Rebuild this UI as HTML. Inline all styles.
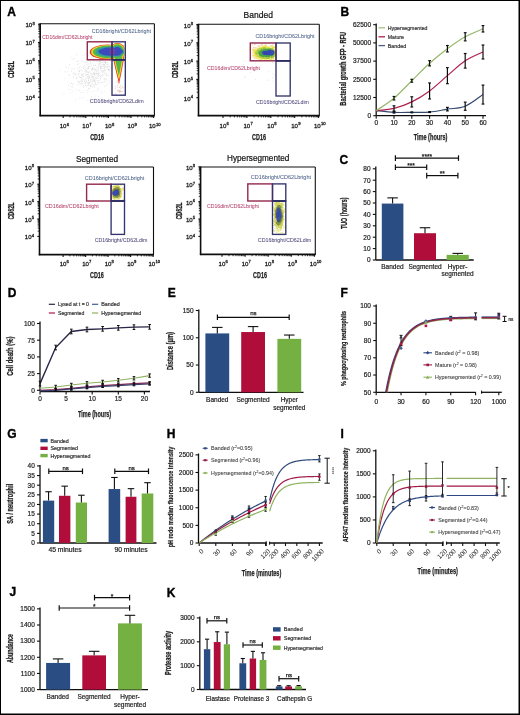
<!DOCTYPE html><html><head><meta charset="utf-8"><style>html,body{margin:0;padding:0;background:#fff;}svg{display:block;will-change:transform;}</style></head><body><svg width="520" height="715" viewBox="0 0 520 715" font-family='"Liberation Sans", sans-serif'>
<rect x="0" y="0" width="520" height="715" fill="#fff"/>
<defs><filter id="gblur" x="0" y="0" width="520" height="715" filterUnits="userSpaceOnUse"><feGaussianBlur stdDeviation="0.45"/></filter></defs>
<g filter="url(#gblur)"><rect x="0" y="0" width="520" height="715" fill="#fff"/>
<text x="7.3" y="15.8" font-size="12" font-weight="bold" fill="#000" stroke="#000" stroke-width="0.35">A</text>
<text x="340.6" y="15.8" font-size="12" font-weight="bold" fill="#000" stroke="#000" stroke-width="0.35">B</text>
<text x="339.6" y="164.4" font-size="12" font-weight="bold" fill="#000" stroke="#000" stroke-width="0.35">C</text>
<text x="7.7" y="297" font-size="12" font-weight="bold" fill="#000" stroke="#000" stroke-width="0.35">D</text>
<text x="167.7" y="297.3" font-size="12" font-weight="bold" fill="#000" stroke="#000" stroke-width="0.35">E</text>
<text x="340.6" y="297" font-size="12" font-weight="bold" fill="#000" stroke="#000" stroke-width="0.35">F</text>
<text x="7.3" y="438.3" font-size="12" font-weight="bold" fill="#000" stroke="#000" stroke-width="0.35">G</text>
<text x="166.7" y="438.3" font-size="12" font-weight="bold" fill="#000" stroke="#000" stroke-width="0.35">H</text>
<text x="340.6" y="438.3" font-size="12" font-weight="bold" fill="#000" stroke="#000" stroke-width="0.35">I</text>
<text x="9.6" y="595.6" font-size="12" font-weight="bold" fill="#000" stroke="#000" stroke-width="0.35">J</text>
<text x="166.7" y="596.5" font-size="12" font-weight="bold" fill="#000" stroke="#000" stroke-width="0.35">K</text>
<line x1="376.20" y1="23.50" x2="376.20" y2="115.70" stroke="#111" stroke-width="1.3" />
<line x1="373.20" y1="115.70" x2="376.20" y2="115.70" stroke="#111" stroke-width="1.1" />
<text x="371.00" y="118.04" font-size="6.5" text-anchor="end" fill="#222" stroke="#222" stroke-width="0.2" >0</text>
<line x1="373.20" y1="97.50" x2="376.20" y2="97.50" stroke="#111" stroke-width="1.1" />
<text x="371.00" y="99.84" font-size="6.5" text-anchor="end" fill="#222" stroke="#222" stroke-width="0.2" >12500</text>
<line x1="373.20" y1="79.30" x2="376.20" y2="79.30" stroke="#111" stroke-width="1.1" />
<text x="371.00" y="81.64" font-size="6.5" text-anchor="end" fill="#222" stroke="#222" stroke-width="0.2" >25000</text>
<line x1="373.20" y1="61.10" x2="376.20" y2="61.10" stroke="#111" stroke-width="1.1" />
<text x="371.00" y="63.44" font-size="6.5" text-anchor="end" fill="#222" stroke="#222" stroke-width="0.2" >37500</text>
<line x1="373.20" y1="42.90" x2="376.20" y2="42.90" stroke="#111" stroke-width="1.1" />
<text x="371.00" y="45.24" font-size="6.5" text-anchor="end" fill="#222" stroke="#222" stroke-width="0.2" >50000</text>
<line x1="373.20" y1="24.70" x2="376.20" y2="24.70" stroke="#111" stroke-width="1.1" />
<text x="371.00" y="27.04" font-size="6.5" text-anchor="end" fill="#222" stroke="#222" stroke-width="0.2" >62500</text>
<line x1="376.20" y1="115.70" x2="486.00" y2="115.70" stroke="#111" stroke-width="1.3" />
<line x1="376.20" y1="115.70" x2="376.20" y2="118.70" stroke="#111" stroke-width="1.1" />
<text x="376.20" y="124.74" font-size="6.5" text-anchor="middle" fill="#222" stroke="#222" stroke-width="0.2" >0</text>
<line x1="394.00" y1="115.70" x2="394.00" y2="118.70" stroke="#111" stroke-width="1.1" />
<text x="394.00" y="124.74" font-size="6.5" text-anchor="middle" fill="#222" stroke="#222" stroke-width="0.2" >10</text>
<line x1="411.80" y1="115.70" x2="411.80" y2="118.70" stroke="#111" stroke-width="1.1" />
<text x="411.80" y="124.74" font-size="6.5" text-anchor="middle" fill="#222" stroke="#222" stroke-width="0.2" >20</text>
<line x1="429.60" y1="115.70" x2="429.60" y2="118.70" stroke="#111" stroke-width="1.1" />
<text x="429.60" y="124.74" font-size="6.5" text-anchor="middle" fill="#222" stroke="#222" stroke-width="0.2" >30</text>
<line x1="447.40" y1="115.70" x2="447.40" y2="118.70" stroke="#111" stroke-width="1.1" />
<text x="447.40" y="124.74" font-size="6.5" text-anchor="middle" fill="#222" stroke="#222" stroke-width="0.2" >40</text>
<line x1="465.20" y1="115.70" x2="465.20" y2="118.70" stroke="#111" stroke-width="1.1" />
<text x="465.20" y="124.74" font-size="6.5" text-anchor="middle" fill="#222" stroke="#222" stroke-width="0.2" >50</text>
<line x1="483.00" y1="115.70" x2="483.00" y2="118.70" stroke="#111" stroke-width="1.1" />
<text x="483.00" y="124.74" font-size="6.5" text-anchor="middle" fill="#222" stroke="#222" stroke-width="0.2" >60</text>
<text x="343.80" y="68.80" font-size="8.2" text-anchor="middle" fill="#222" font-weight="bold" dominant-baseline="central" stroke="#222" stroke-width="0.25" textLength="73.7" lengthAdjust="spacingAndGlyphs" transform="rotate(-90 343.80 68.80)">Bacterial growth GFP - RFU</text>
<text x="430.50" y="139.80" font-size="8.6" text-anchor="middle" fill="#222" font-weight="bold" stroke="#222" stroke-width="0.25" textLength="33.7" lengthAdjust="spacingAndGlyphs" >Time (hours)</text>
<path d="M376.20,110.60 C379.17,110.90 388.07,112.06 394.00,112.35 C399.93,112.64 405.87,112.40 411.80,112.35 C417.73,112.30 423.67,112.59 429.60,112.06 C435.53,111.53 441.47,110.12 447.40,109.15 C453.33,108.18 459.27,108.66 465.20,106.24 C471.13,103.81 480.03,96.53 483.00,94.59" fill="none" stroke="#34496e" stroke-width="1.2" />
<path d="M376.20,110.60 C379.17,110.24 388.07,109.88 394.00,108.42 C399.93,106.96 405.87,104.78 411.80,101.87 C417.73,98.96 423.67,95.32 429.60,90.95 C435.53,86.58 441.47,80.68 447.40,75.66 C453.33,70.64 459.27,64.75 465.20,60.81 C471.13,56.87 480.03,53.47 483.00,52.00" fill="none" stroke="#b0204e" stroke-width="1.2" />
<path d="M376.20,110.60 C379.17,108.54 388.07,103.20 394.00,98.23 C399.93,93.25 405.87,86.58 411.80,80.76 C417.73,74.93 423.67,68.62 429.60,63.28 C435.53,57.95 441.47,53.14 447.40,48.72 C453.33,44.31 459.27,40.11 465.20,36.78 C471.13,33.46 480.03,30.11 483.00,28.78" fill="none" stroke="#96b86a" stroke-width="1.2" />
<line x1="394.00" y1="111.62" x2="394.00" y2="113.08" stroke="#111" stroke-width="1.2" />
<line x1="392.60" y1="111.62" x2="395.40" y2="111.62" stroke="#111" stroke-width="1.2" />
<line x1="392.60" y1="113.08" x2="395.40" y2="113.08" stroke="#111" stroke-width="1.2" />
<line x1="411.80" y1="111.91" x2="411.80" y2="112.79" stroke="#111" stroke-width="1.2" />
<line x1="410.40" y1="111.91" x2="413.20" y2="111.91" stroke="#111" stroke-width="1.2" />
<line x1="410.40" y1="112.79" x2="413.20" y2="112.79" stroke="#111" stroke-width="1.2" />
<line x1="429.60" y1="111.62" x2="429.60" y2="112.50" stroke="#111" stroke-width="1.2" />
<line x1="428.20" y1="111.62" x2="431.00" y2="111.62" stroke="#111" stroke-width="1.2" />
<line x1="428.20" y1="112.50" x2="431.00" y2="112.50" stroke="#111" stroke-width="1.2" />
<line x1="447.40" y1="107.40" x2="447.40" y2="110.90" stroke="#111" stroke-width="1.2" />
<line x1="446.00" y1="107.40" x2="448.80" y2="107.40" stroke="#111" stroke-width="1.2" />
<line x1="446.00" y1="110.90" x2="448.80" y2="110.90" stroke="#111" stroke-width="1.2" />
<line x1="465.20" y1="102.16" x2="465.20" y2="110.31" stroke="#111" stroke-width="1.2" />
<line x1="463.80" y1="102.16" x2="466.60" y2="102.16" stroke="#111" stroke-width="1.2" />
<line x1="463.80" y1="110.31" x2="466.60" y2="110.31" stroke="#111" stroke-width="1.2" />
<line x1="483.00" y1="85.12" x2="483.00" y2="104.05" stroke="#111" stroke-width="1.2" />
<line x1="481.60" y1="85.12" x2="484.40" y2="85.12" stroke="#111" stroke-width="1.2" />
<line x1="481.60" y1="104.05" x2="484.40" y2="104.05" stroke="#111" stroke-width="1.2" />
<line x1="394.00" y1="105.80" x2="394.00" y2="111.04" stroke="#111" stroke-width="1.2" />
<line x1="392.60" y1="105.80" x2="395.40" y2="105.80" stroke="#111" stroke-width="1.2" />
<line x1="392.60" y1="111.04" x2="395.40" y2="111.04" stroke="#111" stroke-width="1.2" />
<line x1="411.80" y1="96.77" x2="411.80" y2="106.96" stroke="#111" stroke-width="1.2" />
<line x1="410.40" y1="96.77" x2="413.20" y2="96.77" stroke="#111" stroke-width="1.2" />
<line x1="410.40" y1="106.96" x2="413.20" y2="106.96" stroke="#111" stroke-width="1.2" />
<line x1="429.60" y1="82.94" x2="429.60" y2="98.96" stroke="#111" stroke-width="1.2" />
<line x1="428.20" y1="82.94" x2="431.00" y2="82.94" stroke="#111" stroke-width="1.2" />
<line x1="428.20" y1="98.96" x2="431.00" y2="98.96" stroke="#111" stroke-width="1.2" />
<line x1="447.40" y1="67.65" x2="447.40" y2="83.67" stroke="#111" stroke-width="1.2" />
<line x1="446.00" y1="67.65" x2="448.80" y2="67.65" stroke="#111" stroke-width="1.2" />
<line x1="446.00" y1="83.67" x2="448.80" y2="83.67" stroke="#111" stroke-width="1.2" />
<line x1="465.20" y1="53.53" x2="465.20" y2="68.09" stroke="#111" stroke-width="1.2" />
<line x1="463.80" y1="53.53" x2="466.60" y2="53.53" stroke="#111" stroke-width="1.2" />
<line x1="463.80" y1="68.09" x2="466.60" y2="68.09" stroke="#111" stroke-width="1.2" />
<line x1="483.00" y1="45.01" x2="483.00" y2="58.99" stroke="#111" stroke-width="1.2" />
<line x1="481.60" y1="45.01" x2="484.40" y2="45.01" stroke="#111" stroke-width="1.2" />
<line x1="481.60" y1="58.99" x2="484.40" y2="58.99" stroke="#111" stroke-width="1.2" />
<line x1="394.00" y1="96.48" x2="394.00" y2="99.98" stroke="#111" stroke-width="1.2" />
<line x1="392.60" y1="96.48" x2="395.40" y2="96.48" stroke="#111" stroke-width="1.2" />
<line x1="392.60" y1="99.98" x2="395.40" y2="99.98" stroke="#111" stroke-width="1.2" />
<line x1="411.80" y1="79.30" x2="411.80" y2="82.21" stroke="#111" stroke-width="1.2" />
<line x1="410.40" y1="79.30" x2="413.20" y2="79.30" stroke="#111" stroke-width="1.2" />
<line x1="410.40" y1="82.21" x2="413.20" y2="82.21" stroke="#111" stroke-width="1.2" />
<line x1="429.60" y1="60.66" x2="429.60" y2="65.90" stroke="#111" stroke-width="1.2" />
<line x1="428.20" y1="60.66" x2="431.00" y2="60.66" stroke="#111" stroke-width="1.2" />
<line x1="428.20" y1="65.90" x2="431.00" y2="65.90" stroke="#111" stroke-width="1.2" />
<line x1="447.40" y1="45.52" x2="447.40" y2="51.93" stroke="#111" stroke-width="1.2" />
<line x1="446.00" y1="45.52" x2="448.80" y2="45.52" stroke="#111" stroke-width="1.2" />
<line x1="446.00" y1="51.93" x2="448.80" y2="51.93" stroke="#111" stroke-width="1.2" />
<line x1="465.20" y1="32.71" x2="465.20" y2="40.86" stroke="#111" stroke-width="1.2" />
<line x1="463.80" y1="32.71" x2="466.60" y2="32.71" stroke="#111" stroke-width="1.2" />
<line x1="463.80" y1="40.86" x2="466.60" y2="40.86" stroke="#111" stroke-width="1.2" />
<line x1="483.00" y1="25.57" x2="483.00" y2="31.98" stroke="#111" stroke-width="1.2" />
<line x1="481.60" y1="25.57" x2="484.40" y2="25.57" stroke="#111" stroke-width="1.2" />
<line x1="481.60" y1="31.98" x2="484.40" y2="31.98" stroke="#111" stroke-width="1.2" />
<line x1="378.50" y1="27.80" x2="385.00" y2="27.80" stroke="#a8c080" stroke-width="1.3" />
<text x="387.80" y="29.82" font-size="5.6" text-anchor="start" fill="#333" stroke="#333" stroke-width="0.2" textLength="39.7" lengthAdjust="spacingAndGlyphs" >Hypersegmented</text>
<line x1="378.50" y1="36.80" x2="385.00" y2="36.80" stroke="#b0204e" stroke-width="1.3" />
<text x="387.80" y="38.82" font-size="5.6" text-anchor="start" fill="#333" stroke="#333" stroke-width="0.2" textLength="16.1" lengthAdjust="spacingAndGlyphs" >Mature</text>
<line x1="378.50" y1="45.60" x2="385.00" y2="45.60" stroke="#4a6080" stroke-width="1.3" />
<text x="387.80" y="47.62" font-size="5.6" text-anchor="start" fill="#333" stroke="#333" stroke-width="0.2" textLength="18.4" lengthAdjust="spacingAndGlyphs" >Banded</text>
<line x1="375.80" y1="166.60" x2="375.80" y2="260.00" stroke="#111" stroke-width="1.3" />
<line x1="372.80" y1="260.00" x2="375.80" y2="260.00" stroke="#111" stroke-width="1.1" />
<text x="370.60" y="262.34" font-size="6.5" text-anchor="end" fill="#222" stroke="#222" stroke-width="0.2" >0</text>
<line x1="372.80" y1="248.60" x2="375.80" y2="248.60" stroke="#111" stroke-width="1.1" />
<text x="370.60" y="250.94" font-size="6.5" text-anchor="end" fill="#222" stroke="#222" stroke-width="0.2" >10</text>
<line x1="372.80" y1="237.20" x2="375.80" y2="237.20" stroke="#111" stroke-width="1.1" />
<text x="370.60" y="239.54" font-size="6.5" text-anchor="end" fill="#222" stroke="#222" stroke-width="0.2" >20</text>
<line x1="372.80" y1="225.80" x2="375.80" y2="225.80" stroke="#111" stroke-width="1.1" />
<text x="370.60" y="228.14" font-size="6.5" text-anchor="end" fill="#222" stroke="#222" stroke-width="0.2" >30</text>
<line x1="372.80" y1="214.40" x2="375.80" y2="214.40" stroke="#111" stroke-width="1.1" />
<text x="370.60" y="216.74" font-size="6.5" text-anchor="end" fill="#222" stroke="#222" stroke-width="0.2" >40</text>
<line x1="372.80" y1="203.00" x2="375.80" y2="203.00" stroke="#111" stroke-width="1.1" />
<text x="370.60" y="205.34" font-size="6.5" text-anchor="end" fill="#222" stroke="#222" stroke-width="0.2" >50</text>
<line x1="372.80" y1="191.60" x2="375.80" y2="191.60" stroke="#111" stroke-width="1.1" />
<text x="370.60" y="193.94" font-size="6.5" text-anchor="end" fill="#222" stroke="#222" stroke-width="0.2" >60</text>
<line x1="372.80" y1="180.20" x2="375.80" y2="180.20" stroke="#111" stroke-width="1.1" />
<text x="370.60" y="182.54" font-size="6.5" text-anchor="end" fill="#222" stroke="#222" stroke-width="0.2" >70</text>
<line x1="372.80" y1="168.80" x2="375.80" y2="168.80" stroke="#111" stroke-width="1.1" />
<text x="370.60" y="171.14" font-size="6.5" text-anchor="end" fill="#222" stroke="#222" stroke-width="0.2" >80</text>
<line x1="375.80" y1="260.00" x2="473.70" y2="260.00" stroke="#111" stroke-width="1.3" />
<text x="344.40" y="213.30" font-size="8.2" text-anchor="middle" fill="#222" font-weight="bold" dominant-baseline="central" stroke="#222" stroke-width="0.25" textLength="31.6" lengthAdjust="spacingAndGlyphs" transform="rotate(-90 344.40 213.30)">TUO (hours)</text>
<rect x="381.80" y="203.57" width="21.60" height="56.43" fill="#2c4d84" />
<line x1="392.60" y1="203.57" x2="392.60" y2="197.87" stroke="#111" stroke-width="1.1" />
<line x1="387.35" y1="197.87" x2="397.85" y2="197.87" stroke="#111" stroke-width="1.1" />
<rect x="414.00" y="233.21" width="22.00" height="26.79" fill="#b0103a" />
<line x1="425.00" y1="233.21" x2="425.00" y2="227.74" stroke="#111" stroke-width="1.1" />
<line x1="419.75" y1="227.74" x2="430.25" y2="227.74" stroke="#111" stroke-width="1.1" />
<rect x="446.60" y="254.87" width="22.20" height="5.13" fill="#74b043" />
<line x1="457.70" y1="254.87" x2="457.70" y2="253.39" stroke="#111" stroke-width="1.1" />
<line x1="452.45" y1="253.39" x2="462.95" y2="253.39" stroke="#111" stroke-width="1.1" />
<line x1="395.40" y1="158.10" x2="458.50" y2="158.10" stroke="#111" stroke-width="1.2" />
<line x1="395.40" y1="155.30" x2="395.40" y2="160.90" stroke="#111" stroke-width="1.2" />
<line x1="458.50" y1="155.30" x2="458.50" y2="160.90" stroke="#111" stroke-width="1.2" />
<text x="426.95" y="158.83" font-size="6.6" text-anchor="middle" fill="#222" stroke="#222" stroke-width="0.25">****</text>
<line x1="395.40" y1="167.30" x2="426.70" y2="167.30" stroke="#111" stroke-width="1.2" />
<line x1="395.40" y1="164.50" x2="395.40" y2="170.10" stroke="#111" stroke-width="1.2" />
<line x1="426.70" y1="164.50" x2="426.70" y2="170.10" stroke="#111" stroke-width="1.2" />
<text x="411.05" y="168.03" font-size="6.6" text-anchor="middle" fill="#222" stroke="#222" stroke-width="0.25">***</text>
<line x1="426.70" y1="175.60" x2="457.90" y2="175.60" stroke="#111" stroke-width="1.2" />
<line x1="426.70" y1="172.80" x2="426.70" y2="178.40" stroke="#111" stroke-width="1.2" />
<line x1="457.90" y1="172.80" x2="457.90" y2="178.40" stroke="#111" stroke-width="1.2" />
<text x="442.30" y="176.43" font-size="6.6" text-anchor="middle" fill="#222" stroke="#222" stroke-width="0.25">**</text>
<text x="392.50" y="269.04" font-size="6.5" text-anchor="middle" fill="#222" stroke="#222" stroke-width="0.2" >Banded</text>
<text x="425.00" y="269.04" font-size="6.5" text-anchor="middle" fill="#222" stroke="#222" stroke-width="0.2" >Segmented</text>
<text x="457.60" y="269.04" font-size="6.5" text-anchor="middle" fill="#222" stroke="#222" stroke-width="0.2" >Hyper-</text>
<text x="457.60" y="276.34" font-size="6.5" text-anchor="middle" fill="#222" stroke="#222" stroke-width="0.2" >segmented</text>
<line x1="40.00" y1="321.50" x2="40.00" y2="391.50" stroke="#111" stroke-width="1.3" />
<line x1="37.00" y1="390.30" x2="40.00" y2="390.30" stroke="#111" stroke-width="1.1" />
<text x="34.80" y="392.64" font-size="6.5" text-anchor="end" fill="#222" stroke="#222" stroke-width="0.2" >0</text>
<line x1="37.00" y1="373.60" x2="40.00" y2="373.60" stroke="#111" stroke-width="1.1" />
<text x="34.80" y="375.94" font-size="6.5" text-anchor="end" fill="#222" stroke="#222" stroke-width="0.2" >25</text>
<line x1="37.00" y1="356.90" x2="40.00" y2="356.90" stroke="#111" stroke-width="1.1" />
<text x="34.80" y="359.24" font-size="6.5" text-anchor="end" fill="#222" stroke="#222" stroke-width="0.2" >50</text>
<line x1="37.00" y1="340.20" x2="40.00" y2="340.20" stroke="#111" stroke-width="1.1" />
<text x="34.80" y="342.54" font-size="6.5" text-anchor="end" fill="#222" stroke="#222" stroke-width="0.2" >75</text>
<line x1="37.00" y1="323.50" x2="40.00" y2="323.50" stroke="#111" stroke-width="1.1" />
<text x="34.80" y="325.84" font-size="6.5" text-anchor="end" fill="#222" stroke="#222" stroke-width="0.2" >100</text>
<line x1="40.00" y1="391.50" x2="150.00" y2="391.50" stroke="#111" stroke-width="1.3" />
<line x1="40.00" y1="391.50" x2="40.00" y2="394.50" stroke="#111" stroke-width="1.1" />
<text x="40.00" y="400.54" font-size="6.5" text-anchor="middle" fill="#222" stroke="#222" stroke-width="0.2" >0</text>
<line x1="66.10" y1="391.50" x2="66.10" y2="394.50" stroke="#111" stroke-width="1.1" />
<text x="66.10" y="400.54" font-size="6.5" text-anchor="middle" fill="#222" stroke="#222" stroke-width="0.2" >5</text>
<line x1="92.20" y1="391.50" x2="92.20" y2="394.50" stroke="#111" stroke-width="1.1" />
<text x="92.20" y="400.54" font-size="6.5" text-anchor="middle" fill="#222" stroke="#222" stroke-width="0.2" >10</text>
<line x1="118.30" y1="391.50" x2="118.30" y2="394.50" stroke="#111" stroke-width="1.1" />
<text x="118.30" y="400.54" font-size="6.5" text-anchor="middle" fill="#222" stroke="#222" stroke-width="0.2" >15</text>
<line x1="144.40" y1="391.50" x2="144.40" y2="394.50" stroke="#111" stroke-width="1.1" />
<text x="144.40" y="400.54" font-size="6.5" text-anchor="middle" fill="#222" stroke="#222" stroke-width="0.2" >20</text>
<text x="10.70" y="356.20" font-size="8.2" text-anchor="middle" fill="#222" font-weight="bold" dominant-baseline="central" stroke="#222" stroke-width="0.25" textLength="39.3" lengthAdjust="spacingAndGlyphs" transform="rotate(-90 10.70 356.20)">Cell death (%)</text>
<text x="94.60" y="416.90" font-size="8.6" text-anchor="middle" fill="#222" font-weight="bold" stroke="#222" stroke-width="0.25" textLength="33.2" lengthAdjust="spacingAndGlyphs" >Time (hours)</text>
<path d="M40.00,388.30 L55.66,386.96 L71.32,384.96 L86.98,383.29 L102.64,381.95 L118.30,380.28 L133.96,378.28 L149.62,375.60" fill="none" stroke="#8fb35e" stroke-width="1.1" />
<path d="M40.00,390.30 L55.66,389.63 L71.32,388.30 L86.98,386.96 L102.64,385.62 L118.30,384.62 L133.96,383.62 L149.62,382.95" fill="none" stroke="#8a2050" stroke-width="1.2" />
<path d="M40.00,390.97 L55.66,390.30 L71.32,388.96 L86.98,387.63 L102.64,386.29 L118.30,385.62 L133.96,384.62 L149.62,383.95" fill="none" stroke="#3a3f6e" stroke-width="1.2" />
<path d="M40.00,383.62 L55.66,347.55 L71.32,331.52 L86.98,329.51 L102.64,328.84 L118.30,327.84 L133.96,327.17 L149.62,326.84" fill="none" stroke="#2a2748" stroke-width="1.4" />
<line x1="40.00" y1="381.28" x2="40.00" y2="385.96" stroke="#111" stroke-width="1.0" />
<line x1="38.70" y1="381.28" x2="41.30" y2="381.28" stroke="#111" stroke-width="1.0" />
<line x1="38.70" y1="385.96" x2="41.30" y2="385.96" stroke="#111" stroke-width="1.0" />
<line x1="55.66" y1="345.21" x2="55.66" y2="349.89" stroke="#111" stroke-width="1.0" />
<line x1="54.36" y1="345.21" x2="56.96" y2="345.21" stroke="#111" stroke-width="1.0" />
<line x1="54.36" y1="349.89" x2="56.96" y2="349.89" stroke="#111" stroke-width="1.0" />
<line x1="71.32" y1="329.18" x2="71.32" y2="333.85" stroke="#111" stroke-width="1.0" />
<line x1="70.02" y1="329.18" x2="72.62" y2="329.18" stroke="#111" stroke-width="1.0" />
<line x1="70.02" y1="333.85" x2="72.62" y2="333.85" stroke="#111" stroke-width="1.0" />
<line x1="86.98" y1="327.17" x2="86.98" y2="331.85" stroke="#111" stroke-width="1.0" />
<line x1="85.68" y1="327.17" x2="88.28" y2="327.17" stroke="#111" stroke-width="1.0" />
<line x1="85.68" y1="331.85" x2="88.28" y2="331.85" stroke="#111" stroke-width="1.0" />
<line x1="102.64" y1="326.51" x2="102.64" y2="331.18" stroke="#111" stroke-width="1.0" />
<line x1="101.34" y1="326.51" x2="103.94" y2="326.51" stroke="#111" stroke-width="1.0" />
<line x1="101.34" y1="331.18" x2="103.94" y2="331.18" stroke="#111" stroke-width="1.0" />
<line x1="118.30" y1="325.50" x2="118.30" y2="330.18" stroke="#111" stroke-width="1.0" />
<line x1="117.00" y1="325.50" x2="119.60" y2="325.50" stroke="#111" stroke-width="1.0" />
<line x1="117.00" y1="330.18" x2="119.60" y2="330.18" stroke="#111" stroke-width="1.0" />
<line x1="133.96" y1="324.84" x2="133.96" y2="329.51" stroke="#111" stroke-width="1.0" />
<line x1="132.66" y1="324.84" x2="135.26" y2="324.84" stroke="#111" stroke-width="1.0" />
<line x1="132.66" y1="329.51" x2="135.26" y2="329.51" stroke="#111" stroke-width="1.0" />
<line x1="149.62" y1="324.50" x2="149.62" y2="329.18" stroke="#111" stroke-width="1.0" />
<line x1="148.32" y1="324.50" x2="150.92" y2="324.50" stroke="#111" stroke-width="1.0" />
<line x1="148.32" y1="329.18" x2="150.92" y2="329.18" stroke="#111" stroke-width="1.0" />
<line x1="55.66" y1="385.29" x2="55.66" y2="388.63" stroke="#111" stroke-width="1.0" />
<line x1="54.36" y1="385.29" x2="56.96" y2="385.29" stroke="#111" stroke-width="1.0" />
<line x1="54.36" y1="388.63" x2="56.96" y2="388.63" stroke="#111" stroke-width="1.0" />
<line x1="71.32" y1="383.29" x2="71.32" y2="386.63" stroke="#111" stroke-width="1.0" />
<line x1="70.02" y1="383.29" x2="72.62" y2="383.29" stroke="#111" stroke-width="1.0" />
<line x1="70.02" y1="386.63" x2="72.62" y2="386.63" stroke="#111" stroke-width="1.0" />
<line x1="86.98" y1="381.62" x2="86.98" y2="384.96" stroke="#111" stroke-width="1.0" />
<line x1="85.68" y1="381.62" x2="88.28" y2="381.62" stroke="#111" stroke-width="1.0" />
<line x1="85.68" y1="384.96" x2="88.28" y2="384.96" stroke="#111" stroke-width="1.0" />
<line x1="102.64" y1="380.28" x2="102.64" y2="383.62" stroke="#111" stroke-width="1.0" />
<line x1="101.34" y1="380.28" x2="103.94" y2="380.28" stroke="#111" stroke-width="1.0" />
<line x1="101.34" y1="383.62" x2="103.94" y2="383.62" stroke="#111" stroke-width="1.0" />
<line x1="118.30" y1="378.61" x2="118.30" y2="381.95" stroke="#111" stroke-width="1.0" />
<line x1="117.00" y1="378.61" x2="119.60" y2="378.61" stroke="#111" stroke-width="1.0" />
<line x1="117.00" y1="381.95" x2="119.60" y2="381.95" stroke="#111" stroke-width="1.0" />
<line x1="133.96" y1="376.61" x2="133.96" y2="379.95" stroke="#111" stroke-width="1.0" />
<line x1="132.66" y1="376.61" x2="135.26" y2="376.61" stroke="#111" stroke-width="1.0" />
<line x1="132.66" y1="379.95" x2="135.26" y2="379.95" stroke="#111" stroke-width="1.0" />
<line x1="149.62" y1="373.93" x2="149.62" y2="377.27" stroke="#111" stroke-width="1.0" />
<line x1="148.32" y1="373.93" x2="150.92" y2="373.93" stroke="#111" stroke-width="1.0" />
<line x1="148.32" y1="377.27" x2="150.92" y2="377.27" stroke="#111" stroke-width="1.0" />
<line x1="55.66" y1="388.30" x2="55.66" y2="390.97" stroke="#111" stroke-width="1.0" />
<line x1="54.36" y1="388.30" x2="56.96" y2="388.30" stroke="#111" stroke-width="1.0" />
<line x1="54.36" y1="390.97" x2="56.96" y2="390.97" stroke="#111" stroke-width="1.0" />
<line x1="71.32" y1="386.96" x2="71.32" y2="389.63" stroke="#111" stroke-width="1.0" />
<line x1="70.02" y1="386.96" x2="72.62" y2="386.96" stroke="#111" stroke-width="1.0" />
<line x1="70.02" y1="389.63" x2="72.62" y2="389.63" stroke="#111" stroke-width="1.0" />
<line x1="86.98" y1="385.62" x2="86.98" y2="388.30" stroke="#111" stroke-width="1.0" />
<line x1="85.68" y1="385.62" x2="88.28" y2="385.62" stroke="#111" stroke-width="1.0" />
<line x1="85.68" y1="388.30" x2="88.28" y2="388.30" stroke="#111" stroke-width="1.0" />
<line x1="102.64" y1="384.29" x2="102.64" y2="386.96" stroke="#111" stroke-width="1.0" />
<line x1="101.34" y1="384.29" x2="103.94" y2="384.29" stroke="#111" stroke-width="1.0" />
<line x1="101.34" y1="386.96" x2="103.94" y2="386.96" stroke="#111" stroke-width="1.0" />
<line x1="118.30" y1="383.29" x2="118.30" y2="385.96" stroke="#111" stroke-width="1.0" />
<line x1="117.00" y1="383.29" x2="119.60" y2="383.29" stroke="#111" stroke-width="1.0" />
<line x1="117.00" y1="385.96" x2="119.60" y2="385.96" stroke="#111" stroke-width="1.0" />
<line x1="133.96" y1="382.28" x2="133.96" y2="384.96" stroke="#111" stroke-width="1.0" />
<line x1="132.66" y1="382.28" x2="135.26" y2="382.28" stroke="#111" stroke-width="1.0" />
<line x1="132.66" y1="384.96" x2="135.26" y2="384.96" stroke="#111" stroke-width="1.0" />
<line x1="149.62" y1="381.62" x2="149.62" y2="384.29" stroke="#111" stroke-width="1.0" />
<line x1="148.32" y1="381.62" x2="150.92" y2="381.62" stroke="#111" stroke-width="1.0" />
<line x1="148.32" y1="384.29" x2="150.92" y2="384.29" stroke="#111" stroke-width="1.0" />
<line x1="55.66" y1="389.10" x2="55.66" y2="391.50" stroke="#111" stroke-width="1.0" />
<line x1="54.36" y1="389.10" x2="56.96" y2="389.10" stroke="#111" stroke-width="1.0" />
<line x1="54.36" y1="391.50" x2="56.96" y2="391.50" stroke="#111" stroke-width="1.0" />
<line x1="71.32" y1="387.76" x2="71.32" y2="390.17" stroke="#111" stroke-width="1.0" />
<line x1="70.02" y1="387.76" x2="72.62" y2="387.76" stroke="#111" stroke-width="1.0" />
<line x1="70.02" y1="390.17" x2="72.62" y2="390.17" stroke="#111" stroke-width="1.0" />
<line x1="86.98" y1="386.43" x2="86.98" y2="388.83" stroke="#111" stroke-width="1.0" />
<line x1="85.68" y1="386.43" x2="88.28" y2="386.43" stroke="#111" stroke-width="1.0" />
<line x1="85.68" y1="388.83" x2="88.28" y2="388.83" stroke="#111" stroke-width="1.0" />
<line x1="102.64" y1="385.09" x2="102.64" y2="387.49" stroke="#111" stroke-width="1.0" />
<line x1="101.34" y1="385.09" x2="103.94" y2="385.09" stroke="#111" stroke-width="1.0" />
<line x1="101.34" y1="387.49" x2="103.94" y2="387.49" stroke="#111" stroke-width="1.0" />
<line x1="118.30" y1="384.42" x2="118.30" y2="386.83" stroke="#111" stroke-width="1.0" />
<line x1="117.00" y1="384.42" x2="119.60" y2="384.42" stroke="#111" stroke-width="1.0" />
<line x1="117.00" y1="386.83" x2="119.60" y2="386.83" stroke="#111" stroke-width="1.0" />
<line x1="133.96" y1="383.42" x2="133.96" y2="385.82" stroke="#111" stroke-width="1.0" />
<line x1="132.66" y1="383.42" x2="135.26" y2="383.42" stroke="#111" stroke-width="1.0" />
<line x1="132.66" y1="385.82" x2="135.26" y2="385.82" stroke="#111" stroke-width="1.0" />
<line x1="149.62" y1="382.75" x2="149.62" y2="385.16" stroke="#111" stroke-width="1.0" />
<line x1="148.32" y1="382.75" x2="150.92" y2="382.75" stroke="#111" stroke-width="1.0" />
<line x1="148.32" y1="385.16" x2="150.92" y2="385.16" stroke="#111" stroke-width="1.0" />
<line x1="48.80" y1="304.30" x2="55.00" y2="304.30" stroke="#2a2748" stroke-width="1.2" />
<text x="58.00" y="306.32" font-size="5.6" text-anchor="start" fill="#333" stroke="#333" stroke-width="0.2" textLength="31" lengthAdjust="spacingAndGlyphs" >Lysed at t = 0</text>
<line x1="92.00" y1="304.30" x2="98.20" y2="304.30" stroke="#3b5f93" stroke-width="1.2" />
<text x="101.20" y="306.32" font-size="5.6" text-anchor="start" fill="#333" stroke="#333" stroke-width="0.2" textLength="18.6" lengthAdjust="spacingAndGlyphs" >Banded</text>
<line x1="48.80" y1="313.00" x2="55.00" y2="313.00" stroke="#b5174a" stroke-width="1.2" />
<text x="58.00" y="315.02" font-size="5.6" text-anchor="start" fill="#333" stroke="#333" stroke-width="0.2" textLength="26.3" lengthAdjust="spacingAndGlyphs" >Segmented</text>
<line x1="92.00" y1="313.00" x2="98.20" y2="313.00" stroke="#8fb35e" stroke-width="1.2" />
<text x="101.20" y="315.02" font-size="5.6" text-anchor="start" fill="#333" stroke="#333" stroke-width="0.2" textLength="40" lengthAdjust="spacingAndGlyphs" >Hypersegmented</text>
<line x1="198.80" y1="309.50" x2="198.80" y2="392.30" stroke="#111" stroke-width="1.3" />
<line x1="195.80" y1="392.30" x2="198.80" y2="392.30" stroke="#111" stroke-width="1.1" />
<text x="193.60" y="394.64" font-size="6.5" text-anchor="end" fill="#222" stroke="#222" stroke-width="0.2" >0</text>
<line x1="195.80" y1="365.04" x2="198.80" y2="365.04" stroke="#111" stroke-width="1.1" />
<text x="193.60" y="367.38" font-size="6.5" text-anchor="end" fill="#222" stroke="#222" stroke-width="0.2" >50</text>
<line x1="195.80" y1="337.77" x2="198.80" y2="337.77" stroke="#111" stroke-width="1.1" />
<text x="193.60" y="340.11" font-size="6.5" text-anchor="end" fill="#222" stroke="#222" stroke-width="0.2" >100</text>
<line x1="195.80" y1="310.50" x2="198.80" y2="310.50" stroke="#111" stroke-width="1.1" />
<text x="193.60" y="312.84" font-size="6.5" text-anchor="end" fill="#222" stroke="#222" stroke-width="0.2" >150</text>
<line x1="198.80" y1="392.30" x2="303.50" y2="392.30" stroke="#111" stroke-width="1.3" />
<text x="170.00" y="351.00" font-size="8.2" text-anchor="middle" fill="#222" font-weight="bold" dominant-baseline="central" stroke="#222" stroke-width="0.25" textLength="38.1" lengthAdjust="spacingAndGlyphs" transform="rotate(-90 170.00 351.00)">Distance (μm)</text>
<rect x="205.40" y="333.41" width="23.80" height="58.89" fill="#2c4d84" />
<line x1="217.30" y1="333.41" x2="217.30" y2="327.41" stroke="#111" stroke-width="1.1" />
<line x1="212.05" y1="327.41" x2="222.55" y2="327.41" stroke="#111" stroke-width="1.1" />
<rect x="241.20" y="332.04" width="23.80" height="60.26" fill="#b0103a" />
<line x1="253.10" y1="332.04" x2="253.10" y2="326.59" stroke="#111" stroke-width="1.1" />
<line x1="247.85" y1="326.59" x2="258.35" y2="326.59" stroke="#111" stroke-width="1.1" />
<rect x="277.40" y="338.86" width="23.80" height="53.44" fill="#74b043" />
<line x1="289.30" y1="338.86" x2="289.30" y2="335.04" stroke="#111" stroke-width="1.1" />
<line x1="284.05" y1="335.04" x2="294.55" y2="335.04" stroke="#111" stroke-width="1.1" />
<line x1="217.40" y1="317.30" x2="289.20" y2="317.30" stroke="#111" stroke-width="1.2" />
<line x1="217.40" y1="314.50" x2="217.40" y2="320.10" stroke="#111" stroke-width="1.2" />
<line x1="289.20" y1="314.50" x2="289.20" y2="320.10" stroke="#111" stroke-width="1.2" />
<text x="253.30" y="315.42" font-size="6.0" text-anchor="middle" fill="#222" stroke="#222" stroke-width="0.25">ns</text>
<text x="217.30" y="401.54" font-size="6.5" text-anchor="middle" fill="#222" stroke="#222" stroke-width="0.2" >Banded</text>
<text x="253.10" y="401.54" font-size="6.5" text-anchor="middle" fill="#222" stroke="#222" stroke-width="0.2" >Segmented</text>
<text x="289.30" y="401.54" font-size="6.5" text-anchor="middle" fill="#222" stroke="#222" stroke-width="0.2" >Hyper</text>
<text x="289.30" y="409.64" font-size="6.5" text-anchor="middle" fill="#222" stroke="#222" stroke-width="0.2" >segmented</text>
<line x1="376.20" y1="304.50" x2="376.20" y2="392.30" stroke="#111" stroke-width="1.3" />
<line x1="373.20" y1="392.30" x2="376.20" y2="392.30" stroke="#111" stroke-width="1.1" />
<text x="371.00" y="394.64" font-size="6.5" text-anchor="end" fill="#222" stroke="#222" stroke-width="0.2" >50</text>
<line x1="373.20" y1="375.04" x2="376.20" y2="375.04" stroke="#111" stroke-width="1.1" />
<text x="371.00" y="377.38" font-size="6.5" text-anchor="end" fill="#222" stroke="#222" stroke-width="0.2" >60</text>
<line x1="373.20" y1="357.78" x2="376.20" y2="357.78" stroke="#111" stroke-width="1.1" />
<text x="371.00" y="360.12" font-size="6.5" text-anchor="end" fill="#222" stroke="#222" stroke-width="0.2" >70</text>
<line x1="373.20" y1="340.52" x2="376.20" y2="340.52" stroke="#111" stroke-width="1.1" />
<text x="371.00" y="342.86" font-size="6.5" text-anchor="end" fill="#222" stroke="#222" stroke-width="0.2" >80</text>
<line x1="373.20" y1="323.26" x2="376.20" y2="323.26" stroke="#111" stroke-width="1.1" />
<text x="371.00" y="325.60" font-size="6.5" text-anchor="end" fill="#222" stroke="#222" stroke-width="0.2" >90</text>
<line x1="373.20" y1="306.00" x2="376.20" y2="306.00" stroke="#111" stroke-width="1.1" />
<text x="371.00" y="308.34" font-size="6.5" text-anchor="end" fill="#222" stroke="#222" stroke-width="0.2" >100</text>
<line x1="376.20" y1="392.30" x2="475.80" y2="392.30" stroke="#111" stroke-width="1.3" />
<line x1="481.30" y1="392.30" x2="501.80" y2="392.30" stroke="#111" stroke-width="1.3" />
<line x1="481.60" y1="390.60" x2="481.60" y2="393.80" stroke="#111" stroke-width="1.0" />
<line x1="376.20" y1="392.30" x2="376.20" y2="395.30" stroke="#111" stroke-width="1.1" />
<text x="376.20" y="404.44" font-size="6.5" text-anchor="middle" fill="#222" stroke="#222" stroke-width="0.2" >0</text>
<line x1="401.05" y1="392.30" x2="401.05" y2="395.30" stroke="#111" stroke-width="1.1" />
<text x="401.05" y="404.44" font-size="6.5" text-anchor="middle" fill="#222" stroke="#222" stroke-width="0.2" >30</text>
<line x1="425.90" y1="392.30" x2="425.90" y2="395.30" stroke="#111" stroke-width="1.1" />
<text x="425.90" y="404.44" font-size="6.5" text-anchor="middle" fill="#222" stroke="#222" stroke-width="0.2" >60</text>
<line x1="450.75" y1="392.30" x2="450.75" y2="395.30" stroke="#111" stroke-width="1.1" />
<text x="450.75" y="404.44" font-size="6.5" text-anchor="middle" fill="#222" stroke="#222" stroke-width="0.2" >90</text>
<line x1="475.60" y1="392.30" x2="475.60" y2="395.30" stroke="#111" stroke-width="1.1" />
<text x="475.60" y="404.44" font-size="6.5" text-anchor="middle" fill="#222" stroke="#222" stroke-width="0.2" >120</text>
<line x1="498.80" y1="392.30" x2="498.80" y2="395.30" stroke="#111" stroke-width="1.1" />
<text x="499.00" y="404.44" font-size="6.5" text-anchor="middle" fill="#222" stroke="#222" stroke-width="0.2" >1000</text>
<text x="343.90" y="348.50" font-size="8.0" text-anchor="middle" fill="#222" font-weight="bold" dominant-baseline="central" stroke="#222" stroke-width="0.25" textLength="75" lengthAdjust="spacingAndGlyphs" transform="rotate(-90 343.90 348.50)">% phagocytosing neutrophils</text>
<path d="M387.13,392.30 L388.61,384.82 L390.08,378.09 L391.56,372.05 L393.03,366.62 L394.51,361.74 L395.98,357.35 L397.45,353.41 L398.93,349.86 L400.40,346.68 L401.88,343.82 L403.35,341.25 L404.83,338.93 L406.30,336.86 L407.77,334.99 L409.25,333.31 L410.72,331.80 L412.20,330.45 L413.67,329.23 L415.15,328.14 L416.62,327.15 L418.10,326.27 L419.57,325.48 L421.04,324.76 L422.52,324.12 L423.99,323.54 L425.47,323.02 L426.94,322.56 L428.42,322.14 L429.89,321.76 L431.36,321.43 L432.84,321.12 L434.31,320.85 L435.79,320.60 L437.26,320.38 L438.74,320.19 L440.21,320.01 L441.69,319.85 L443.16,319.70 L444.63,319.57 L446.11,319.46 L447.58,319.35 L449.06,319.26 L450.53,319.18 L452.01,319.10 L453.48,319.03 L454.95,318.97 L456.43,318.92 L457.90,318.87 L459.38,318.82 L460.85,318.78 L462.33,318.75 L463.80,318.71 L465.28,318.68 L466.75,318.66 L468.22,318.63 L469.70,318.61 L471.17,318.59 L472.65,318.58 L474.12,318.56 L475.60,318.55" fill="none" stroke="#86a85a" stroke-width="1.3" />
<line x1="481.60" y1="318.43" x2="499.50" y2="318.43" stroke="#86a85a" stroke-width="1.3" />
<path d="M385.64,392.30 L387.14,384.80 L388.64,378.05 L390.14,371.97 L391.64,366.50 L393.14,361.57 L394.64,357.13 L396.14,353.14 L397.64,349.54 L399.14,346.30 L400.63,343.39 L402.13,340.76 L403.63,338.40 L405.13,336.27 L406.63,334.35 L408.13,332.63 L409.63,331.08 L411.13,329.68 L412.63,328.42 L414.13,327.29 L415.63,326.27 L417.13,325.35 L418.63,324.52 L420.12,323.77 L421.62,323.10 L423.12,322.50 L424.62,321.96 L426.12,321.47 L427.62,321.03 L429.12,320.63 L430.62,320.27 L432.12,319.95 L433.62,319.66 L435.12,319.40 L436.62,319.17 L438.12,318.96 L439.61,318.77 L441.11,318.59 L442.61,318.44 L444.11,318.30 L445.61,318.18 L447.11,318.06 L448.61,317.96 L450.11,317.87 L451.61,317.79 L453.11,317.71 L454.61,317.65 L456.11,317.59 L457.61,317.53 L459.10,317.49 L460.60,317.44 L462.10,317.40 L463.60,317.37 L465.10,317.33 L466.60,317.31 L468.10,317.28 L469.60,317.26 L471.10,317.24 L472.60,317.22 L474.10,317.20 L475.60,317.18" fill="none" stroke="#2e4a82" stroke-width="1.3" />
<line x1="481.60" y1="317.05" x2="499.50" y2="317.05" stroke="#2e4a82" stroke-width="1.3" />
<path d="M386.39,392.30 L387.87,384.81 L389.36,378.07 L390.85,372.00 L392.34,366.55 L393.82,361.65 L395.31,357.23 L396.80,353.26 L398.28,349.69 L399.77,346.48 L401.26,343.59 L402.74,341.00 L404.23,338.66 L405.72,336.56 L407.20,334.66 L408.69,332.96 L410.18,331.43 L411.66,330.06 L413.15,328.82 L414.64,327.71 L416.12,326.70 L417.61,325.80 L419.10,324.99 L420.58,324.26 L422.07,323.61 L423.56,323.02 L425.04,322.49 L426.53,322.01 L428.02,321.58 L429.51,321.19 L430.99,320.85 L432.48,320.53 L433.97,320.25 L435.45,320.00 L436.94,319.77 L438.43,319.57 L439.91,319.38 L441.40,319.22 L442.89,319.07 L444.37,318.94 L445.86,318.82 L447.35,318.71 L448.83,318.61 L450.32,318.52 L451.81,318.44 L453.29,318.37 L454.78,318.31 L456.27,318.25 L457.75,318.20 L459.24,318.15 L460.73,318.11 L462.21,318.07 L463.70,318.04 L465.19,318.01 L466.68,317.98 L468.16,317.96 L469.65,317.93 L471.14,317.91 L472.62,317.90 L474.11,317.88 L475.60,317.87" fill="none" stroke="#9a1c44" stroke-width="1.3" />
<line x1="481.60" y1="317.74" x2="499.50" y2="317.74" stroke="#9a1c44" stroke-width="1.3" />
<line x1="401.05" y1="335.34" x2="401.05" y2="345.70" stroke="#111" stroke-width="1.0" />
<line x1="399.55" y1="335.34" x2="402.55" y2="335.34" stroke="#111" stroke-width="1.0" />
<line x1="399.55" y1="345.70" x2="402.55" y2="345.70" stroke="#111" stroke-width="1.0" />
<path d="M399.24899999999997,348.28700000000003 L401.049,346.487 L402.849,348.28700000000003 L401.049,350.08700000000005 Z" fill="#3b5f93" stroke="none" stroke-width="1" />
<rect x="399.75" y="342.67" width="2.60" height="2.60" fill="#b5174a" />
<path d="M399.24899999999997,338.508 L402.849,338.508 L401.049,335.268 Z" fill="#3a3a3a" stroke="none" stroke-width="1" />
<path d="M424.09799999999996,321.0162 L425.89799999999997,319.2162 L427.698,321.0162 L425.89799999999997,322.81620000000004 Z" fill="#3b5f93" stroke="none" stroke-width="1" />
<rect x="424.60" y="324.55" width="2.60" height="2.60" fill="#b5174a" />
<path d="M424.09799999999996,323.837 L427.698,323.837 L425.89799999999997,320.597 Z" fill="#8fb35e" stroke="none" stroke-width="1" />
<line x1="450.75" y1="316.36" x2="450.75" y2="320.67" stroke="#111" stroke-width="1.0" />
<line x1="449.25" y1="316.36" x2="452.25" y2="316.36" stroke="#111" stroke-width="1.0" />
<line x1="449.25" y1="320.67" x2="452.25" y2="320.67" stroke="#111" stroke-width="1.0" />
<path d="M448.94699999999995,318.082 L450.74699999999996,316.282 L452.54699999999997,318.082 L450.74699999999996,319.882 Z" fill="#3b5f93" stroke="none" stroke-width="1" />
<rect x="449.45" y="318.51" width="2.60" height="2.60" fill="#b5174a" />
<line x1="475.60" y1="312.90" x2="475.60" y2="319.81" stroke="#111" stroke-width="1.0" />
<line x1="474.10" y1="312.90" x2="477.10" y2="312.90" stroke="#111" stroke-width="1.0" />
<line x1="474.10" y1="319.81" x2="477.10" y2="319.81" stroke="#111" stroke-width="1.0" />
<path d="M473.796,317.219 L475.596,315.419 L477.396,317.219 L475.596,319.019 Z" fill="#3b5f93" stroke="none" stroke-width="1" />
<rect x="474.30" y="316.78" width="2.60" height="2.60" fill="#7a2a55" />
<line x1="498.80" y1="313.25" x2="498.80" y2="318.94" stroke="#111" stroke-width="1.0" />
<line x1="497.30" y1="313.25" x2="500.30" y2="313.25" stroke="#111" stroke-width="1.0" />
<line x1="497.30" y1="318.94" x2="500.30" y2="318.94" stroke="#111" stroke-width="1.0" />
<rect x="497.50" y="313.68" width="2.60" height="2.60" fill="#3a2a5a" />
<rect x="497.50" y="315.75" width="2.60" height="2.60" fill="#6a4a7a" />
<line x1="504.60" y1="316.30" x2="504.60" y2="321.50" stroke="#111" stroke-width="1.0" />
<line x1="502.60" y1="316.30" x2="506.60" y2="316.30" stroke="#111" stroke-width="1.0" />
<line x1="502.60" y1="321.50" x2="506.60" y2="321.50" stroke="#111" stroke-width="1.0" />
<text x="511.00" y="320.66" font-size="4.6" text-anchor="middle" fill="#222" stroke="#222" stroke-width="0.2" >ns</text>
<line x1="423.40" y1="352.80" x2="432.00" y2="352.80" stroke="#2e4a82" stroke-width="1.1" />
<path d="M425.9,352.8 L427.7,351.0 L429.5,352.8 L427.7,354.6 Z" fill="#2e4a82" stroke="none" stroke-width="1" />
<text x="435.00" y="354.89" font-size="5.8" fill="#444" stroke="#444" stroke-width="0.1" textLength="44.4" lengthAdjust="spacingAndGlyphs">Banded (r<tspan dy="-2.0" font-size="3.77">2</tspan><tspan dy="2.0"> = 0.98)</tspan></text>
<line x1="423.40" y1="364.90" x2="432.00" y2="364.90" stroke="#9a1c44" stroke-width="1.1" />
<rect x="426.40" y="363.60" width="2.60" height="2.60" fill="#9a1c44" />
<text x="435.00" y="366.99" font-size="5.8" fill="#444" stroke="#444" stroke-width="0.1" textLength="41.8" lengthAdjust="spacingAndGlyphs">Mature (r<tspan dy="-2.0" font-size="3.77">2</tspan><tspan dy="2.0"> = 0.98)</tspan></text>
<line x1="423.40" y1="377.20" x2="432.00" y2="377.20" stroke="#8fb35e" stroke-width="1.1" />
<path d="M425.9,378.64 L429.5,378.64 L427.7,375.4 Z" fill="#8fb35e" stroke="none" stroke-width="1" />
<text x="435.00" y="379.29" font-size="5.8" fill="#444" stroke="#444" stroke-width="0.1" textLength="66" lengthAdjust="spacingAndGlyphs">Hypersegmented (r<tspan dy="-2.0" font-size="3.77">2</tspan><tspan dy="2.0"> = 0.99)</tspan></text>
<line x1="40.00" y1="465.00" x2="40.00" y2="543.00" stroke="#111" stroke-width="1.3" />
<line x1="37.00" y1="543.00" x2="40.00" y2="543.00" stroke="#111" stroke-width="1.1" />
<text x="34.80" y="545.34" font-size="6.5" text-anchor="end" fill="#222" stroke="#222" stroke-width="0.2" >0</text>
<line x1="37.00" y1="533.37" x2="40.00" y2="533.37" stroke="#111" stroke-width="1.1" />
<text x="34.80" y="535.71" font-size="6.5" text-anchor="end" fill="#222" stroke="#222" stroke-width="0.2" >5</text>
<line x1="37.00" y1="523.73" x2="40.00" y2="523.73" stroke="#111" stroke-width="1.1" />
<text x="34.80" y="526.07" font-size="6.5" text-anchor="end" fill="#222" stroke="#222" stroke-width="0.2" >10</text>
<line x1="37.00" y1="514.10" x2="40.00" y2="514.10" stroke="#111" stroke-width="1.1" />
<text x="34.80" y="516.44" font-size="6.5" text-anchor="end" fill="#222" stroke="#222" stroke-width="0.2" >15</text>
<line x1="37.00" y1="504.46" x2="40.00" y2="504.46" stroke="#111" stroke-width="1.1" />
<text x="34.80" y="506.80" font-size="6.5" text-anchor="end" fill="#222" stroke="#222" stroke-width="0.2" >20</text>
<line x1="37.00" y1="494.82" x2="40.00" y2="494.82" stroke="#111" stroke-width="1.1" />
<text x="34.80" y="497.16" font-size="6.5" text-anchor="end" fill="#222" stroke="#222" stroke-width="0.2" >25</text>
<line x1="37.00" y1="485.19" x2="40.00" y2="485.19" stroke="#111" stroke-width="1.1" />
<text x="34.80" y="487.53" font-size="6.5" text-anchor="end" fill="#222" stroke="#222" stroke-width="0.2" >30</text>
<line x1="37.00" y1="475.56" x2="40.00" y2="475.56" stroke="#111" stroke-width="1.1" />
<text x="34.80" y="477.89" font-size="6.5" text-anchor="end" fill="#222" stroke="#222" stroke-width="0.2" >35</text>
<line x1="37.00" y1="465.92" x2="40.00" y2="465.92" stroke="#111" stroke-width="1.1" />
<text x="34.80" y="468.26" font-size="6.5" text-anchor="end" fill="#222" stroke="#222" stroke-width="0.2" >40</text>
<line x1="40.00" y1="543.00" x2="156.50" y2="543.00" stroke="#111" stroke-width="1.3" />
<text x="10.10" y="503.80" font-size="8.2" text-anchor="middle" fill="#222" font-weight="bold" dominant-baseline="central" stroke="#222" stroke-width="0.25" textLength="40" lengthAdjust="spacingAndGlyphs" transform="rotate(-90 10.10 503.80)">SA / neutrophil</text>
<rect x="42.90" y="500.61" width="11.30" height="42.39" fill="#2c4d84" />
<line x1="48.55" y1="500.61" x2="48.55" y2="491.74" stroke="#111" stroke-width="1.1" />
<line x1="45.30" y1="491.74" x2="51.80" y2="491.74" stroke="#111" stroke-width="1.1" />
<rect x="59.00" y="495.79" width="11.40" height="47.21" fill="#b0103a" />
<line x1="64.70" y1="495.79" x2="64.70" y2="486.15" stroke="#111" stroke-width="1.1" />
<line x1="61.45" y1="486.15" x2="67.95" y2="486.15" stroke="#111" stroke-width="1.1" />
<rect x="75.80" y="502.53" width="11.20" height="40.47" fill="#74b043" />
<line x1="81.40" y1="502.53" x2="81.40" y2="495.21" stroke="#111" stroke-width="1.1" />
<line x1="78.15" y1="495.21" x2="84.65" y2="495.21" stroke="#111" stroke-width="1.1" />
<rect x="108.60" y="489.04" width="11.60" height="53.96" fill="#2c4d84" />
<line x1="114.40" y1="489.04" x2="114.40" y2="477.48" stroke="#111" stroke-width="1.1" />
<line x1="111.15" y1="477.48" x2="117.65" y2="477.48" stroke="#111" stroke-width="1.1" />
<rect x="125.60" y="496.75" width="10.80" height="46.25" fill="#b0103a" />
<line x1="131.00" y1="496.75" x2="131.00" y2="488.66" stroke="#111" stroke-width="1.1" />
<line x1="127.75" y1="488.66" x2="134.25" y2="488.66" stroke="#111" stroke-width="1.1" />
<rect x="141.70" y="493.48" width="11.60" height="49.52" fill="#74b043" />
<line x1="147.50" y1="493.48" x2="147.50" y2="482.68" stroke="#111" stroke-width="1.1" />
<line x1="144.25" y1="482.68" x2="150.75" y2="482.68" stroke="#111" stroke-width="1.1" />
<line x1="48.80" y1="471.30" x2="82.50" y2="471.30" stroke="#111" stroke-width="1.2" />
<line x1="48.80" y1="468.50" x2="48.80" y2="474.10" stroke="#111" stroke-width="1.2" />
<line x1="82.50" y1="468.50" x2="82.50" y2="474.10" stroke="#111" stroke-width="1.2" />
<text x="65.65" y="469.62" font-size="6.0" text-anchor="middle" fill="#222" stroke="#222" stroke-width="0.25">ns</text>
<line x1="114.80" y1="471.30" x2="148.50" y2="471.30" stroke="#111" stroke-width="1.2" />
<line x1="114.80" y1="468.50" x2="114.80" y2="474.10" stroke="#111" stroke-width="1.2" />
<line x1="148.50" y1="468.50" x2="148.50" y2="474.10" stroke="#111" stroke-width="1.2" />
<text x="131.65" y="469.62" font-size="6.0" text-anchor="middle" fill="#222" stroke="#222" stroke-width="0.25">ns</text>
<text x="65.00" y="552.35" font-size="6.8" text-anchor="middle" fill="#222" stroke="#222" stroke-width="0.2" >45 minutes</text>
<text x="131.00" y="552.35" font-size="6.8" text-anchor="middle" fill="#222" stroke="#222" stroke-width="0.2" >90 minutes</text>
<rect x="40.40" y="438.90" width="7.30" height="3.40" fill="#2c4d84" />
<text x="50.40" y="442.62" font-size="5.6" text-anchor="start" fill="#333" stroke="#333" stroke-width="0.2" textLength="18.4" lengthAdjust="spacingAndGlyphs" >Banded</text>
<rect x="40.40" y="446.60" width="7.30" height="3.40" fill="#b0103a" />
<text x="50.40" y="450.32" font-size="5.6" text-anchor="start" fill="#333" stroke="#333" stroke-width="0.2" textLength="27.5" lengthAdjust="spacingAndGlyphs" >Segmented</text>
<rect x="40.40" y="453.90" width="7.30" height="3.40" fill="#74b043" />
<text x="50.40" y="457.62" font-size="5.6" text-anchor="start" fill="#333" stroke="#333" stroke-width="0.2" textLength="40" lengthAdjust="spacingAndGlyphs" >Hypersegmented</text>
<line x1="198.50" y1="453.50" x2="198.50" y2="543.00" stroke="#111" stroke-width="1.3" />
<line x1="195.50" y1="543.00" x2="198.50" y2="543.00" stroke="#111" stroke-width="1.1" />
<text x="193.30" y="545.34" font-size="6.5" text-anchor="end" fill="#222" stroke="#222" stroke-width="0.2" >0</text>
<line x1="195.50" y1="525.38" x2="198.50" y2="525.38" stroke="#111" stroke-width="1.1" />
<text x="193.30" y="527.72" font-size="6.5" text-anchor="end" fill="#222" stroke="#222" stroke-width="0.2" >500</text>
<line x1="195.50" y1="507.75" x2="198.50" y2="507.75" stroke="#111" stroke-width="1.1" />
<text x="193.30" y="510.09" font-size="6.5" text-anchor="end" fill="#222" stroke="#222" stroke-width="0.2" >1000</text>
<line x1="195.50" y1="490.12" x2="198.50" y2="490.12" stroke="#111" stroke-width="1.1" />
<text x="193.30" y="492.46" font-size="6.5" text-anchor="end" fill="#222" stroke="#222" stroke-width="0.2" >1500</text>
<line x1="195.50" y1="472.50" x2="198.50" y2="472.50" stroke="#111" stroke-width="1.1" />
<text x="193.30" y="474.84" font-size="6.5" text-anchor="end" fill="#222" stroke="#222" stroke-width="0.2" >2000</text>
<line x1="195.50" y1="454.88" x2="198.50" y2="454.88" stroke="#111" stroke-width="1.1" />
<text x="193.30" y="457.21" font-size="6.5" text-anchor="end" fill="#222" stroke="#222" stroke-width="0.2" >2500</text>
<line x1="198.50" y1="543.00" x2="266.60" y2="543.00" stroke="#111" stroke-width="1.3" />
<line x1="269.20" y1="543.00" x2="322.70" y2="543.00" stroke="#111" stroke-width="1.3" />
<line x1="266.20" y1="541.20" x2="266.20" y2="546.00" stroke="#111" stroke-width="1.1" />
<line x1="269.60" y1="541.60" x2="269.60" y2="544.80" stroke="#111" stroke-width="1.0" />
<line x1="199.20" y1="543.00" x2="199.20" y2="546.00" stroke="#111" stroke-width="1.1" />
<text x="200.80" y="548.20" font-size="6.5" text-anchor="end" fill="#222" dominant-baseline="hanging" transform="rotate(-45 200.80 548.2)">0</text>
<line x1="215.80" y1="543.00" x2="215.80" y2="546.00" stroke="#111" stroke-width="1.1" />
<text x="217.40" y="548.20" font-size="6.5" text-anchor="end" fill="#222" dominant-baseline="hanging" transform="rotate(-45 217.40 548.2)">30</text>
<line x1="232.40" y1="543.00" x2="232.40" y2="546.00" stroke="#111" stroke-width="1.1" />
<text x="234.00" y="548.20" font-size="6.5" text-anchor="end" fill="#222" dominant-baseline="hanging" transform="rotate(-45 234.00 548.2)">60</text>
<line x1="249.00" y1="543.00" x2="249.00" y2="546.00" stroke="#111" stroke-width="1.1" />
<text x="250.60" y="548.20" font-size="6.5" text-anchor="end" fill="#222" dominant-baseline="hanging" transform="rotate(-45 250.60 548.2)">90</text>
<line x1="265.60" y1="543.00" x2="265.60" y2="546.00" stroke="#111" stroke-width="1.1" />
<text x="267.20" y="548.20" font-size="6.5" text-anchor="end" fill="#222" dominant-baseline="hanging" transform="rotate(-45 267.20 548.2)">120</text>
<line x1="274.20" y1="543.00" x2="274.20" y2="546.00" stroke="#111" stroke-width="1.1" />
<text x="275.80" y="548.20" font-size="6.5" text-anchor="end" fill="#222" dominant-baseline="hanging" transform="rotate(-45 275.80 548.2)">200</text>
<line x1="285.50" y1="543.00" x2="285.50" y2="546.00" stroke="#111" stroke-width="1.1" />
<text x="287.10" y="548.20" font-size="6.5" text-anchor="end" fill="#222" dominant-baseline="hanging" transform="rotate(-45 287.10 548.2)">400</text>
<line x1="296.80" y1="543.00" x2="296.80" y2="546.00" stroke="#111" stroke-width="1.1" />
<text x="298.40" y="548.20" font-size="6.5" text-anchor="end" fill="#222" dominant-baseline="hanging" transform="rotate(-45 298.40 548.2)">600</text>
<line x1="308.10" y1="543.00" x2="308.10" y2="546.00" stroke="#111" stroke-width="1.1" />
<text x="309.70" y="548.20" font-size="6.5" text-anchor="end" fill="#222" dominant-baseline="hanging" transform="rotate(-45 309.70 548.2)">800</text>
<line x1="319.40" y1="543.00" x2="319.40" y2="546.00" stroke="#111" stroke-width="1.1" />
<text x="321.00" y="548.20" font-size="6.5" text-anchor="end" fill="#222" dominant-baseline="hanging" transform="rotate(-45 321.00 548.2)">1000</text>
<text x="170.00" y="497.00" font-size="8.0" text-anchor="middle" fill="#222" font-weight="bold" dominant-baseline="central" stroke="#222" stroke-width="0.25" textLength="100.6" lengthAdjust="spacingAndGlyphs" transform="rotate(-90 170.00 497.00)">pH rodo median fluorescence intensity</text>
<text x="261.50" y="575.57" font-size="8.8" text-anchor="middle" fill="#222" font-weight="bold" stroke="#222" stroke-width="0.25" textLength="39.7" lengthAdjust="spacingAndGlyphs" >Time (minutes)</text>
<path d="M199.20,543.00 L200.86,541.65 L202.52,540.32 L204.18,539.00 L205.84,537.70 L207.50,536.42 L209.16,535.16 L210.82,533.92 L212.48,532.69 L214.14,531.48 L215.80,530.28 L217.46,529.10 L219.12,527.94 L220.78,526.79 L222.44,525.66 L224.10,524.54 L225.76,523.44 L227.42,522.36 L229.08,521.28 L230.74,520.23 L232.40,519.18 L234.06,518.16 L235.72,517.14 L237.38,516.14 L239.04,515.15 L240.70,514.18 L242.36,513.22 L244.02,512.27 L245.68,511.33 L247.34,510.41 L249.00,509.50 L250.66,508.60 L252.32,507.72 L253.98,506.84 L255.64,505.98 L257.30,505.13 L258.96,504.29 L260.62,503.47 L262.28,502.65 L263.94,501.85 L265.60,501.05" fill="none" stroke="#2e4a7a" stroke-width="1.2" />
<path d="M269.60,500.70 L270.43,496.85 L271.27,493.36 L272.10,490.19 L272.93,487.32 L273.77,484.72 L274.60,482.36 L275.43,480.22 L276.27,478.28 L277.10,476.52 L277.93,474.93 L278.77,473.49 L279.60,472.18 L280.43,470.99 L281.27,469.91 L282.10,468.93 L282.93,468.05 L283.77,467.25 L284.60,466.52 L285.43,465.86 L286.27,465.26 L287.10,464.72 L287.93,464.23 L288.77,463.78 L289.60,463.38 L290.43,463.01 L291.27,462.68 L292.10,462.38 L292.93,462.11 L293.77,461.86 L294.60,461.64 L295.43,461.43 L296.27,461.25 L297.10,461.08 L297.93,460.93 L298.77,460.79 L299.60,460.67 L300.43,460.55 L301.27,460.45 L302.10,460.36 L302.93,460.27 L303.77,460.20 L304.60,460.13 L305.43,460.07 L306.27,460.01 L307.10,459.96 L307.93,459.91 L308.77,459.87 L309.60,459.83 L310.43,459.80 L311.27,459.76 L312.10,459.74 L312.93,459.71 L313.77,459.69 L314.60,459.66 L315.43,459.65 L316.27,459.63 L317.10,459.61 L317.93,459.60 L318.77,459.58 L319.60,459.57" fill="none" stroke="#2e4a7a" stroke-width="1.2" />
<path d="M199.20,543.00 L200.86,541.77 L202.52,540.56 L204.18,539.37 L205.84,538.19 L207.50,537.03 L209.16,535.89 L210.82,534.76 L212.48,533.64 L214.14,532.54 L215.80,531.46 L217.46,530.39 L219.12,529.33 L220.78,528.29 L222.44,527.26 L224.10,526.25 L225.76,525.25 L227.42,524.26 L229.08,523.29 L230.74,522.33 L232.40,521.39 L234.06,520.45 L235.72,519.53 L237.38,518.62 L239.04,517.73 L240.70,516.84 L242.36,515.97 L244.02,515.11 L245.68,514.26 L247.34,513.42 L249.00,512.60 L250.66,511.78 L252.32,510.98 L253.98,510.19 L255.64,509.40 L257.30,508.63 L258.96,507.87 L260.62,507.12 L262.28,506.38 L263.94,505.65 L265.60,504.93" fill="none" stroke="#a01a44" stroke-width="1.2" />
<path d="M269.60,503.87 L270.43,501.30 L271.27,498.98 L272.10,496.87 L272.93,494.95 L273.77,493.22 L274.60,491.65 L275.43,490.22 L276.27,488.93 L277.10,487.76 L277.93,486.69 L278.77,485.73 L279.60,484.86 L280.43,484.06 L281.27,483.35 L282.10,482.70 L282.93,482.11 L283.77,481.57 L284.60,481.09 L285.43,480.65 L286.27,480.25 L287.10,479.89 L287.93,479.56 L288.77,479.26 L289.60,478.99 L290.43,478.75 L291.27,478.53 L292.10,478.33 L292.93,478.14 L293.77,477.98 L294.60,477.83 L295.43,477.69 L296.27,477.57 L297.10,477.46 L297.93,477.36 L298.77,477.27 L299.60,477.18 L300.43,477.11 L301.27,477.04 L302.10,476.98 L302.93,476.92 L303.77,476.87 L304.60,476.83 L305.43,476.78 L306.27,476.75 L307.10,476.71 L307.93,476.68 L308.77,476.65 L309.60,476.63 L310.43,476.60 L311.27,476.58 L312.10,476.56 L312.93,476.55 L313.77,476.53 L314.60,476.52 L315.43,476.50 L316.27,476.49 L317.10,476.48 L317.93,476.47 L318.77,476.46 L319.60,476.45" fill="none" stroke="#a01a44" stroke-width="1.2" />
<path d="M199.20,543.00 L200.86,541.92 L202.52,540.86 L204.18,539.81 L205.84,538.77 L207.50,537.75 L209.16,536.74 L210.82,535.75 L212.48,534.77 L214.14,533.80 L215.80,532.85 L217.46,531.91 L219.12,530.98 L220.78,530.06 L222.44,529.16 L224.10,528.27 L225.76,527.39 L227.42,526.52 L229.08,525.66 L230.74,524.82 L232.40,523.99 L234.06,523.17 L235.72,522.36 L237.38,521.56 L239.04,520.77 L240.70,519.99 L242.36,519.22 L244.02,518.47 L245.68,517.72 L247.34,516.98 L249.00,516.26 L250.66,515.54 L252.32,514.83 L253.98,514.14 L255.64,513.45 L257.30,512.77 L258.96,512.10 L260.62,511.44 L262.28,510.79 L263.94,510.15 L265.60,509.51" fill="none" stroke="#8fb35e" stroke-width="1.2" />
<path d="M269.60,511.27 L270.43,508.58 L271.27,506.13 L272.10,503.91 L272.93,501.90 L273.77,500.07 L274.60,498.42 L275.43,496.92 L276.27,495.56 L277.10,494.33 L277.93,493.21 L278.77,492.20 L279.60,491.28 L280.43,490.45 L281.27,489.70 L282.10,489.01 L282.93,488.39 L283.77,487.83 L284.60,487.32 L285.43,486.86 L286.27,486.44 L287.10,486.06 L287.93,485.71 L288.77,485.40 L289.60,485.12 L290.43,484.86 L291.27,484.63 L292.10,484.42 L292.93,484.23 L293.77,484.05 L294.60,483.90 L295.43,483.75 L296.27,483.62 L297.10,483.51 L297.93,483.40 L298.77,483.30 L299.60,483.22 L300.43,483.14 L301.27,483.07 L302.10,483.00 L302.93,482.94 L303.77,482.89 L304.60,482.84 L305.43,482.80 L306.27,482.76 L307.10,482.72 L307.93,482.69 L308.77,482.66 L309.60,482.63 L310.43,482.61 L311.27,482.58 L312.10,482.56 L312.93,482.55 L313.77,482.53 L314.60,482.52 L315.43,482.50 L316.27,482.49 L317.10,482.48 L317.93,482.47 L318.77,482.46 L319.60,482.45" fill="none" stroke="#8fb35e" stroke-width="1.2" />
<line x1="215.80" y1="529.96" x2="215.80" y2="532.78" stroke="#111" stroke-width="0.9" />
<line x1="214.60" y1="529.96" x2="217.00" y2="529.96" stroke="#111" stroke-width="0.9" />
<line x1="214.60" y1="532.78" x2="217.00" y2="532.78" stroke="#111" stroke-width="0.9" />
<rect x="214.60" y="530.17" width="2.40" height="2.40" fill="#3b5f93" />
<line x1="215.80" y1="531.01" x2="215.80" y2="533.84" stroke="#111" stroke-width="0.9" />
<line x1="214.60" y1="531.01" x2="217.00" y2="531.01" stroke="#111" stroke-width="0.9" />
<line x1="214.60" y1="533.84" x2="217.00" y2="533.84" stroke="#111" stroke-width="0.9" />
<rect x="214.60" y="531.22" width="2.40" height="2.40" fill="#b5174a" />
<line x1="215.80" y1="532.42" x2="215.80" y2="535.25" stroke="#111" stroke-width="0.9" />
<line x1="214.60" y1="532.42" x2="217.00" y2="532.42" stroke="#111" stroke-width="0.9" />
<line x1="214.60" y1="535.25" x2="217.00" y2="535.25" stroke="#111" stroke-width="0.9" />
<rect x="214.60" y="532.63" width="2.40" height="2.40" fill="#8fb35e" />
<line x1="232.40" y1="515.86" x2="232.40" y2="519.38" stroke="#111" stroke-width="0.9" />
<line x1="231.20" y1="515.86" x2="233.60" y2="515.86" stroke="#111" stroke-width="0.9" />
<line x1="231.20" y1="519.38" x2="233.60" y2="519.38" stroke="#111" stroke-width="0.9" />
<rect x="231.20" y="516.42" width="2.40" height="2.40" fill="#3b5f93" />
<line x1="232.40" y1="517.27" x2="232.40" y2="520.79" stroke="#111" stroke-width="0.9" />
<line x1="231.20" y1="517.27" x2="233.60" y2="517.27" stroke="#111" stroke-width="0.9" />
<line x1="231.20" y1="520.79" x2="233.60" y2="520.79" stroke="#111" stroke-width="0.9" />
<rect x="231.20" y="517.83" width="2.40" height="2.40" fill="#b5174a" />
<line x1="232.40" y1="519.74" x2="232.40" y2="522.55" stroke="#111" stroke-width="0.9" />
<line x1="231.20" y1="519.74" x2="233.60" y2="519.74" stroke="#111" stroke-width="0.9" />
<line x1="231.20" y1="522.55" x2="233.60" y2="522.55" stroke="#111" stroke-width="0.9" />
<rect x="231.20" y="519.94" width="2.40" height="2.40" fill="#8fb35e" />
<line x1="249.00" y1="505.99" x2="249.00" y2="510.22" stroke="#111" stroke-width="0.9" />
<line x1="247.80" y1="505.99" x2="250.20" y2="505.99" stroke="#111" stroke-width="0.9" />
<line x1="247.80" y1="510.22" x2="250.20" y2="510.22" stroke="#111" stroke-width="0.9" />
<rect x="247.80" y="506.90" width="2.40" height="2.40" fill="#3b5f93" />
<line x1="249.00" y1="508.81" x2="249.00" y2="513.04" stroke="#111" stroke-width="0.9" />
<line x1="247.80" y1="508.81" x2="250.20" y2="508.81" stroke="#111" stroke-width="0.9" />
<line x1="247.80" y1="513.04" x2="250.20" y2="513.04" stroke="#111" stroke-width="0.9" />
<rect x="247.80" y="509.72" width="2.40" height="2.40" fill="#b5174a" />
<line x1="249.00" y1="513.74" x2="249.00" y2="517.27" stroke="#111" stroke-width="0.9" />
<line x1="247.80" y1="513.74" x2="250.20" y2="513.74" stroke="#111" stroke-width="0.9" />
<line x1="247.80" y1="517.27" x2="250.20" y2="517.27" stroke="#111" stroke-width="0.9" />
<rect x="247.80" y="514.30" width="2.40" height="2.40" fill="#8fb35e" />
<line x1="265.60" y1="496.47" x2="265.60" y2="504.93" stroke="#111" stroke-width="0.9" />
<line x1="264.40" y1="496.47" x2="266.80" y2="496.47" stroke="#111" stroke-width="0.9" />
<line x1="264.40" y1="504.93" x2="266.80" y2="504.93" stroke="#111" stroke-width="0.9" />
<rect x="264.40" y="499.50" width="2.40" height="2.40" fill="#3b5f93" />
<line x1="265.60" y1="502.11" x2="265.60" y2="507.75" stroke="#111" stroke-width="0.9" />
<line x1="264.40" y1="502.11" x2="266.80" y2="502.11" stroke="#111" stroke-width="0.9" />
<line x1="264.40" y1="507.75" x2="266.80" y2="507.75" stroke="#111" stroke-width="0.9" />
<rect x="264.40" y="503.73" width="2.40" height="2.40" fill="#b5174a" />
<line x1="265.60" y1="507.05" x2="265.60" y2="511.27" stroke="#111" stroke-width="0.9" />
<line x1="264.40" y1="507.05" x2="266.80" y2="507.05" stroke="#111" stroke-width="0.9" />
<line x1="264.40" y1="511.27" x2="266.80" y2="511.27" stroke="#111" stroke-width="0.9" />
<rect x="264.40" y="507.96" width="2.40" height="2.40" fill="#8fb35e" />
<line x1="319.40" y1="455.58" x2="319.40" y2="461.93" stroke="#111" stroke-width="0.9" />
<line x1="318.20" y1="455.58" x2="320.60" y2="455.58" stroke="#111" stroke-width="0.9" />
<line x1="318.20" y1="461.93" x2="320.60" y2="461.93" stroke="#111" stroke-width="0.9" />
<rect x="318.20" y="458.26" width="2.40" height="2.40" fill="#3b5f93" />
<line x1="319.40" y1="473.91" x2="319.40" y2="480.25" stroke="#111" stroke-width="0.9" />
<line x1="318.20" y1="473.91" x2="320.60" y2="473.91" stroke="#111" stroke-width="0.9" />
<line x1="318.20" y1="480.25" x2="320.60" y2="480.25" stroke="#111" stroke-width="0.9" />
<rect x="318.20" y="475.53" width="2.40" height="2.40" fill="#b5174a" />
<line x1="327.20" y1="458.20" x2="327.20" y2="483.20" stroke="#111" stroke-width="1.0" />
<line x1="324.50" y1="458.20" x2="329.80" y2="458.20" stroke="#111" stroke-width="1.0" />
<line x1="324.50" y1="483.20" x2="329.80" y2="483.20" stroke="#111" stroke-width="1.0" />
<text x="331" y="470.7" font-size="4.8" text-anchor="middle" fill="#222" dominant-baseline="central" transform="rotate(90 331 470.7)">****</text>
<line x1="202.70" y1="448.30" x2="207.70" y2="448.30" stroke="#2e4a82" stroke-width="1.1" />
<rect x="204.20" y="447.20" width="2.20" height="2.20" fill="#2e4a82" />
<text x="211.00" y="450.39" font-size="5.8" fill="#444" stroke="#444" stroke-width="0.1" textLength="41.5" lengthAdjust="spacingAndGlyphs">Banded (r<tspan dy="-2.0" font-size="3.77">2</tspan><tspan dy="2.0">=0.95)</tspan></text>
<line x1="202.70" y1="460.20" x2="207.70" y2="460.20" stroke="#9a1c44" stroke-width="1.1" />
<rect x="204.20" y="459.10" width="2.20" height="2.20" fill="#9a1c44" />
<text x="211.00" y="462.29" font-size="5.8" fill="#444" stroke="#444" stroke-width="0.1" textLength="49.2" lengthAdjust="spacingAndGlyphs">Segmented (r<tspan dy="-2.0" font-size="3.77">2</tspan><tspan dy="2.0">=0.96)</tspan></text>
<line x1="202.70" y1="473.00" x2="207.70" y2="473.00" stroke="#8fb35e" stroke-width="1.1" />
<rect x="204.20" y="471.90" width="2.20" height="2.20" fill="#8fb35e" />
<text x="211.00" y="475.09" font-size="5.8" fill="#444" stroke="#444" stroke-width="0.1" textLength="62.7" lengthAdjust="spacingAndGlyphs">Hypersegmented (r<tspan dy="-2.0" font-size="3.77">2</tspan><tspan dy="2.0">=0.94)</tspan></text>
<line x1="375.80" y1="449.50" x2="375.80" y2="543.00" stroke="#111" stroke-width="1.3" />
<line x1="372.80" y1="543.00" x2="375.80" y2="543.00" stroke="#111" stroke-width="1.1" />
<text x="370.60" y="545.34" font-size="6.5" text-anchor="end" fill="#222" stroke="#222" stroke-width="0.2" >0</text>
<line x1="372.80" y1="519.95" x2="375.80" y2="519.95" stroke="#111" stroke-width="1.1" />
<text x="370.60" y="522.29" font-size="6.5" text-anchor="end" fill="#222" stroke="#222" stroke-width="0.2" >500</text>
<line x1="372.80" y1="496.90" x2="375.80" y2="496.90" stroke="#111" stroke-width="1.1" />
<text x="370.60" y="499.24" font-size="6.5" text-anchor="end" fill="#222" stroke="#222" stroke-width="0.2" >1000</text>
<line x1="372.80" y1="473.85" x2="375.80" y2="473.85" stroke="#111" stroke-width="1.1" />
<text x="370.60" y="476.19" font-size="6.5" text-anchor="end" fill="#222" stroke="#222" stroke-width="0.2" >1500</text>
<line x1="372.80" y1="450.80" x2="375.80" y2="450.80" stroke="#111" stroke-width="1.1" />
<text x="370.60" y="453.14" font-size="6.5" text-anchor="end" fill="#222" stroke="#222" stroke-width="0.2" >2000</text>
<line x1="375.80" y1="543.00" x2="443.30" y2="543.00" stroke="#111" stroke-width="1.3" />
<line x1="446.20" y1="543.00" x2="499.80" y2="543.00" stroke="#111" stroke-width="1.3" />
<line x1="443.00" y1="541.20" x2="443.00" y2="546.00" stroke="#111" stroke-width="1.1" />
<line x1="446.60" y1="541.60" x2="446.60" y2="544.80" stroke="#111" stroke-width="1.0" />
<line x1="376.80" y1="543.00" x2="376.80" y2="546.00" stroke="#111" stroke-width="1.1" />
<text x="378.40" y="548.20" font-size="6.5" text-anchor="end" fill="#222" dominant-baseline="hanging" transform="rotate(-45 378.40 548.2)">0</text>
<line x1="393.23" y1="543.00" x2="393.23" y2="546.00" stroke="#111" stroke-width="1.1" />
<text x="394.83" y="548.20" font-size="6.5" text-anchor="end" fill="#222" dominant-baseline="hanging" transform="rotate(-45 394.83 548.2)">30</text>
<line x1="409.65" y1="543.00" x2="409.65" y2="546.00" stroke="#111" stroke-width="1.1" />
<text x="411.25" y="548.20" font-size="6.5" text-anchor="end" fill="#222" dominant-baseline="hanging" transform="rotate(-45 411.25 548.2)">60</text>
<line x1="426.07" y1="543.00" x2="426.07" y2="546.00" stroke="#111" stroke-width="1.1" />
<text x="427.68" y="548.20" font-size="6.5" text-anchor="end" fill="#222" dominant-baseline="hanging" transform="rotate(-45 427.68 548.2)">90</text>
<line x1="442.50" y1="543.00" x2="442.50" y2="546.00" stroke="#111" stroke-width="1.1" />
<text x="444.10" y="548.20" font-size="6.5" text-anchor="end" fill="#222" dominant-baseline="hanging" transform="rotate(-45 444.10 548.2)">120</text>
<line x1="451.30" y1="543.00" x2="451.30" y2="546.00" stroke="#111" stroke-width="1.1" />
<text x="452.90" y="548.20" font-size="6.5" text-anchor="end" fill="#222" dominant-baseline="hanging" transform="rotate(-45 452.90 548.2)">200</text>
<line x1="462.70" y1="543.00" x2="462.70" y2="546.00" stroke="#111" stroke-width="1.1" />
<text x="464.30" y="548.20" font-size="6.5" text-anchor="end" fill="#222" dominant-baseline="hanging" transform="rotate(-45 464.30 548.2)">400</text>
<line x1="474.10" y1="543.00" x2="474.10" y2="546.00" stroke="#111" stroke-width="1.1" />
<text x="475.70" y="548.20" font-size="6.5" text-anchor="end" fill="#222" dominant-baseline="hanging" transform="rotate(-45 475.70 548.2)">600</text>
<line x1="485.50" y1="543.00" x2="485.50" y2="546.00" stroke="#111" stroke-width="1.1" />
<text x="487.10" y="548.20" font-size="6.5" text-anchor="end" fill="#222" dominant-baseline="hanging" transform="rotate(-45 487.10 548.2)">800</text>
<line x1="496.90" y1="543.00" x2="496.90" y2="546.00" stroke="#111" stroke-width="1.1" />
<text x="498.50" y="548.20" font-size="6.5" text-anchor="end" fill="#222" dominant-baseline="hanging" transform="rotate(-45 498.50 548.2)">1000</text>
<text x="345.00" y="495.00" font-size="8.0" text-anchor="middle" fill="#222" font-weight="bold" dominant-baseline="central" stroke="#222" stroke-width="0.25" textLength="94.4" lengthAdjust="spacingAndGlyphs" transform="rotate(-90 345.00 495.00)">AF647 median fluorescence intensity</text>
<text x="437.80" y="574.17" font-size="8.8" text-anchor="middle" fill="#222" font-weight="bold" stroke="#222" stroke-width="0.25" textLength="40.4" lengthAdjust="spacingAndGlyphs" >Time (minutes)</text>
<path d="M376.80,543.00 L377.90,539.35 L378.99,535.98 L380.09,532.87 L381.18,530.00 L382.28,527.35 L383.37,524.90 L384.47,522.64 L385.56,520.55 L386.66,518.63 L387.75,516.85 L388.85,515.21 L389.94,513.70 L391.04,512.30 L392.13,511.01 L393.23,509.82 L394.32,508.72 L395.42,507.70 L396.51,506.77 L397.61,505.90 L398.70,505.10 L399.80,504.37 L400.89,503.69 L401.99,503.06 L403.08,502.48 L404.18,501.94 L405.27,501.45 L406.37,500.99 L407.46,500.57 L408.56,500.18 L409.65,499.82 L410.75,499.49 L411.84,499.19 L412.94,498.91 L414.03,498.64 L415.12,498.40 L416.22,498.18 L417.31,497.98 L418.41,497.79 L419.50,497.61 L420.60,497.45 L421.69,497.30 L422.79,497.17 L423.88,497.04 L424.98,496.92 L426.07,496.81 L427.17,496.71 L428.26,496.62 L429.36,496.54 L430.46,496.46 L431.55,496.39 L432.64,496.32 L433.74,496.26 L434.84,496.20 L435.93,496.15 L437.03,496.10 L438.12,496.06 L439.22,496.01 L440.31,495.98 L441.41,495.94 L442.50,495.91" fill="none" stroke="#2e4a82" stroke-width="1.2" />
<line x1="446.60" y1="495.52" x2="497.00" y2="495.52" stroke="#2e4a82" stroke-width="1.2" />
<path d="M376.80,543.00 L377.90,535.89 L378.99,529.67 L380.09,524.23 L381.18,519.47 L382.28,515.30 L383.37,511.65 L384.47,508.46 L385.56,505.66 L386.66,503.21 L387.75,501.07 L388.85,499.20 L389.94,497.56 L391.04,496.13 L392.13,494.87 L393.23,493.77 L394.32,492.81 L395.42,491.97 L396.51,491.23 L397.61,490.59 L398.70,490.02 L399.80,489.53 L400.89,489.10 L401.99,488.72 L403.08,488.39 L404.18,488.10 L405.27,487.84 L406.37,487.62 L407.46,487.43 L408.56,487.26 L409.65,487.11 L410.75,486.98 L411.84,486.87 L412.94,486.77 L414.03,486.68 L415.12,486.60 L416.22,486.54 L417.31,486.48 L418.41,486.43 L419.50,486.38 L420.60,486.34 L421.69,486.31 L422.79,486.28 L423.88,486.25 L424.98,486.23 L426.07,486.21 L427.17,486.19 L428.26,486.17 L429.36,486.16 L430.46,486.15 L431.55,486.14 L432.64,486.13 L433.74,486.12 L434.84,486.12 L435.93,486.11 L437.03,486.10 L438.12,486.10 L439.22,486.09 L440.31,486.09 L441.41,486.09 L442.50,486.09" fill="none" stroke="#a01a44" stroke-width="1.2" />
<line x1="446.60" y1="486.07" x2="497.00" y2="486.07" stroke="#a01a44" stroke-width="1.2" />
<path d="M376.80,543.00 L377.90,533.46 L378.99,525.33 L380.09,518.40 L381.18,512.49 L382.28,507.46 L383.37,503.17 L384.47,499.52 L385.56,496.40 L386.66,493.75 L387.75,491.49 L388.85,489.56 L389.94,487.92 L391.04,486.52 L392.13,485.33 L393.23,484.31 L394.32,483.45 L395.42,482.71 L396.51,482.08 L397.61,481.55 L398.70,481.09 L399.80,480.70 L400.89,480.37 L401.99,480.09 L403.08,479.85 L404.18,479.64 L405.27,479.47 L406.37,479.32 L407.46,479.19 L408.56,479.08 L409.65,478.99 L410.75,478.91 L411.84,478.85 L412.94,478.79 L414.03,478.74 L415.12,478.70 L416.22,478.66 L417.31,478.63 L418.41,478.61 L419.50,478.59 L420.60,478.57 L421.69,478.55 L422.79,478.54 L423.88,478.53 L424.98,478.52 L426.07,478.51 L427.17,478.50 L428.26,478.49 L429.36,478.49 L430.46,478.49 L431.55,478.48 L432.64,478.48 L433.74,478.48 L434.84,478.47 L435.93,478.47 L437.03,478.47 L438.12,478.47 L439.22,478.47 L440.31,478.47 L441.41,478.47 L442.50,478.46" fill="none" stroke="#8fb35e" stroke-width="1.2" />
<line x1="446.60" y1="478.46" x2="497.00" y2="478.46" stroke="#8fb35e" stroke-width="1.2" />
<line x1="393.23" y1="474.77" x2="393.23" y2="502.66" stroke="#111" stroke-width="0.9" />
<line x1="391.93" y1="474.77" x2="394.53" y2="474.77" stroke="#111" stroke-width="0.9" />
<line x1="391.93" y1="502.66" x2="394.53" y2="502.66" stroke="#111" stroke-width="0.9" />
<line x1="409.65" y1="471.08" x2="409.65" y2="505.66" stroke="#111" stroke-width="0.9" />
<line x1="408.35" y1="471.08" x2="410.95" y2="471.08" stroke="#111" stroke-width="0.9" />
<line x1="408.35" y1="505.66" x2="410.95" y2="505.66" stroke="#111" stroke-width="0.9" />
<line x1="426.07" y1="463.25" x2="426.07" y2="501.05" stroke="#111" stroke-width="0.9" />
<line x1="424.77" y1="463.25" x2="427.38" y2="463.25" stroke="#111" stroke-width="0.9" />
<line x1="424.77" y1="501.05" x2="427.38" y2="501.05" stroke="#111" stroke-width="0.9" />
<line x1="442.50" y1="461.86" x2="442.50" y2="495.98" stroke="#111" stroke-width="0.9" />
<line x1="441.20" y1="461.86" x2="443.80" y2="461.86" stroke="#111" stroke-width="0.9" />
<line x1="441.20" y1="495.98" x2="443.80" y2="495.98" stroke="#111" stroke-width="0.9" />
<line x1="496.90" y1="467.40" x2="496.90" y2="494.60" stroke="#111" stroke-width="0.9" />
<line x1="495.60" y1="467.40" x2="498.20" y2="467.40" stroke="#111" stroke-width="0.9" />
<line x1="495.60" y1="494.60" x2="498.20" y2="494.60" stroke="#111" stroke-width="0.9" />
<rect x="392.03" y="507.32" width="2.40" height="2.40" fill="#2a3a6a" />
<rect x="392.03" y="492.80" width="2.40" height="2.40" fill="#8a1a3a" />
<line x1="392.03" y1="506.44" x2="394.43" y2="506.44" stroke="#111" stroke-width="0.9" />
<rect x="408.45" y="499.62" width="2.40" height="2.40" fill="#2a3a6a" />
<rect x="408.45" y="486.48" width="2.40" height="2.40" fill="#8a1a3a" />
<line x1="408.45" y1="498.74" x2="410.85" y2="498.74" stroke="#111" stroke-width="0.9" />
<rect x="424.88" y="496.39" width="2.40" height="2.40" fill="#2a3a6a" />
<rect x="424.88" y="485.47" width="2.40" height="2.40" fill="#8a1a3a" />
<line x1="424.88" y1="495.52" x2="427.27" y2="495.52" stroke="#111" stroke-width="0.9" />
<rect x="441.30" y="495.24" width="2.40" height="2.40" fill="#2a3a6a" />
<rect x="441.30" y="484.18" width="2.40" height="2.40" fill="#8a1a3a" />
<line x1="441.30" y1="494.36" x2="443.70" y2="494.36" stroke="#111" stroke-width="0.9" />
<rect x="495.70" y="493.86" width="2.40" height="2.40" fill="#2a3a6a" />
<rect x="495.70" y="486.48" width="2.40" height="2.40" fill="#8a1a3a" />
<line x1="495.70" y1="492.98" x2="498.10" y2="492.98" stroke="#111" stroke-width="0.9" />
<line x1="504.00" y1="478.70" x2="504.00" y2="496.00" stroke="#111" stroke-width="1.0" />
<line x1="501.30" y1="478.70" x2="506.70" y2="478.70" stroke="#111" stroke-width="1.0" />
<line x1="501.30" y1="496.00" x2="506.70" y2="496.00" stroke="#111" stroke-width="1.0" />
<text x="508.50" y="489.58" font-size="5.5" text-anchor="middle" fill="#222" stroke="#222" stroke-width="0.2" >*</text>
<line x1="429.20" y1="507.50" x2="435.00" y2="507.50" stroke="#2e4a82" stroke-width="1.1" />
<rect x="431.00" y="506.40" width="2.20" height="2.20" fill="#2e4a82" />
<text x="438.20" y="509.59" font-size="5.8" fill="#444" stroke="#444" stroke-width="0.1" textLength="40.6" lengthAdjust="spacingAndGlyphs">Banded (r<tspan dy="-2.0" font-size="3.77">2</tspan><tspan dy="2.0">=0.83)</tspan></text>
<line x1="429.20" y1="520.00" x2="435.00" y2="520.00" stroke="#9a1c44" stroke-width="1.1" />
<rect x="431.00" y="518.90" width="2.20" height="2.20" fill="#9a1c44" />
<text x="438.20" y="522.09" font-size="5.8" fill="#444" stroke="#444" stroke-width="0.1" textLength="49.3" lengthAdjust="spacingAndGlyphs">Segmented (r<tspan dy="-2.0" font-size="3.77">2</tspan><tspan dy="2.0">=0.44)</tspan></text>
<line x1="429.20" y1="532.10" x2="435.00" y2="532.10" stroke="#8fb35e" stroke-width="1.1" />
<rect x="431.00" y="531.00" width="2.20" height="2.20" fill="#8fb35e" />
<text x="438.20" y="534.19" font-size="5.8" fill="#444" stroke="#444" stroke-width="0.1" textLength="62.2" lengthAdjust="spacingAndGlyphs">Hypersegmented (r<tspan dy="-2.0" font-size="3.77">2</tspan><tspan dy="2.0">=0.47)</tspan></text>
<line x1="40.00" y1="607.50" x2="40.00" y2="689.60" stroke="#111" stroke-width="1.3" />
<line x1="37.00" y1="689.60" x2="40.00" y2="689.60" stroke="#111" stroke-width="1.1" />
<text x="34.80" y="691.94" font-size="6.5" text-anchor="end" fill="#222" stroke="#222" stroke-width="0.2" >1000</text>
<line x1="37.00" y1="673.45" x2="40.00" y2="673.45" stroke="#111" stroke-width="1.1" />
<text x="34.80" y="675.79" font-size="6.5" text-anchor="end" fill="#222" stroke="#222" stroke-width="0.2" >1100</text>
<line x1="37.00" y1="657.30" x2="40.00" y2="657.30" stroke="#111" stroke-width="1.1" />
<text x="34.80" y="659.64" font-size="6.5" text-anchor="end" fill="#222" stroke="#222" stroke-width="0.2" >1200</text>
<line x1="37.00" y1="641.15" x2="40.00" y2="641.15" stroke="#111" stroke-width="1.1" />
<text x="34.80" y="643.49" font-size="6.5" text-anchor="end" fill="#222" stroke="#222" stroke-width="0.2" >1300</text>
<line x1="37.00" y1="625.00" x2="40.00" y2="625.00" stroke="#111" stroke-width="1.1" />
<text x="34.80" y="627.34" font-size="6.5" text-anchor="end" fill="#222" stroke="#222" stroke-width="0.2" >1400</text>
<line x1="37.00" y1="608.85" x2="40.00" y2="608.85" stroke="#111" stroke-width="1.1" />
<text x="34.80" y="611.19" font-size="6.5" text-anchor="end" fill="#222" stroke="#222" stroke-width="0.2" >1500</text>
<line x1="40.00" y1="689.60" x2="148.00" y2="689.60" stroke="#111" stroke-width="1.3" />
<text x="10.60" y="648.50" font-size="8.2" text-anchor="middle" fill="#222" font-weight="bold" dominant-baseline="central" stroke="#222" stroke-width="0.25" textLength="29" lengthAdjust="spacingAndGlyphs" transform="rotate(-90 10.60 648.50)">Abundance</text>
<rect x="46.10" y="662.95" width="24.00" height="26.65" fill="#2c4d84" />
<line x1="58.10" y1="662.95" x2="58.10" y2="658.91" stroke="#111" stroke-width="1.1" />
<line x1="52.85" y1="658.91" x2="63.35" y2="658.91" stroke="#111" stroke-width="1.1" />
<rect x="82.30" y="655.36" width="23.70" height="34.24" fill="#b0103a" />
<line x1="94.15" y1="655.36" x2="94.15" y2="651.32" stroke="#111" stroke-width="1.1" />
<line x1="88.90" y1="651.32" x2="99.40" y2="651.32" stroke="#111" stroke-width="1.1" />
<rect x="118.00" y="623.38" width="23.90" height="66.22" fill="#74b043" />
<line x1="129.95" y1="623.38" x2="129.95" y2="615.31" stroke="#111" stroke-width="1.1" />
<line x1="124.70" y1="615.31" x2="135.20" y2="615.31" stroke="#111" stroke-width="1.1" />
<line x1="94.50" y1="597.60" x2="129.60" y2="597.60" stroke="#111" stroke-width="1.2" />
<line x1="94.50" y1="594.80" x2="94.50" y2="600.40" stroke="#111" stroke-width="1.2" />
<line x1="129.60" y1="594.80" x2="129.60" y2="600.40" stroke="#111" stroke-width="1.2" />
<text x="112.05" y="598.83" font-size="6.6" text-anchor="middle" fill="#222" stroke="#222" stroke-width="0.25">*</text>
<line x1="59.20" y1="608.00" x2="129.60" y2="608.00" stroke="#111" stroke-width="1.2" />
<line x1="59.20" y1="605.20" x2="59.20" y2="610.80" stroke="#111" stroke-width="1.2" />
<line x1="129.60" y1="605.20" x2="129.60" y2="610.80" stroke="#111" stroke-width="1.2" />
<text x="94.40" y="609.23" font-size="6.6" text-anchor="middle" fill="#222" stroke="#222" stroke-width="0.25">*</text>
<text x="57.80" y="698.94" font-size="6.5" text-anchor="middle" fill="#222" stroke="#222" stroke-width="0.2" >Banded</text>
<text x="94.00" y="698.94" font-size="6.5" text-anchor="middle" fill="#222" stroke="#222" stroke-width="0.2" >Segmented</text>
<text x="130.00" y="698.94" font-size="6.5" text-anchor="middle" fill="#222" stroke="#222" stroke-width="0.2" >Hyper-</text>
<text x="130.00" y="706.54" font-size="6.5" text-anchor="middle" fill="#222" stroke="#222" stroke-width="0.2" >segmented</text>
<line x1="199.80" y1="616.50" x2="199.80" y2="689.50" stroke="#111" stroke-width="1.3" />
<line x1="196.80" y1="689.50" x2="199.80" y2="689.50" stroke="#111" stroke-width="1.1" />
<text x="194.60" y="691.84" font-size="6.5" text-anchor="end" fill="#222" stroke="#222" stroke-width="0.2" >0</text>
<line x1="196.80" y1="665.65" x2="199.80" y2="665.65" stroke="#111" stroke-width="1.1" />
<text x="194.60" y="667.99" font-size="6.5" text-anchor="end" fill="#222" stroke="#222" stroke-width="0.2" >1000</text>
<line x1="196.80" y1="641.80" x2="199.80" y2="641.80" stroke="#111" stroke-width="1.1" />
<text x="194.60" y="644.14" font-size="6.5" text-anchor="end" fill="#222" stroke="#222" stroke-width="0.2" >2000</text>
<line x1="196.80" y1="617.95" x2="199.80" y2="617.95" stroke="#111" stroke-width="1.1" />
<text x="194.60" y="620.29" font-size="6.5" text-anchor="end" fill="#222" stroke="#222" stroke-width="0.2" >3000</text>
<line x1="199.80" y1="689.50" x2="306.00" y2="689.50" stroke="#111" stroke-width="1.3" />
<text x="168.70" y="653.00" font-size="8.2" text-anchor="middle" fill="#222" font-weight="bold" dominant-baseline="central" stroke="#222" stroke-width="0.25" textLength="44" lengthAdjust="spacingAndGlyphs" transform="rotate(-90 168.70 653.00)">Protease activity</text>
<rect x="203.90" y="649.19" width="6.40" height="40.31" fill="#2c4d84" />
<line x1="207.10" y1="649.19" x2="207.10" y2="639.18" stroke="#111" stroke-width="1.1" />
<line x1="205.00" y1="639.18" x2="209.20" y2="639.18" stroke="#111" stroke-width="1.1" />
<rect x="213.80" y="642.04" width="6.80" height="47.46" fill="#b0103a" />
<line x1="217.20" y1="642.04" x2="217.20" y2="631.78" stroke="#111" stroke-width="1.1" />
<line x1="215.10" y1="631.78" x2="219.30" y2="631.78" stroke="#111" stroke-width="1.1" />
<rect x="223.80" y="644.30" width="6.20" height="45.20" fill="#74b043" />
<line x1="226.90" y1="644.30" x2="226.90" y2="632.14" stroke="#111" stroke-width="1.1" />
<line x1="224.80" y1="632.14" x2="229.00" y2="632.14" stroke="#111" stroke-width="1.1" />
<rect x="239.40" y="663.26" width="6.80" height="26.24" fill="#2c4d84" />
<line x1="242.80" y1="663.26" x2="242.80" y2="658.50" stroke="#111" stroke-width="1.1" />
<line x1="240.70" y1="658.50" x2="244.90" y2="658.50" stroke="#111" stroke-width="1.1" />
<rect x="249.70" y="658.50" width="6.40" height="31.00" fill="#b0103a" />
<line x1="252.90" y1="658.50" x2="252.90" y2="651.34" stroke="#111" stroke-width="1.1" />
<line x1="250.80" y1="651.34" x2="255.00" y2="651.34" stroke="#111" stroke-width="1.1" />
<rect x="259.60" y="659.93" width="6.80" height="29.57" fill="#74b043" />
<line x1="263.00" y1="659.93" x2="263.00" y2="652.77" stroke="#111" stroke-width="1.1" />
<line x1="260.90" y1="652.77" x2="265.10" y2="652.77" stroke="#111" stroke-width="1.1" />
<rect x="275.80" y="686.40" width="6.70" height="3.10" fill="#2c4d84" />
<line x1="279.15" y1="686.40" x2="279.15" y2="685.68" stroke="#111" stroke-width="1.1" />
<line x1="277.05" y1="685.68" x2="281.25" y2="685.68" stroke="#111" stroke-width="1.1" />
<rect x="285.20" y="686.40" width="6.80" height="3.10" fill="#b0103a" />
<line x1="288.60" y1="686.40" x2="288.60" y2="685.68" stroke="#111" stroke-width="1.1" />
<line x1="286.50" y1="685.68" x2="290.70" y2="685.68" stroke="#111" stroke-width="1.1" />
<rect x="295.20" y="686.28" width="6.80" height="3.22" fill="#74b043" />
<line x1="298.60" y1="686.28" x2="298.60" y2="685.56" stroke="#111" stroke-width="1.1" />
<line x1="296.50" y1="685.56" x2="300.70" y2="685.56" stroke="#111" stroke-width="1.1" />
<line x1="207.00" y1="620.80" x2="226.80" y2="620.80" stroke="#111" stroke-width="1.2" />
<line x1="207.00" y1="618.00" x2="207.00" y2="623.60" stroke="#111" stroke-width="1.2" />
<line x1="226.80" y1="618.00" x2="226.80" y2="623.60" stroke="#111" stroke-width="1.2" />
<text x="216.90" y="619.12" font-size="6.0" text-anchor="middle" fill="#222" stroke="#222" stroke-width="0.25">ns</text>
<line x1="243.00" y1="645.00" x2="262.30" y2="645.00" stroke="#111" stroke-width="1.2" />
<line x1="243.00" y1="642.20" x2="243.00" y2="647.80" stroke="#111" stroke-width="1.2" />
<line x1="262.30" y1="642.20" x2="262.30" y2="647.80" stroke="#111" stroke-width="1.2" />
<text x="252.65" y="643.32" font-size="6.0" text-anchor="middle" fill="#222" stroke="#222" stroke-width="0.25">ns</text>
<line x1="279.00" y1="678.70" x2="298.70" y2="678.70" stroke="#111" stroke-width="1.2" />
<line x1="279.00" y1="675.90" x2="279.00" y2="681.50" stroke="#111" stroke-width="1.2" />
<line x1="298.70" y1="675.90" x2="298.70" y2="681.50" stroke="#111" stroke-width="1.2" />
<text x="288.85" y="677.02" font-size="6.0" text-anchor="middle" fill="#222" stroke="#222" stroke-width="0.25">ns</text>
<text x="217.90" y="701.17" font-size="6.3" text-anchor="middle" fill="#222" stroke="#222" stroke-width="0.2" >Elastase</text>
<text x="251.50" y="701.17" font-size="6.3" text-anchor="middle" fill="#222" stroke="#222" stroke-width="0.2" >Proteinase 3</text>
<text x="294.60" y="701.17" font-size="6.3" text-anchor="middle" fill="#222" stroke="#222" stroke-width="0.2" >Cathepsin G</text>
<rect x="273.00" y="627.20" width="7.60" height="4.40" fill="#2c4d84" />
<text x="283.80" y="631.49" font-size="5.8" text-anchor="start" fill="#333" stroke="#333" stroke-width="0.2" textLength="18.9" lengthAdjust="spacingAndGlyphs" >Banded</text>
<rect x="273.00" y="636.10" width="7.60" height="4.40" fill="#b0103a" />
<text x="283.80" y="640.39" font-size="5.8" text-anchor="start" fill="#333" stroke="#333" stroke-width="0.2" textLength="27.5" lengthAdjust="spacingAndGlyphs" >Segmented</text>
<rect x="273.00" y="645.50" width="7.60" height="4.40" fill="#74b043" />
<text x="283.80" y="649.79" font-size="5.8" text-anchor="start" fill="#333" stroke="#333" stroke-width="0.2" textLength="39.1" lengthAdjust="spacingAndGlyphs" >Hypersegmented</text>
<circle cx="86.3" cy="80.1" r="0.42" fill="#d0d0d0" opacity="1.0"/>
<circle cx="86.6" cy="71.8" r="0.42" fill="#d0d0d0" opacity="1.0"/>
<circle cx="79.2" cy="72.9" r="0.42" fill="#d0d0d0" opacity="1.0"/>
<circle cx="100.7" cy="79.2" r="0.42" fill="#d0d0d0" opacity="1.0"/>
<circle cx="99.9" cy="77.5" r="0.42" fill="#d0d0d0" opacity="1.0"/>
<circle cx="93.1" cy="76.9" r="0.42" fill="#d0d0d0" opacity="1.0"/>
<circle cx="71.5" cy="83.6" r="0.42" fill="#d0d0d0" opacity="1.0"/>
<circle cx="94.3" cy="80.0" r="0.42" fill="#d0d0d0" opacity="1.0"/>
<circle cx="71.2" cy="57.6" r="0.42" fill="#d0d0d0" opacity="1.0"/>
<circle cx="79.7" cy="70.3" r="0.42" fill="#d0d0d0" opacity="1.0"/>
<circle cx="92.2" cy="74.5" r="0.42" fill="#d0d0d0" opacity="1.0"/>
<circle cx="94.5" cy="68.6" r="0.42" fill="#d0d0d0" opacity="1.0"/>
<circle cx="92.2" cy="78.9" r="0.42" fill="#d0d0d0" opacity="1.0"/>
<circle cx="82.1" cy="92.2" r="0.42" fill="#d0d0d0" opacity="1.0"/>
<circle cx="94.8" cy="87.0" r="0.42" fill="#d0d0d0" opacity="1.0"/>
<circle cx="82.5" cy="67.6" r="0.42" fill="#d0d0d0" opacity="1.0"/>
<circle cx="85.4" cy="73.9" r="0.42" fill="#d0d0d0" opacity="1.0"/>
<circle cx="95.6" cy="77.5" r="0.42" fill="#d0d0d0" opacity="1.0"/>
<circle cx="84.3" cy="65.4" r="0.42" fill="#d0d0d0" opacity="1.0"/>
<circle cx="83.5" cy="87.2" r="0.42" fill="#d0d0d0" opacity="1.0"/>
<circle cx="80.5" cy="77.4" r="0.42" fill="#d0d0d0" opacity="1.0"/>
<circle cx="93.5" cy="60.1" r="0.42" fill="#d0d0d0" opacity="1.0"/>
<circle cx="89.5" cy="88.1" r="0.42" fill="#d0d0d0" opacity="1.0"/>
<circle cx="67.8" cy="71.8" r="0.42" fill="#d0d0d0" opacity="1.0"/>
<circle cx="87.9" cy="66.8" r="0.42" fill="#d0d0d0" opacity="1.0"/>
<circle cx="94.2" cy="74.4" r="0.42" fill="#d0d0d0" opacity="1.0"/>
<circle cx="73.6" cy="83.3" r="0.42" fill="#d0d0d0" opacity="1.0"/>
<circle cx="96.0" cy="84.5" r="0.42" fill="#d0d0d0" opacity="1.0"/>
<circle cx="104.1" cy="78.6" r="0.42" fill="#d0d0d0" opacity="1.0"/>
<circle cx="90.3" cy="62.0" r="0.42" fill="#d0d0d0" opacity="1.0"/>
<circle cx="95.5" cy="68.9" r="0.42" fill="#d0d0d0" opacity="1.0"/>
<circle cx="84.2" cy="62.4" r="0.42" fill="#d0d0d0" opacity="1.0"/>
<circle cx="78.8" cy="69.7" r="0.42" fill="#d0d0d0" opacity="1.0"/>
<circle cx="102.5" cy="54.7" r="0.42" fill="#d0d0d0" opacity="1.0"/>
<circle cx="73.7" cy="77.4" r="0.42" fill="#d0d0d0" opacity="1.0"/>
<circle cx="104.2" cy="80.8" r="0.42" fill="#d0d0d0" opacity="1.0"/>
<circle cx="92.8" cy="67.6" r="0.42" fill="#d0d0d0" opacity="1.0"/>
<circle cx="77.2" cy="84.8" r="0.42" fill="#d0d0d0" opacity="1.0"/>
<circle cx="100.6" cy="76.6" r="0.42" fill="#d0d0d0" opacity="1.0"/>
<circle cx="91.6" cy="79.3" r="0.42" fill="#d0d0d0" opacity="1.0"/>
<circle cx="105.7" cy="81.2" r="0.42" fill="#d0d0d0" opacity="1.0"/>
<circle cx="94.4" cy="80.5" r="0.42" fill="#d0d0d0" opacity="1.0"/>
<circle cx="72.5" cy="87.8" r="0.42" fill="#d0d0d0" opacity="1.0"/>
<circle cx="99.0" cy="80.3" r="0.42" fill="#d0d0d0" opacity="1.0"/>
<circle cx="68.3" cy="68.7" r="0.42" fill="#d0d0d0" opacity="1.0"/>
<circle cx="97.8" cy="56.9" r="0.42" fill="#d0d0d0" opacity="1.0"/>
<circle cx="87.1" cy="85.2" r="0.42" fill="#d0d0d0" opacity="1.0"/>
<circle cx="75.2" cy="91.1" r="0.42" fill="#d0d0d0" opacity="1.0"/>
<circle cx="94.8" cy="73.5" r="0.42" fill="#d0d0d0" opacity="1.0"/>
<circle cx="92.4" cy="81.5" r="0.42" fill="#d0d0d0" opacity="1.0"/>
<circle cx="90.3" cy="86.5" r="0.42" fill="#d0d0d0" opacity="1.0"/>
<circle cx="82.1" cy="70.9" r="0.42" fill="#d0d0d0" opacity="1.0"/>
<circle cx="99.9" cy="75.3" r="0.42" fill="#d0d0d0" opacity="1.0"/>
<circle cx="79.8" cy="84.5" r="0.42" fill="#d0d0d0" opacity="1.0"/>
<circle cx="104.4" cy="70.6" r="0.42" fill="#d0d0d0" opacity="1.0"/>
<circle cx="74.5" cy="73.7" r="0.42" fill="#d0d0d0" opacity="1.0"/>
<circle cx="87.4" cy="72.0" r="0.42" fill="#d0d0d0" opacity="1.0"/>
<circle cx="103.8" cy="64.7" r="0.42" fill="#d0d0d0" opacity="1.0"/>
<circle cx="102.2" cy="62.3" r="0.42" fill="#d0d0d0" opacity="1.0"/>
<circle cx="80.7" cy="81.3" r="0.42" fill="#d0d0d0" opacity="1.0"/>
<circle cx="100.9" cy="83.6" r="0.42" fill="#d0d0d0" opacity="1.0"/>
<circle cx="92.6" cy="76.4" r="0.42" fill="#d0d0d0" opacity="1.0"/>
<circle cx="90.6" cy="80.8" r="0.42" fill="#d0d0d0" opacity="1.0"/>
<circle cx="87.1" cy="77.8" r="0.42" fill="#d0d0d0" opacity="1.0"/>
<circle cx="95.0" cy="75.0" r="0.42" fill="#d0d0d0" opacity="1.0"/>
<circle cx="97.0" cy="80.7" r="0.42" fill="#d0d0d0" opacity="1.0"/>
<circle cx="110.1" cy="78.2" r="0.42" fill="#d0d0d0" opacity="1.0"/>
<circle cx="84.5" cy="71.3" r="0.42" fill="#d0d0d0" opacity="1.0"/>
<circle cx="88.9" cy="84.2" r="0.42" fill="#d0d0d0" opacity="1.0"/>
<circle cx="85.5" cy="78.9" r="0.42" fill="#d0d0d0" opacity="1.0"/>
<circle cx="77.2" cy="77.4" r="0.42" fill="#d0d0d0" opacity="1.0"/>
<circle cx="93.2" cy="77.4" r="0.42" fill="#d0d0d0" opacity="1.0"/>
<circle cx="84.5" cy="81.6" r="0.42" fill="#d0d0d0" opacity="1.0"/>
<circle cx="92.0" cy="69.8" r="0.42" fill="#d0d0d0" opacity="1.0"/>
<circle cx="83.2" cy="74.0" r="0.42" fill="#d0d0d0" opacity="1.0"/>
<circle cx="86.6" cy="74.4" r="0.42" fill="#d0d0d0" opacity="1.0"/>
<circle cx="60.4" cy="70.1" r="0.42" fill="#d0d0d0" opacity="1.0"/>
<circle cx="99.6" cy="63.3" r="0.42" fill="#d0d0d0" opacity="1.0"/>
<circle cx="88.3" cy="84.5" r="0.42" fill="#d0d0d0" opacity="1.0"/>
<circle cx="98.0" cy="89.9" r="0.42" fill="#d0d0d0" opacity="1.0"/>
<circle cx="71.1" cy="71.5" r="0.42" fill="#d0d0d0" opacity="1.0"/>
<circle cx="85.4" cy="81.2" r="0.42" fill="#d0d0d0" opacity="1.0"/>
<circle cx="100.4" cy="60.5" r="0.42" fill="#d0d0d0" opacity="1.0"/>
<circle cx="96.2" cy="60.1" r="0.42" fill="#d0d0d0" opacity="1.0"/>
<circle cx="90.8" cy="86.9" r="0.42" fill="#d0d0d0" opacity="1.0"/>
<circle cx="87.4" cy="76.9" r="0.42" fill="#d0d0d0" opacity="1.0"/>
<circle cx="97.4" cy="76.4" r="0.42" fill="#d0d0d0" opacity="1.0"/>
<circle cx="88.1" cy="90.3" r="0.42" fill="#d0d0d0" opacity="1.0"/>
<circle cx="100.0" cy="72.1" r="0.42" fill="#d0d0d0" opacity="1.0"/>
<circle cx="98.6" cy="72.3" r="0.42" fill="#d0d0d0" opacity="1.0"/>
<circle cx="90.4" cy="82.1" r="0.42" fill="#d0d0d0" opacity="1.0"/>
<circle cx="91.3" cy="81.4" r="0.42" fill="#d0d0d0" opacity="1.0"/>
<circle cx="73.0" cy="59.9" r="0.42" fill="#d0d0d0" opacity="1.0"/>
<circle cx="95.5" cy="65.4" r="0.42" fill="#d0d0d0" opacity="1.0"/>
<circle cx="78.2" cy="60.3" r="0.42" fill="#d0d0d0" opacity="1.0"/>
<circle cx="102.3" cy="82.5" r="0.42" fill="#d0d0d0" opacity="1.0"/>
<circle cx="104.5" cy="65.6" r="0.42" fill="#d0d0d0" opacity="1.0"/>
<circle cx="89.0" cy="63.6" r="0.42" fill="#d0d0d0" opacity="1.0"/>
<circle cx="97.0" cy="90.9" r="0.42" fill="#d0d0d0" opacity="1.0"/>
<circle cx="79.7" cy="90.6" r="0.42" fill="#d0d0d0" opacity="1.0"/>
<circle cx="99.4" cy="73.2" r="0.42" fill="#d0d0d0" opacity="1.0"/>
<circle cx="68.3" cy="89.1" r="0.42" fill="#d0d0d0" opacity="1.0"/>
<circle cx="88.0" cy="69.0" r="0.42" fill="#d0d0d0" opacity="1.0"/>
<circle cx="93.2" cy="79.1" r="0.42" fill="#d0d0d0" opacity="1.0"/>
<circle cx="104.7" cy="64.8" r="0.42" fill="#d0d0d0" opacity="1.0"/>
<circle cx="100.9" cy="89.9" r="0.42" fill="#d0d0d0" opacity="1.0"/>
<circle cx="104.2" cy="73.2" r="0.42" fill="#d0d0d0" opacity="1.0"/>
<circle cx="81.2" cy="85.2" r="0.42" fill="#d0d0d0" opacity="1.0"/>
<circle cx="90.2" cy="76.2" r="0.42" fill="#d0d0d0" opacity="1.0"/>
<circle cx="104.0" cy="72.4" r="0.42" fill="#d0d0d0" opacity="1.0"/>
<circle cx="64.9" cy="71.1" r="0.42" fill="#d0d0d0" opacity="1.0"/>
<circle cx="69.5" cy="83.2" r="0.42" fill="#d0d0d0" opacity="1.0"/>
<circle cx="92.3" cy="68.9" r="0.42" fill="#d0d0d0" opacity="1.0"/>
<circle cx="88.9" cy="83.3" r="0.42" fill="#d0d0d0" opacity="1.0"/>
<circle cx="89.8" cy="88.3" r="0.42" fill="#d0d0d0" opacity="1.0"/>
<circle cx="88.4" cy="85.4" r="0.42" fill="#d0d0d0" opacity="1.0"/>
<circle cx="104.7" cy="91.1" r="0.42" fill="#d0d0d0" opacity="1.0"/>
<circle cx="81.9" cy="83.8" r="0.42" fill="#d0d0d0" opacity="1.0"/>
<circle cx="69.3" cy="64.2" r="0.42" fill="#d0d0d0" opacity="1.0"/>
<circle cx="68.4" cy="85.7" r="0.42" fill="#d0d0d0" opacity="1.0"/>
<circle cx="76.1" cy="74.9" r="0.42" fill="#d0d0d0" opacity="1.0"/>
<circle cx="87.0" cy="74.7" r="0.42" fill="#d0d0d0" opacity="1.0"/>
<circle cx="82.8" cy="77.3" r="0.42" fill="#d0d0d0" opacity="1.0"/>
<circle cx="107.8" cy="75.4" r="0.42" fill="#d0d0d0" opacity="1.0"/>
<circle cx="94.6" cy="85.0" r="0.42" fill="#d0d0d0" opacity="1.0"/>
<circle cx="86.9" cy="62.4" r="0.42" fill="#d0d0d0" opacity="1.0"/>
<circle cx="83.2" cy="85.7" r="0.42" fill="#d0d0d0" opacity="1.0"/>
<circle cx="71.7" cy="69.0" r="0.42" fill="#d0d0d0" opacity="1.0"/>
<circle cx="99.6" cy="82.9" r="0.42" fill="#d0d0d0" opacity="1.0"/>
<circle cx="89.1" cy="83.1" r="0.42" fill="#d0d0d0" opacity="1.0"/>
<circle cx="90.7" cy="63.2" r="0.42" fill="#d0d0d0" opacity="1.0"/>
<circle cx="72.6" cy="68.6" r="0.42" fill="#d0d0d0" opacity="1.0"/>
<circle cx="98.7" cy="69.3" r="0.42" fill="#d0d0d0" opacity="1.0"/>
<circle cx="79.5" cy="67.3" r="0.42" fill="#d0d0d0" opacity="1.0"/>
<circle cx="72.9" cy="73.8" r="0.42" fill="#d0d0d0" opacity="1.0"/>
<circle cx="76.6" cy="78.6" r="0.42" fill="#d0d0d0" opacity="1.0"/>
<circle cx="64.2" cy="78.3" r="0.42" fill="#d0d0d0" opacity="1.0"/>
<circle cx="82.3" cy="55.6" r="0.42" fill="#d0d0d0" opacity="1.0"/>
<circle cx="96.6" cy="72.2" r="0.42" fill="#d0d0d0" opacity="1.0"/>
<circle cx="65.6" cy="66.2" r="0.42" fill="#d0d0d0" opacity="1.0"/>
<circle cx="92.1" cy="70.4" r="0.42" fill="#d0d0d0" opacity="1.0"/>
<circle cx="97.2" cy="82.5" r="0.42" fill="#d0d0d0" opacity="1.0"/>
<circle cx="96.0" cy="78.3" r="0.42" fill="#d0d0d0" opacity="1.0"/>
<circle cx="103.0" cy="81.6" r="0.42" fill="#d0d0d0" opacity="1.0"/>
<circle cx="93.7" cy="54.2" r="0.42" fill="#d0d0d0" opacity="1.0"/>
<circle cx="98.4" cy="88.1" r="0.42" fill="#d0d0d0" opacity="1.0"/>
<circle cx="85.9" cy="70.3" r="0.42" fill="#d0d0d0" opacity="1.0"/>
<circle cx="109.4" cy="57.4" r="0.42" fill="#d0d0d0" opacity="1.0"/>
<circle cx="93.9" cy="99.2" r="0.42" fill="#d0d0d0" opacity="1.0"/>
<circle cx="79.3" cy="81.9" r="0.42" fill="#d0d0d0" opacity="1.0"/>
<circle cx="108.8" cy="73.8" r="0.42" fill="#d0d0d0" opacity="1.0"/>
<circle cx="94.9" cy="84.0" r="0.42" fill="#d0d0d0" opacity="1.0"/>
<circle cx="79.5" cy="74.1" r="0.42" fill="#d0d0d0" opacity="1.0"/>
<circle cx="92.1" cy="83.3" r="0.42" fill="#d0d0d0" opacity="1.0"/>
<circle cx="88.6" cy="73.0" r="0.42" fill="#d0d0d0" opacity="1.0"/>
<circle cx="78.3" cy="71.4" r="0.42" fill="#d0d0d0" opacity="1.0"/>
<circle cx="98.4" cy="76.0" r="0.42" fill="#d0d0d0" opacity="1.0"/>
<circle cx="80.0" cy="66.6" r="0.42" fill="#d0d0d0" opacity="1.0"/>
<circle cx="95.5" cy="79.8" r="0.42" fill="#d0d0d0" opacity="1.0"/>
<circle cx="106.7" cy="79.3" r="0.42" fill="#d0d0d0" opacity="1.0"/>
<circle cx="88.3" cy="80.2" r="0.42" fill="#d0d0d0" opacity="1.0"/>
<circle cx="68.6" cy="85.3" r="0.42" fill="#d0d0d0" opacity="1.0"/>
<circle cx="92.4" cy="68.0" r="0.42" fill="#d0d0d0" opacity="1.0"/>
<circle cx="102.9" cy="93.1" r="0.42" fill="#d0d0d0" opacity="1.0"/>
<circle cx="74.3" cy="68.3" r="0.42" fill="#d0d0d0" opacity="1.0"/>
<circle cx="92.1" cy="76.8" r="0.42" fill="#d0d0d0" opacity="1.0"/>
<circle cx="84.8" cy="65.3" r="0.42" fill="#d0d0d0" opacity="1.0"/>
<circle cx="111.3" cy="85.4" r="0.42" fill="#d0d0d0" opacity="1.0"/>
<circle cx="76.5" cy="61.5" r="0.42" fill="#d0d0d0" opacity="1.0"/>
<circle cx="106.9" cy="84.9" r="0.42" fill="#d0d0d0" opacity="1.0"/>
<circle cx="108.1" cy="83.1" r="0.42" fill="#d0d0d0" opacity="1.0"/>
<circle cx="79.8" cy="77.6" r="0.42" fill="#d0d0d0" opacity="1.0"/>
<circle cx="66.3" cy="67.5" r="0.42" fill="#d0d0d0" opacity="1.0"/>
<circle cx="88.4" cy="80.2" r="0.42" fill="#d0d0d0" opacity="1.0"/>
<circle cx="81.4" cy="73.8" r="0.42" fill="#d0d0d0" opacity="1.0"/>
<circle cx="93.8" cy="78.8" r="0.42" fill="#d0d0d0" opacity="1.0"/>
<circle cx="95.7" cy="77.1" r="0.42" fill="#d0d0d0" opacity="1.0"/>
<circle cx="85.6" cy="82.9" r="0.42" fill="#d0d0d0" opacity="1.0"/>
<circle cx="89.5" cy="66.7" r="0.42" fill="#d0d0d0" opacity="1.0"/>
<circle cx="82.4" cy="75.0" r="0.42" fill="#d0d0d0" opacity="1.0"/>
<circle cx="87.8" cy="76.6" r="0.42" fill="#d0d0d0" opacity="1.0"/>
<circle cx="89.0" cy="76.8" r="0.42" fill="#d0d0d0" opacity="1.0"/>
<circle cx="87.6" cy="62.4" r="0.42" fill="#d0d0d0" opacity="1.0"/>
<circle cx="93.4" cy="85.5" r="0.42" fill="#d0d0d0" opacity="1.0"/>
<circle cx="93.6" cy="73.1" r="0.42" fill="#d0d0d0" opacity="1.0"/>
<circle cx="93.7" cy="65.3" r="0.42" fill="#d0d0d0" opacity="1.0"/>
<circle cx="69.1" cy="75.6" r="0.42" fill="#d0d0d0" opacity="1.0"/>
<circle cx="79.2" cy="82.4" r="0.42" fill="#d0d0d0" opacity="1.0"/>
<circle cx="78.1" cy="90.8" r="0.42" fill="#d0d0d0" opacity="1.0"/>
<circle cx="85.0" cy="61.3" r="0.42" fill="#d0d0d0" opacity="1.0"/>
<circle cx="81.0" cy="80.2" r="0.42" fill="#d0d0d0" opacity="1.0"/>
<circle cx="94.2" cy="76.8" r="0.42" fill="#d0d0d0" opacity="1.0"/>
<circle cx="104.6" cy="82.1" r="0.42" fill="#d0d0d0" opacity="1.0"/>
<circle cx="88.8" cy="81.0" r="0.42" fill="#d0d0d0" opacity="1.0"/>
<circle cx="106.4" cy="84.7" r="0.42" fill="#d0d0d0" opacity="1.0"/>
<circle cx="99.7" cy="64.2" r="0.42" fill="#d0d0d0" opacity="1.0"/>
<circle cx="87.4" cy="82.3" r="0.42" fill="#d0d0d0" opacity="1.0"/>
<circle cx="85.9" cy="85.7" r="0.42" fill="#d0d0d0" opacity="1.0"/>
<circle cx="95.3" cy="84.1" r="0.42" fill="#d0d0d0" opacity="1.0"/>
<circle cx="86.8" cy="100.5" r="0.42" fill="#d0d0d0" opacity="1.0"/>
<circle cx="102.0" cy="72.8" r="0.42" fill="#d0d0d0" opacity="1.0"/>
<circle cx="90.0" cy="101.0" r="0.42" fill="#d0d0d0" opacity="1.0"/>
<circle cx="85.4" cy="83.7" r="0.42" fill="#d0d0d0" opacity="1.0"/>
<circle cx="99.3" cy="75.1" r="0.42" fill="#d0d0d0" opacity="1.0"/>
<circle cx="76.7" cy="76.9" r="0.42" fill="#d0d0d0" opacity="1.0"/>
<circle cx="92.8" cy="86.3" r="0.42" fill="#d0d0d0" opacity="1.0"/>
<circle cx="97.2" cy="75.2" r="0.42" fill="#d0d0d0" opacity="1.0"/>
<circle cx="98.0" cy="80.4" r="0.42" fill="#d0d0d0" opacity="1.0"/>
<circle cx="91.2" cy="75.6" r="0.42" fill="#d0d0d0" opacity="1.0"/>
<circle cx="86.4" cy="81.9" r="0.42" fill="#d0d0d0" opacity="1.0"/>
<circle cx="77.9" cy="68.7" r="0.42" fill="#d0d0d0" opacity="1.0"/>
<circle cx="89.1" cy="60.4" r="0.42" fill="#d0d0d0" opacity="1.0"/>
<circle cx="84.4" cy="54.9" r="0.42" fill="#d0d0d0" opacity="1.0"/>
<circle cx="81.8" cy="80.7" r="0.42" fill="#d0d0d0" opacity="1.0"/>
<circle cx="94.9" cy="74.5" r="0.42" fill="#d0d0d0" opacity="1.0"/>
<circle cx="86.6" cy="60.8" r="0.42" fill="#d0d0d0" opacity="1.0"/>
<circle cx="108.2" cy="80.2" r="0.42" fill="#d0d0d0" opacity="1.0"/>
<circle cx="100.5" cy="66.2" r="0.42" fill="#d0d0d0" opacity="1.0"/>
<circle cx="87.1" cy="56.8" r="0.42" fill="#d0d0d0" opacity="1.0"/>
<circle cx="97.2" cy="84.4" r="0.42" fill="#d0d0d0" opacity="1.0"/>
<circle cx="69.1" cy="74.5" r="0.42" fill="#d0d0d0" opacity="1.0"/>
<circle cx="95.6" cy="57.4" r="0.42" fill="#d0d0d0" opacity="1.0"/>
<circle cx="69.8" cy="64.3" r="0.42" fill="#d0d0d0" opacity="1.0"/>
<circle cx="82.4" cy="61.0" r="0.42" fill="#d0d0d0" opacity="1.0"/>
<circle cx="89.3" cy="77.5" r="0.42" fill="#d0d0d0" opacity="1.0"/>
<circle cx="95.7" cy="82.0" r="0.42" fill="#d0d0d0" opacity="1.0"/>
<circle cx="104.8" cy="86.6" r="0.42" fill="#d0d0d0" opacity="1.0"/>
<circle cx="75.2" cy="69.9" r="0.42" fill="#d0d0d0" opacity="1.0"/>
<circle cx="77.9" cy="64.2" r="0.42" fill="#d0d0d0" opacity="1.0"/>
<circle cx="88.1" cy="75.1" r="0.42" fill="#d0d0d0" opacity="1.0"/>
<circle cx="94.1" cy="59.1" r="0.42" fill="#d0d0d0" opacity="1.0"/>
<circle cx="76.0" cy="74.8" r="0.42" fill="#d0d0d0" opacity="1.0"/>
<circle cx="86.9" cy="71.9" r="0.42" fill="#d0d0d0" opacity="1.0"/>
<circle cx="88.3" cy="67.4" r="0.42" fill="#d0d0d0" opacity="1.0"/>
<circle cx="96.4" cy="78.5" r="0.42" fill="#d0d0d0" opacity="1.0"/>
<circle cx="88.1" cy="68.3" r="0.42" fill="#d0d0d0" opacity="1.0"/>
<circle cx="78.7" cy="75.4" r="0.42" fill="#d0d0d0" opacity="1.0"/>
<circle cx="73.2" cy="77.0" r="0.42" fill="#d0d0d0" opacity="1.0"/>
<circle cx="90.5" cy="61.2" r="0.42" fill="#d0d0d0" opacity="1.0"/>
<circle cx="86.4" cy="71.9" r="0.42" fill="#d0d0d0" opacity="1.0"/>
<circle cx="93.8" cy="81.1" r="0.42" fill="#d0d0d0" opacity="1.0"/>
<circle cx="88.6" cy="66.5" r="0.42" fill="#d0d0d0" opacity="1.0"/>
<circle cx="87.5" cy="74.3" r="0.42" fill="#d0d0d0" opacity="1.0"/>
<circle cx="96.7" cy="77.9" r="0.42" fill="#d0d0d0" opacity="1.0"/>
<circle cx="81.4" cy="61.5" r="0.42" fill="#d0d0d0" opacity="1.0"/>
<circle cx="85.1" cy="67.6" r="0.42" fill="#d0d0d0" opacity="1.0"/>
<circle cx="77.3" cy="73.8" r="0.42" fill="#d0d0d0" opacity="1.0"/>
<circle cx="83.8" cy="76.1" r="0.42" fill="#d0d0d0" opacity="1.0"/>
<circle cx="94.5" cy="70.9" r="0.42" fill="#d0d0d0" opacity="1.0"/>
<circle cx="100.6" cy="76.2" r="0.42" fill="#d0d0d0" opacity="1.0"/>
<circle cx="100.7" cy="51.2" r="0.42" fill="#d0d0d0" opacity="1.0"/>
<circle cx="81.1" cy="77.5" r="0.42" fill="#d0d0d0" opacity="1.0"/>
<circle cx="95.3" cy="98.4" r="0.42" fill="#d0d0d0" opacity="1.0"/>
<circle cx="92.4" cy="87.8" r="0.42" fill="#d0d0d0" opacity="1.0"/>
<circle cx="97.0" cy="84.5" r="0.42" fill="#d0d0d0" opacity="1.0"/>
<circle cx="94.4" cy="73.4" r="0.42" fill="#d0d0d0" opacity="1.0"/>
<circle cx="94.3" cy="64.2" r="0.42" fill="#d0d0d0" opacity="1.0"/>
<circle cx="101.4" cy="64.8" r="0.42" fill="#d0d0d0" opacity="1.0"/>
<circle cx="91.6" cy="96.2" r="0.42" fill="#d0d0d0" opacity="1.0"/>
<circle cx="86.7" cy="75.2" r="0.42" fill="#d0d0d0" opacity="1.0"/>
<circle cx="101.2" cy="75.3" r="0.42" fill="#d0d0d0" opacity="1.0"/>
<circle cx="80.5" cy="77.6" r="0.42" fill="#d0d0d0" opacity="1.0"/>
<circle cx="95.1" cy="82.1" r="0.42" fill="#d0d0d0" opacity="1.0"/>
<circle cx="80.9" cy="92.5" r="0.42" fill="#d0d0d0" opacity="1.0"/>
<circle cx="106.5" cy="75.2" r="0.42" fill="#d0d0d0" opacity="1.0"/>
<circle cx="91.8" cy="70.7" r="0.42" fill="#d0d0d0" opacity="1.0"/>
<circle cx="103.8" cy="68.0" r="0.42" fill="#d0d0d0" opacity="1.0"/>
<circle cx="96.1" cy="70.2" r="0.42" fill="#d0d0d0" opacity="1.0"/>
<circle cx="81.7" cy="82.2" r="0.42" fill="#d0d0d0" opacity="1.0"/>
<circle cx="103.0" cy="74.9" r="0.42" fill="#d0d0d0" opacity="1.0"/>
<circle cx="81.9" cy="83.1" r="0.42" fill="#d0d0d0" opacity="1.0"/>
<circle cx="88.5" cy="78.1" r="0.42" fill="#d0d0d0" opacity="1.0"/>
<circle cx="105.0" cy="86.3" r="0.42" fill="#d0d0d0" opacity="1.0"/>
<circle cx="83.5" cy="97.8" r="0.42" fill="#d0d0d0" opacity="1.0"/>
<circle cx="89.0" cy="82.9" r="0.42" fill="#d0d0d0" opacity="1.0"/>
<circle cx="82.2" cy="74.6" r="0.42" fill="#d0d0d0" opacity="1.0"/>
<circle cx="70.6" cy="92.9" r="0.42" fill="#d0d0d0" opacity="1.0"/>
<circle cx="103.3" cy="62.8" r="0.42" fill="#d0d0d0" opacity="1.0"/>
<circle cx="73.2" cy="58.8" r="0.42" fill="#d0d0d0" opacity="1.0"/>
<circle cx="101.3" cy="70.4" r="0.42" fill="#d0d0d0" opacity="1.0"/>
<circle cx="88.4" cy="71.9" r="0.42" fill="#d0d0d0" opacity="1.0"/>
<circle cx="87.7" cy="64.1" r="0.42" fill="#d0d0d0" opacity="1.0"/>
<circle cx="89.3" cy="60.6" r="0.42" fill="#d0d0d0" opacity="1.0"/>
<circle cx="88.2" cy="78.1" r="0.42" fill="#d0d0d0" opacity="1.0"/>
<circle cx="93.9" cy="72.7" r="0.42" fill="#d0d0d0" opacity="1.0"/>
<circle cx="79.5" cy="76.6" r="0.42" fill="#d0d0d0" opacity="1.0"/>
<circle cx="83.9" cy="90.7" r="0.42" fill="#d0d0d0" opacity="1.0"/>
<circle cx="97.1" cy="73.8" r="0.42" fill="#d0d0d0" opacity="1.0"/>
<circle cx="84.1" cy="68.0" r="0.42" fill="#d0d0d0" opacity="1.0"/>
<circle cx="79.2" cy="71.5" r="0.42" fill="#d0d0d0" opacity="1.0"/>
<circle cx="92.1" cy="80.2" r="0.42" fill="#d0d0d0" opacity="1.0"/>
<circle cx="95.0" cy="96.0" r="0.42" fill="#d0d0d0" opacity="1.0"/>
<circle cx="81.6" cy="75.1" r="0.42" fill="#d0d0d0" opacity="1.0"/>
<circle cx="83.5" cy="76.7" r="0.42" fill="#d0d0d0" opacity="1.0"/>
<circle cx="90.6" cy="79.1" r="0.42" fill="#d0d0d0" opacity="1.0"/>
<circle cx="86.5" cy="78.7" r="0.42" fill="#d0d0d0" opacity="1.0"/>
<circle cx="89.6" cy="82.7" r="0.42" fill="#d0d0d0" opacity="1.0"/>
<circle cx="69.1" cy="66.1" r="0.42" fill="#d0d0d0" opacity="1.0"/>
<circle cx="89.0" cy="64.7" r="0.42" fill="#d0d0d0" opacity="1.0"/>
<circle cx="78.0" cy="81.3" r="0.42" fill="#d0d0d0" opacity="1.0"/>
<circle cx="82.2" cy="81.3" r="0.42" fill="#d0d0d0" opacity="1.0"/>
<circle cx="96.8" cy="78.1" r="0.42" fill="#d0d0d0" opacity="1.0"/>
<circle cx="94.3" cy="74.0" r="0.42" fill="#d0d0d0" opacity="1.0"/>
<circle cx="74.2" cy="74.7" r="0.42" fill="#d0d0d0" opacity="1.0"/>
<circle cx="93.8" cy="69.7" r="0.42" fill="#d0d0d0" opacity="1.0"/>
<circle cx="88.0" cy="82.5" r="0.42" fill="#d0d0d0" opacity="1.0"/>
<circle cx="79.8" cy="81.4" r="0.42" fill="#d0d0d0" opacity="1.0"/>
<circle cx="108.6" cy="69.5" r="0.42" fill="#d0d0d0" opacity="1.0"/>
<circle cx="90.5" cy="73.5" r="0.42" fill="#d0d0d0" opacity="1.0"/>
<circle cx="105.2" cy="78.2" r="0.42" fill="#d0d0d0" opacity="1.0"/>
<circle cx="98.4" cy="68.1" r="0.42" fill="#d0d0d0" opacity="1.0"/>
<circle cx="88.8" cy="74.9" r="0.42" fill="#d0d0d0" opacity="1.0"/>
<circle cx="70.4" cy="89.4" r="0.42" fill="#d0d0d0" opacity="1.0"/>
<circle cx="98.4" cy="57.5" r="0.42" fill="#d0d0d0" opacity="1.0"/>
<circle cx="96.8" cy="73.7" r="0.42" fill="#d0d0d0" opacity="1.0"/>
<circle cx="93.7" cy="78.7" r="0.42" fill="#d0d0d0" opacity="1.0"/>
<circle cx="73.3" cy="72.9" r="0.42" fill="#d0d0d0" opacity="1.0"/>
<circle cx="104.7" cy="69.3" r="0.42" fill="#d0d0d0" opacity="1.0"/>
<circle cx="78.3" cy="61.4" r="0.42" fill="#d0d0d0" opacity="1.0"/>
<circle cx="76.2" cy="78.4" r="0.42" fill="#d0d0d0" opacity="1.0"/>
<circle cx="106.8" cy="79.3" r="0.42" fill="#d0d0d0" opacity="1.0"/>
<circle cx="91.6" cy="97.3" r="0.42" fill="#d0d0d0" opacity="1.0"/>
<circle cx="83.5" cy="68.3" r="0.42" fill="#d0d0d0" opacity="1.0"/>
<circle cx="94.5" cy="80.5" r="0.42" fill="#d0d0d0" opacity="1.0"/>
<circle cx="78.3" cy="63.3" r="0.42" fill="#d0d0d0" opacity="1.0"/>
<circle cx="92.1" cy="77.5" r="0.42" fill="#d0d0d0" opacity="1.0"/>
<circle cx="75.3" cy="73.0" r="0.42" fill="#d0d0d0" opacity="1.0"/>
<circle cx="83.3" cy="79.6" r="0.42" fill="#d0d0d0" opacity="1.0"/>
<circle cx="87.8" cy="74.1" r="0.42" fill="#d0d0d0" opacity="1.0"/>
<circle cx="85.3" cy="85.5" r="0.42" fill="#d0d0d0" opacity="1.0"/>
<circle cx="103.6" cy="71.3" r="0.42" fill="#d0d0d0" opacity="1.0"/>
<circle cx="97.9" cy="67.4" r="0.42" fill="#d0d0d0" opacity="1.0"/>
<circle cx="89.8" cy="82.5" r="0.42" fill="#d0d0d0" opacity="1.0"/>
<circle cx="104.9" cy="71.2" r="0.42" fill="#d0d0d0" opacity="1.0"/>
<circle cx="88.2" cy="77.0" r="0.42" fill="#d0d0d0" opacity="1.0"/>
<circle cx="73.3" cy="75.2" r="0.42" fill="#d0d0d0" opacity="1.0"/>
<circle cx="81.9" cy="78.7" r="0.42" fill="#d0d0d0" opacity="1.0"/>
<circle cx="77.1" cy="55.2" r="0.42" fill="#d0d0d0" opacity="1.0"/>
<circle cx="89.4" cy="77.6" r="0.42" fill="#d0d0d0" opacity="1.0"/>
<circle cx="83.2" cy="83.9" r="0.42" fill="#d0d0d0" opacity="1.0"/>
<circle cx="86.1" cy="68.9" r="0.42" fill="#d0d0d0" opacity="1.0"/>
<circle cx="94.0" cy="59.3" r="0.42" fill="#d0d0d0" opacity="1.0"/>
<circle cx="81.9" cy="74.8" r="0.42" fill="#d0d0d0" opacity="1.0"/>
<circle cx="97.9" cy="73.4" r="0.42" fill="#d0d0d0" opacity="1.0"/>
<circle cx="92.2" cy="68.4" r="0.42" fill="#d0d0d0" opacity="1.0"/>
<circle cx="92.2" cy="91.6" r="0.42" fill="#d0d0d0" opacity="1.0"/>
<circle cx="81.8" cy="98.7" r="0.42" fill="#d0d0d0" opacity="1.0"/>
<circle cx="82.2" cy="75.2" r="0.42" fill="#d0d0d0" opacity="1.0"/>
<circle cx="90.8" cy="85.2" r="0.42" fill="#d0d0d0" opacity="1.0"/>
<circle cx="76.0" cy="54.0" r="0.42" fill="#d0d0d0" opacity="1.0"/>
<circle cx="95.4" cy="83.0" r="0.42" fill="#d0d0d0" opacity="1.0"/>
<circle cx="95.5" cy="101.3" r="0.42" fill="#d0d0d0" opacity="1.0"/>
<circle cx="91.2" cy="77.5" r="0.42" fill="#d0d0d0" opacity="1.0"/>
<circle cx="98.8" cy="78.7" r="0.42" fill="#d0d0d0" opacity="1.0"/>
<circle cx="106.5" cy="62.6" r="0.42" fill="#d0d0d0" opacity="1.0"/>
<circle cx="97.5" cy="71.3" r="0.42" fill="#d0d0d0" opacity="1.0"/>
<circle cx="98.7" cy="96.5" r="0.42" fill="#d0d0d0" opacity="1.0"/>
<circle cx="88.9" cy="72.5" r="0.42" fill="#d0d0d0" opacity="1.0"/>
<circle cx="83.8" cy="66.6" r="0.42" fill="#d0d0d0" opacity="1.0"/>
<circle cx="82.4" cy="81.4" r="0.42" fill="#d0d0d0" opacity="1.0"/>
<circle cx="89.4" cy="75.7" r="0.42" fill="#d0d0d0" opacity="1.0"/>
<circle cx="87.2" cy="84.1" r="0.42" fill="#d0d0d0" opacity="1.0"/>
<circle cx="94.2" cy="73.6" r="0.42" fill="#d0d0d0" opacity="1.0"/>
<circle cx="96.0" cy="73.5" r="0.42" fill="#d0d0d0" opacity="1.0"/>
<circle cx="76.9" cy="89.6" r="0.42" fill="#d0d0d0" opacity="1.0"/>
<circle cx="93.9" cy="65.4" r="0.42" fill="#d0d0d0" opacity="1.0"/>
<circle cx="100.3" cy="78.4" r="0.42" fill="#d0d0d0" opacity="1.0"/>
<circle cx="72.6" cy="91.1" r="0.42" fill="#d0d0d0" opacity="1.0"/>
<circle cx="92.5" cy="83.9" r="0.42" fill="#d0d0d0" opacity="1.0"/>
<circle cx="91.1" cy="73.5" r="0.42" fill="#d0d0d0" opacity="1.0"/>
<circle cx="72.7" cy="84.7" r="0.42" fill="#d0d0d0" opacity="1.0"/>
<circle cx="89.3" cy="72.1" r="0.42" fill="#d0d0d0" opacity="1.0"/>
<circle cx="92.7" cy="75.8" r="0.42" fill="#d0d0d0" opacity="1.0"/>
<circle cx="96.1" cy="71.3" r="0.42" fill="#d0d0d0" opacity="1.0"/>
<circle cx="88.6" cy="53.6" r="0.42" fill="#d0d0d0" opacity="1.0"/>
<circle cx="84.6" cy="81.8" r="0.42" fill="#d0d0d0" opacity="1.0"/>
<circle cx="103.0" cy="71.4" r="0.42" fill="#d0d0d0" opacity="1.0"/>
<circle cx="87.7" cy="90.8" r="0.42" fill="#d0d0d0" opacity="1.0"/>
<circle cx="85.6" cy="82.3" r="0.42" fill="#d0d0d0" opacity="1.0"/>
<circle cx="106.6" cy="75.4" r="0.42" fill="#d0d0d0" opacity="1.0"/>
<circle cx="101.9" cy="67.9" r="0.42" fill="#d0d0d0" opacity="1.0"/>
<circle cx="91.2" cy="74.2" r="0.42" fill="#d0d0d0" opacity="1.0"/>
<circle cx="90.2" cy="86.3" r="0.42" fill="#d0d0d0" opacity="1.0"/>
<circle cx="83.0" cy="80.0" r="0.42" fill="#d0d0d0" opacity="1.0"/>
<circle cx="77.9" cy="80.0" r="0.42" fill="#d0d0d0" opacity="1.0"/>
<circle cx="95.0" cy="72.2" r="0.42" fill="#d0d0d0" opacity="1.0"/>
<circle cx="94.6" cy="59.5" r="0.42" fill="#d0d0d0" opacity="1.0"/>
<circle cx="97.0" cy="59.6" r="0.42" fill="#d0d0d0" opacity="1.0"/>
<circle cx="81.7" cy="69.4" r="0.42" fill="#d0d0d0" opacity="1.0"/>
<circle cx="84.8" cy="83.6" r="0.42" fill="#d0d0d0" opacity="1.0"/>
<circle cx="89.9" cy="71.0" r="0.42" fill="#d0d0d0" opacity="1.0"/>
<circle cx="94.7" cy="90.8" r="0.42" fill="#d0d0d0" opacity="1.0"/>
<circle cx="89.1" cy="78.7" r="0.42" fill="#d0d0d0" opacity="1.0"/>
<circle cx="102.0" cy="77.7" r="0.42" fill="#d0d0d0" opacity="1.0"/>
<circle cx="75.5" cy="99.9" r="0.42" fill="#d0d0d0" opacity="1.0"/>
<circle cx="112.2" cy="55.2" r="0.42" fill="#d0d0d0" opacity="1.0"/>
<circle cx="88.6" cy="79.2" r="0.42" fill="#d0d0d0" opacity="1.0"/>
<circle cx="99.1" cy="81.7" r="0.42" fill="#d0d0d0" opacity="1.0"/>
<circle cx="86.1" cy="64.5" r="0.42" fill="#d0d0d0" opacity="1.0"/>
<circle cx="90.1" cy="85.3" r="0.42" fill="#d0d0d0" opacity="1.0"/>
<circle cx="77.6" cy="64.7" r="0.42" fill="#d0d0d0" opacity="1.0"/>
<circle cx="88.7" cy="55.6" r="0.42" fill="#d0d0d0" opacity="1.0"/>
<circle cx="86.3" cy="70.6" r="0.42" fill="#d0d0d0" opacity="1.0"/>
<circle cx="93.7" cy="68.0" r="0.42" fill="#d0d0d0" opacity="1.0"/>
<circle cx="79.7" cy="71.1" r="0.42" fill="#d0d0d0" opacity="1.0"/>
<circle cx="88.5" cy="68.4" r="0.42" fill="#d0d0d0" opacity="1.0"/>
<circle cx="89.1" cy="82.5" r="0.42" fill="#d0d0d0" opacity="1.0"/>
<circle cx="101.4" cy="92.0" r="0.42" fill="#d0d0d0" opacity="1.0"/>
<circle cx="80.8" cy="70.8" r="0.42" fill="#d0d0d0" opacity="1.0"/>
<circle cx="62.9" cy="94.0" r="0.42" fill="#d0d0d0" opacity="1.0"/>
<circle cx="81.4" cy="74.7" r="0.42" fill="#d0d0d0" opacity="1.0"/>
<circle cx="94.5" cy="61.4" r="0.42" fill="#d0d0d0" opacity="1.0"/>
<circle cx="93.9" cy="74.7" r="0.42" fill="#d0d0d0" opacity="1.0"/>
<circle cx="69.8" cy="77.9" r="0.42" fill="#d0d0d0" opacity="1.0"/>
<circle cx="101.5" cy="56.3" r="0.42" fill="#d0d0d0" opacity="1.0"/>
<circle cx="97.5" cy="77.1" r="0.42" fill="#d0d0d0" opacity="1.0"/>
<circle cx="94.0" cy="79.4" r="0.42" fill="#d0d0d0" opacity="1.0"/>
<circle cx="102.7" cy="72.8" r="0.42" fill="#d0d0d0" opacity="1.0"/>
<circle cx="98.2" cy="70.9" r="0.42" fill="#d0d0d0" opacity="1.0"/>
<circle cx="96.6" cy="66.9" r="0.42" fill="#d0d0d0" opacity="1.0"/>
<circle cx="87.9" cy="92.3" r="0.42" fill="#d0d0d0" opacity="1.0"/>
<circle cx="93.7" cy="73.4" r="0.42" fill="#d0d0d0" opacity="1.0"/>
<circle cx="77.0" cy="67.1" r="0.42" fill="#d0d0d0" opacity="1.0"/>
<circle cx="91.0" cy="84.4" r="0.42" fill="#d0d0d0" opacity="1.0"/>
<circle cx="93.5" cy="80.2" r="0.42" fill="#d0d0d0" opacity="1.0"/>
<circle cx="88.6" cy="88.5" r="0.42" fill="#d0d0d0" opacity="1.0"/>
<circle cx="84.9" cy="69.5" r="0.42" fill="#d0d0d0" opacity="1.0"/>
<circle cx="98.3" cy="75.6" r="0.42" fill="#d0d0d0" opacity="1.0"/>
<circle cx="86.1" cy="69.2" r="0.42" fill="#d0d0d0" opacity="1.0"/>
<circle cx="86.3" cy="81.2" r="0.42" fill="#d0d0d0" opacity="1.0"/>
<circle cx="92.7" cy="62.9" r="0.42" fill="#d0d0d0" opacity="1.0"/>
<circle cx="93.5" cy="76.8" r="0.42" fill="#d0d0d0" opacity="1.0"/>
<circle cx="78.5" cy="82.7" r="0.42" fill="#d0d0d0" opacity="1.0"/>
<circle cx="86.1" cy="71.6" r="0.42" fill="#d0d0d0" opacity="1.0"/>
<circle cx="97.4" cy="88.2" r="0.42" fill="#d0d0d0" opacity="1.0"/>
<circle cx="81.8" cy="79.4" r="0.42" fill="#d0d0d0" opacity="1.0"/>
<circle cx="79.8" cy="98.1" r="0.42" fill="#d0d0d0" opacity="1.0"/>
<circle cx="83.8" cy="86.9" r="0.42" fill="#d0d0d0" opacity="1.0"/>
<circle cx="82.2" cy="83.1" r="0.42" fill="#d0d0d0" opacity="1.0"/>
<circle cx="84.4" cy="80.0" r="0.42" fill="#d0d0d0" opacity="1.0"/>
<circle cx="88.0" cy="68.3" r="0.42" fill="#d0d0d0" opacity="1.0"/>
<circle cx="111.6" cy="75.8" r="0.42" fill="#d0d0d0" opacity="1.0"/>
<circle cx="71.7" cy="83.5" r="0.42" fill="#d0d0d0" opacity="1.0"/>
<circle cx="70.9" cy="86.5" r="0.42" fill="#d0d0d0" opacity="1.0"/>
<circle cx="82.9" cy="76.4" r="0.42" fill="#d0d0d0" opacity="1.0"/>
<circle cx="102.2" cy="76.2" r="0.42" fill="#d0d0d0" opacity="1.0"/>
<circle cx="74.4" cy="58.0" r="0.42" fill="#d0d0d0" opacity="1.0"/>
<circle cx="101.4" cy="82.4" r="0.42" fill="#d0d0d0" opacity="1.0"/>
<circle cx="80.4" cy="83.6" r="0.42" fill="#d0d0d0" opacity="1.0"/>
<circle cx="94.2" cy="81.5" r="0.42" fill="#d0d0d0" opacity="1.0"/>
<circle cx="65.3" cy="72.0" r="0.42" fill="#d0d0d0" opacity="1.0"/>
<circle cx="98.5" cy="82.3" r="0.42" fill="#d0d0d0" opacity="1.0"/>
<circle cx="98.3" cy="50.4" r="0.42" fill="#d0d0d0" opacity="1.0"/>
<circle cx="90.8" cy="79.9" r="0.42" fill="#d0d0d0" opacity="1.0"/>
<circle cx="85.5" cy="75.4" r="0.42" fill="#d0d0d0" opacity="1.0"/>
<circle cx="98.3" cy="70.6" r="0.42" fill="#d0d0d0" opacity="1.0"/>
<circle cx="101.0" cy="67.1" r="0.42" fill="#d0d0d0" opacity="1.0"/>
<circle cx="91.8" cy="69.7" r="0.42" fill="#d0d0d0" opacity="1.0"/>
<circle cx="90.7" cy="68.1" r="0.42" fill="#d0d0d0" opacity="1.0"/>
<circle cx="72.2" cy="85.9" r="0.42" fill="#d0d0d0" opacity="1.0"/>
<circle cx="92.2" cy="69.4" r="0.42" fill="#d0d0d0" opacity="1.0"/>
<circle cx="91.1" cy="84.9" r="0.42" fill="#d0d0d0" opacity="1.0"/>
<circle cx="78.7" cy="73.9" r="0.42" fill="#d0d0d0" opacity="1.0"/>
<circle cx="94.7" cy="80.3" r="0.42" fill="#d0d0d0" opacity="1.0"/>
<circle cx="85.5" cy="53.9" r="0.42" fill="#d0d0d0" opacity="1.0"/>
<circle cx="111.5" cy="68.0" r="0.42" fill="#cacaca" opacity="1.0"/>
<circle cx="104.1" cy="64.3" r="0.42" fill="#cacaca" opacity="1.0"/>
<circle cx="105.6" cy="63.4" r="0.42" fill="#cacaca" opacity="1.0"/>
<circle cx="97.9" cy="61.6" r="0.42" fill="#cacaca" opacity="1.0"/>
<circle cx="100.4" cy="62.3" r="0.42" fill="#cacaca" opacity="1.0"/>
<circle cx="97.0" cy="69.8" r="0.42" fill="#cacaca" opacity="1.0"/>
<circle cx="96.1" cy="70.0" r="0.42" fill="#cacaca" opacity="1.0"/>
<circle cx="97.9" cy="68.1" r="0.42" fill="#cacaca" opacity="1.0"/>
<circle cx="112.2" cy="67.2" r="0.42" fill="#cacaca" opacity="1.0"/>
<circle cx="99.6" cy="66.3" r="0.42" fill="#cacaca" opacity="1.0"/>
<circle cx="100.4" cy="67.0" r="0.42" fill="#cacaca" opacity="1.0"/>
<circle cx="101.2" cy="66.5" r="0.42" fill="#cacaca" opacity="1.0"/>
<circle cx="108.4" cy="70.6" r="0.42" fill="#cacaca" opacity="1.0"/>
<circle cx="109.4" cy="69.5" r="0.42" fill="#cacaca" opacity="1.0"/>
<circle cx="102.3" cy="65.9" r="0.42" fill="#cacaca" opacity="1.0"/>
<circle cx="102.4" cy="64.1" r="0.42" fill="#cacaca" opacity="1.0"/>
<circle cx="102.0" cy="65.9" r="0.42" fill="#cacaca" opacity="1.0"/>
<circle cx="98.2" cy="65.9" r="0.42" fill="#cacaca" opacity="1.0"/>
<circle cx="107.1" cy="65.0" r="0.42" fill="#cacaca" opacity="1.0"/>
<circle cx="109.9" cy="81.9" r="0.42" fill="#cacaca" opacity="1.0"/>
<circle cx="89.0" cy="66.8" r="0.42" fill="#cacaca" opacity="1.0"/>
<circle cx="107.1" cy="64.2" r="0.42" fill="#cacaca" opacity="1.0"/>
<circle cx="109.1" cy="68.2" r="0.42" fill="#cacaca" opacity="1.0"/>
<circle cx="104.1" cy="62.5" r="0.42" fill="#cacaca" opacity="1.0"/>
<circle cx="107.8" cy="63.1" r="0.42" fill="#cacaca" opacity="1.0"/>
<circle cx="105.3" cy="62.9" r="0.42" fill="#cacaca" opacity="1.0"/>
<circle cx="90.5" cy="65.8" r="0.42" fill="#cacaca" opacity="1.0"/>
<circle cx="105.2" cy="70.5" r="0.42" fill="#cacaca" opacity="1.0"/>
<circle cx="98.7" cy="65.8" r="0.42" fill="#cacaca" opacity="1.0"/>
<circle cx="107.7" cy="66.9" r="0.42" fill="#cacaca" opacity="1.0"/>
<circle cx="111.5" cy="77.9" r="0.42" fill="#cacaca" opacity="1.0"/>
<circle cx="109.1" cy="75.2" r="0.42" fill="#cacaca" opacity="1.0"/>
<circle cx="109.5" cy="70.9" r="0.42" fill="#cacaca" opacity="1.0"/>
<circle cx="100.3" cy="61.7" r="0.42" fill="#cacaca" opacity="1.0"/>
<circle cx="109.3" cy="60.5" r="0.42" fill="#cacaca" opacity="1.0"/>
<circle cx="93.1" cy="60.0" r="0.42" fill="#cacaca" opacity="1.0"/>
<circle cx="99.9" cy="61.6" r="0.42" fill="#cacaca" opacity="1.0"/>
<circle cx="105.4" cy="61.5" r="0.42" fill="#cacaca" opacity="1.0"/>
<circle cx="111.9" cy="65.5" r="0.42" fill="#cacaca" opacity="1.0"/>
<circle cx="97.5" cy="73.9" r="0.42" fill="#cacaca" opacity="1.0"/>
<circle cx="100.5" cy="67.3" r="0.42" fill="#cacaca" opacity="1.0"/>
<circle cx="103.9" cy="64.1" r="0.42" fill="#cacaca" opacity="1.0"/>
<circle cx="105.9" cy="61.8" r="0.42" fill="#cacaca" opacity="1.0"/>
<circle cx="96.4" cy="61.4" r="0.42" fill="#cacaca" opacity="1.0"/>
<circle cx="103.9" cy="66.3" r="0.42" fill="#cacaca" opacity="1.0"/>
<circle cx="107.3" cy="66.7" r="0.42" fill="#cacaca" opacity="1.0"/>
<circle cx="99.2" cy="61.7" r="0.42" fill="#cacaca" opacity="1.0"/>
<circle cx="91.3" cy="65.0" r="0.42" fill="#cacaca" opacity="1.0"/>
<circle cx="106.9" cy="69.2" r="0.42" fill="#cacaca" opacity="1.0"/>
<circle cx="103.3" cy="65.0" r="0.42" fill="#cacaca" opacity="1.0"/>
<circle cx="109.6" cy="66.1" r="0.42" fill="#cacaca" opacity="1.0"/>
<circle cx="108.4" cy="69.5" r="0.42" fill="#cacaca" opacity="1.0"/>
<circle cx="105.3" cy="73.8" r="0.42" fill="#cacaca" opacity="1.0"/>
<circle cx="100.6" cy="63.8" r="0.42" fill="#cacaca" opacity="1.0"/>
<circle cx="99.2" cy="61.2" r="0.42" fill="#cacaca" opacity="1.0"/>
<circle cx="104.1" cy="69.4" r="0.42" fill="#cacaca" opacity="1.0"/>
<circle cx="111.1" cy="70.8" r="0.42" fill="#cacaca" opacity="1.0"/>
<circle cx="111.2" cy="58.4" r="0.42" fill="#cacaca" opacity="1.0"/>
<circle cx="100.2" cy="68.7" r="0.42" fill="#cacaca" opacity="1.0"/>
<circle cx="112.6" cy="66.6" r="0.42" fill="#cacaca" opacity="1.0"/>
<circle cx="98.8" cy="63.9" r="0.42" fill="#cacaca" opacity="1.0"/>
<circle cx="100.0" cy="60.9" r="0.42" fill="#cacaca" opacity="1.0"/>
<circle cx="104.1" cy="79.0" r="0.42" fill="#cacaca" opacity="1.0"/>
<circle cx="111.1" cy="68.0" r="0.42" fill="#cacaca" opacity="1.0"/>
<circle cx="100.3" cy="68.5" r="0.42" fill="#cacaca" opacity="1.0"/>
<circle cx="111.6" cy="66.6" r="0.42" fill="#cacaca" opacity="1.0"/>
<circle cx="107.1" cy="64.8" r="0.42" fill="#cacaca" opacity="1.0"/>
<circle cx="106.6" cy="73.8" r="0.42" fill="#cacaca" opacity="1.0"/>
<circle cx="95.4" cy="65.6" r="0.42" fill="#cacaca" opacity="1.0"/>
<circle cx="105.4" cy="62.6" r="0.42" fill="#cacaca" opacity="1.0"/>
<circle cx="102.2" cy="70.7" r="0.42" fill="#cacaca" opacity="1.0"/>
<circle cx="103.8" cy="59.3" r="0.42" fill="#cacaca" opacity="1.0"/>
<circle cx="103.7" cy="59.4" r="0.42" fill="#cacaca" opacity="1.0"/>
<circle cx="104.4" cy="68.8" r="0.42" fill="#cacaca" opacity="1.0"/>
<circle cx="104.2" cy="67.7" r="0.42" fill="#cacaca" opacity="1.0"/>
<circle cx="98.9" cy="74.6" r="0.42" fill="#cacaca" opacity="1.0"/>
<circle cx="102.9" cy="61.4" r="0.42" fill="#cacaca" opacity="1.0"/>
<circle cx="97.9" cy="63.9" r="0.42" fill="#cacaca" opacity="1.0"/>
<circle cx="105.7" cy="58.9" r="0.42" fill="#cacaca" opacity="1.0"/>
<circle cx="103.2" cy="74.6" r="0.42" fill="#cacaca" opacity="1.0"/>
<circle cx="108.1" cy="65.1" r="0.42" fill="#cacaca" opacity="1.0"/>
<circle cx="104.8" cy="65.3" r="0.42" fill="#cacaca" opacity="1.0"/>
<circle cx="103.7" cy="70.4" r="0.42" fill="#cacaca" opacity="1.0"/>
<circle cx="103.9" cy="60.7" r="0.42" fill="#cacaca" opacity="1.0"/>
<circle cx="107.9" cy="62.3" r="0.42" fill="#cacaca" opacity="1.0"/>
<circle cx="104.9" cy="79.1" r="0.42" fill="#cacaca" opacity="1.0"/>
<circle cx="97.7" cy="59.3" r="0.42" fill="#cacaca" opacity="1.0"/>
<circle cx="92.7" cy="68.2" r="0.42" fill="#cacaca" opacity="1.0"/>
<circle cx="95.1" cy="69.7" r="0.42" fill="#cacaca" opacity="1.0"/>
<circle cx="99.3" cy="63.8" r="0.42" fill="#cacaca" opacity="1.0"/>
<circle cx="106.0" cy="74.1" r="0.42" fill="#cacaca" opacity="1.0"/>
<circle cx="104.9" cy="67.1" r="0.42" fill="#cacaca" opacity="1.0"/>
<circle cx="102.1" cy="68.7" r="0.42" fill="#cacaca" opacity="1.0"/>
<circle cx="105.7" cy="66.3" r="0.42" fill="#cacaca" opacity="1.0"/>
<circle cx="101.0" cy="58.0" r="0.42" fill="#cacaca" opacity="1.0"/>
<circle cx="111.3" cy="69.2" r="0.42" fill="#cacaca" opacity="1.0"/>
<circle cx="96.8" cy="74.4" r="0.42" fill="#cacaca" opacity="1.0"/>
<circle cx="107.2" cy="68.5" r="0.42" fill="#cacaca" opacity="1.0"/>
<circle cx="105.2" cy="67.0" r="0.42" fill="#cacaca" opacity="1.0"/>
<circle cx="100.7" cy="62.4" r="0.42" fill="#cacaca" opacity="1.0"/>
<circle cx="106.2" cy="67.6" r="0.42" fill="#cacaca" opacity="1.0"/>
<circle cx="104.2" cy="61.9" r="0.42" fill="#cacaca" opacity="1.0"/>
<circle cx="101.3" cy="71.7" r="0.42" fill="#cacaca" opacity="1.0"/>
<circle cx="108.6" cy="66.6" r="0.42" fill="#cacaca" opacity="1.0"/>
<circle cx="102.1" cy="75.3" r="0.42" fill="#cacaca" opacity="1.0"/>
<circle cx="100.4" cy="69.9" r="0.42" fill="#cacaca" opacity="1.0"/>
<circle cx="110.9" cy="64.4" r="0.42" fill="#cacaca" opacity="1.0"/>
<circle cx="109.0" cy="59.3" r="0.42" fill="#cacaca" opacity="1.0"/>
<circle cx="110.1" cy="67.2" r="0.42" fill="#cacaca" opacity="1.0"/>
<circle cx="94.5" cy="70.0" r="0.42" fill="#cacaca" opacity="1.0"/>
<circle cx="98.6" cy="73.7" r="0.42" fill="#cacaca" opacity="1.0"/>
<circle cx="99.9" cy="65.0" r="0.42" fill="#cacaca" opacity="1.0"/>
<circle cx="105.7" cy="64.0" r="0.42" fill="#cacaca" opacity="1.0"/>
<circle cx="105.6" cy="62.7" r="0.42" fill="#cacaca" opacity="1.0"/>
<circle cx="120.5" cy="88.0" r="0.45" fill="#dca898" opacity="1.0"/>
<circle cx="121.6" cy="88.1" r="0.45" fill="#dca898" opacity="1.0"/>
<circle cx="115.1" cy="88.4" r="0.45" fill="#dca898" opacity="1.0"/>
<circle cx="120.0" cy="92.3" r="0.45" fill="#dca898" opacity="1.0"/>
<circle cx="116.6" cy="94.2" r="0.45" fill="#dca898" opacity="1.0"/>
<circle cx="118.7" cy="90.7" r="0.45" fill="#dca898" opacity="1.0"/>
<circle cx="118.2" cy="83.5" r="0.45" fill="#dca898" opacity="1.0"/>
<circle cx="121.4" cy="91.6" r="0.45" fill="#dca898" opacity="1.0"/>
<circle cx="122.4" cy="91.4" r="0.45" fill="#dca898" opacity="1.0"/>
<circle cx="117.7" cy="81.4" r="0.45" fill="#dca898" opacity="1.0"/>
<circle cx="117.6" cy="85.3" r="0.45" fill="#dca898" opacity="1.0"/>
<circle cx="117.2" cy="90.3" r="0.45" fill="#dca898" opacity="1.0"/>
<circle cx="119.7" cy="86.9" r="0.45" fill="#dca898" opacity="1.0"/>
<circle cx="119.4" cy="87.4" r="0.45" fill="#dca898" opacity="1.0"/>
<circle cx="119.5" cy="91.0" r="0.45" fill="#dca898" opacity="1.0"/>
<circle cx="121.1" cy="85.3" r="0.45" fill="#dca898" opacity="1.0"/>
<circle cx="115.7" cy="93.7" r="0.45" fill="#dca898" opacity="1.0"/>
<circle cx="119.3" cy="92.4" r="0.45" fill="#dca898" opacity="1.0"/>
<circle cx="115.4" cy="86.7" r="0.45" fill="#dca898" opacity="1.0"/>
<circle cx="119.1" cy="82.2" r="0.45" fill="#dca898" opacity="1.0"/>
<circle cx="117.9" cy="90.9" r="0.45" fill="#dca898" opacity="1.0"/>
<circle cx="121.4" cy="94.4" r="0.45" fill="#dca898" opacity="1.0"/>
<circle cx="117.1" cy="82.4" r="0.45" fill="#dca898" opacity="1.0"/>
<circle cx="120.1" cy="91.8" r="0.45" fill="#dca898" opacity="1.0"/>
<circle cx="119.4" cy="82.8" r="0.45" fill="#dca898" opacity="1.0"/>
<circle cx="120.7" cy="91.2" r="0.45" fill="#dca898" opacity="1.0"/>
<circle cx="120.2" cy="86.1" r="0.45" fill="#dca898" opacity="1.0"/>
<circle cx="119.7" cy="91.2" r="0.45" fill="#dca898" opacity="1.0"/>
<circle cx="117.8" cy="80.6" r="0.45" fill="#dca898" opacity="1.0"/>
<circle cx="119.7" cy="89.9" r="0.45" fill="#dca898" opacity="1.0"/>
<circle cx="119.0" cy="91.6" r="0.45" fill="#dca898" opacity="1.0"/>
<circle cx="117.7" cy="87.7" r="0.45" fill="#dca898" opacity="1.0"/>
<circle cx="118.3" cy="90.3" r="0.45" fill="#dca898" opacity="1.0"/>
<circle cx="122.5" cy="87.0" r="0.45" fill="#dca898" opacity="1.0"/>
<circle cx="123.5" cy="94.1" r="0.45" fill="#dca898" opacity="1.0"/>
<circle cx="120.7" cy="90.3" r="0.45" fill="#dca898" opacity="1.0"/>
<circle cx="122.9" cy="87.3" r="0.45" fill="#dca898" opacity="1.0"/>
<circle cx="118.8" cy="83.7" r="0.45" fill="#dca898" opacity="1.0"/>
<line x1="40.20" y1="23.80" x2="154.40" y2="23.80" stroke="#111" stroke-width="1.1" />
<line x1="154.40" y1="23.80" x2="154.40" y2="115.60" stroke="#111" stroke-width="1.1" />
<line x1="40.20" y1="23.30" x2="40.20" y2="116.30" stroke="#111" stroke-width="1.6" />
<line x1="39.50" y1="115.60" x2="154.90" y2="115.60" stroke="#111" stroke-width="1.6" />
<line x1="38.00" y1="24.20" x2="40.20" y2="24.20" stroke="#111" stroke-width="1.1" />
<text x="34.80" y="27.20" font-size="6.1" text-anchor="end" fill="#1a1a1a" stroke="#1a1a1a" stroke-width="0.28">10<tspan dx="0.2" dy="-2.6" font-size="4.2">8</tspan></text>
<line x1="38.40" y1="36.96" x2="40.20" y2="36.96" stroke="#111" stroke-width="0.85" />
<line x1="38.40" y1="33.74" x2="40.20" y2="33.74" stroke="#111" stroke-width="0.85" />
<line x1="38.40" y1="31.46" x2="40.20" y2="31.46" stroke="#111" stroke-width="0.85" />
<line x1="38.40" y1="29.69" x2="40.20" y2="29.69" stroke="#111" stroke-width="0.85" />
<line x1="38.40" y1="28.25" x2="40.20" y2="28.25" stroke="#111" stroke-width="0.85" />
<line x1="38.40" y1="27.03" x2="40.20" y2="27.03" stroke="#111" stroke-width="0.85" />
<line x1="38.40" y1="25.97" x2="40.20" y2="25.97" stroke="#111" stroke-width="0.85" />
<line x1="38.40" y1="25.04" x2="40.20" y2="25.04" stroke="#111" stroke-width="0.85" />
<line x1="38.00" y1="42.45" x2="40.20" y2="42.45" stroke="#111" stroke-width="1.1" />
<text x="34.80" y="45.45" font-size="6.1" text-anchor="end" fill="#1a1a1a" stroke="#1a1a1a" stroke-width="0.28">10<tspan dx="0.2" dy="-2.6" font-size="4.2">7</tspan></text>
<line x1="38.40" y1="55.21" x2="40.20" y2="55.21" stroke="#111" stroke-width="0.85" />
<line x1="38.40" y1="51.99" x2="40.20" y2="51.99" stroke="#111" stroke-width="0.85" />
<line x1="38.40" y1="49.71" x2="40.20" y2="49.71" stroke="#111" stroke-width="0.85" />
<line x1="38.40" y1="47.94" x2="40.20" y2="47.94" stroke="#111" stroke-width="0.85" />
<line x1="38.40" y1="46.50" x2="40.20" y2="46.50" stroke="#111" stroke-width="0.85" />
<line x1="38.40" y1="45.28" x2="40.20" y2="45.28" stroke="#111" stroke-width="0.85" />
<line x1="38.40" y1="44.22" x2="40.20" y2="44.22" stroke="#111" stroke-width="0.85" />
<line x1="38.40" y1="43.29" x2="40.20" y2="43.29" stroke="#111" stroke-width="0.85" />
<line x1="38.00" y1="60.70" x2="40.20" y2="60.70" stroke="#111" stroke-width="1.1" />
<text x="34.80" y="63.70" font-size="6.1" text-anchor="end" fill="#1a1a1a" stroke="#1a1a1a" stroke-width="0.28">10<tspan dx="0.2" dy="-2.6" font-size="4.2">6</tspan></text>
<line x1="38.40" y1="73.46" x2="40.20" y2="73.46" stroke="#111" stroke-width="0.85" />
<line x1="38.40" y1="70.24" x2="40.20" y2="70.24" stroke="#111" stroke-width="0.85" />
<line x1="38.40" y1="67.96" x2="40.20" y2="67.96" stroke="#111" stroke-width="0.85" />
<line x1="38.40" y1="66.19" x2="40.20" y2="66.19" stroke="#111" stroke-width="0.85" />
<line x1="38.40" y1="64.75" x2="40.20" y2="64.75" stroke="#111" stroke-width="0.85" />
<line x1="38.40" y1="63.53" x2="40.20" y2="63.53" stroke="#111" stroke-width="0.85" />
<line x1="38.40" y1="62.47" x2="40.20" y2="62.47" stroke="#111" stroke-width="0.85" />
<line x1="38.40" y1="61.54" x2="40.20" y2="61.54" stroke="#111" stroke-width="0.85" />
<line x1="38.00" y1="78.95" x2="40.20" y2="78.95" stroke="#111" stroke-width="1.1" />
<text x="34.80" y="81.95" font-size="6.1" text-anchor="end" fill="#1a1a1a" stroke="#1a1a1a" stroke-width="0.28">10<tspan dx="0.2" dy="-2.6" font-size="4.2">5</tspan></text>
<line x1="38.40" y1="91.71" x2="40.20" y2="91.71" stroke="#111" stroke-width="0.85" />
<line x1="38.40" y1="88.49" x2="40.20" y2="88.49" stroke="#111" stroke-width="0.85" />
<line x1="38.40" y1="86.21" x2="40.20" y2="86.21" stroke="#111" stroke-width="0.85" />
<line x1="38.40" y1="84.44" x2="40.20" y2="84.44" stroke="#111" stroke-width="0.85" />
<line x1="38.40" y1="83.00" x2="40.20" y2="83.00" stroke="#111" stroke-width="0.85" />
<line x1="38.40" y1="81.78" x2="40.20" y2="81.78" stroke="#111" stroke-width="0.85" />
<line x1="38.40" y1="80.72" x2="40.20" y2="80.72" stroke="#111" stroke-width="0.85" />
<line x1="38.40" y1="79.79" x2="40.20" y2="79.79" stroke="#111" stroke-width="0.85" />
<line x1="38.00" y1="97.20" x2="40.20" y2="97.20" stroke="#111" stroke-width="1.1" />
<text x="34.80" y="100.20" font-size="6.1" text-anchor="end" fill="#1a1a1a" stroke="#1a1a1a" stroke-width="0.28">10<tspan dx="0.2" dy="-2.6" font-size="4.2">4</tspan></text>
<line x1="63.20" y1="115.60" x2="63.20" y2="118.00" stroke="#111" stroke-width="1.1" />
<text x="64.40" y="128.40" font-size="6.1" text-anchor="middle" fill="#1a1a1a" stroke="#1a1a1a" stroke-width="0.28">10<tspan dx="0.2" dy="-2.6" font-size="4.2">6</tspan></text>
<line x1="70.00" y1="115.60" x2="70.00" y2="117.40" stroke="#111" stroke-width="0.85" />
<line x1="73.98" y1="115.60" x2="73.98" y2="117.40" stroke="#111" stroke-width="0.85" />
<line x1="76.81" y1="115.60" x2="76.81" y2="117.40" stroke="#111" stroke-width="0.85" />
<line x1="79.00" y1="115.60" x2="79.00" y2="117.40" stroke="#111" stroke-width="0.85" />
<line x1="80.79" y1="115.60" x2="80.79" y2="117.40" stroke="#111" stroke-width="0.85" />
<line x1="82.30" y1="115.60" x2="82.30" y2="117.40" stroke="#111" stroke-width="0.85" />
<line x1="83.61" y1="115.60" x2="83.61" y2="117.40" stroke="#111" stroke-width="0.85" />
<line x1="84.77" y1="115.60" x2="84.77" y2="117.40" stroke="#111" stroke-width="0.85" />
<line x1="85.80" y1="115.60" x2="85.80" y2="118.00" stroke="#111" stroke-width="1.1" />
<text x="87.00" y="128.40" font-size="6.1" text-anchor="middle" fill="#1a1a1a" stroke="#1a1a1a" stroke-width="0.28">10<tspan dx="0.2" dy="-2.6" font-size="4.2">7</tspan></text>
<line x1="92.60" y1="115.60" x2="92.60" y2="117.40" stroke="#111" stroke-width="0.85" />
<line x1="96.58" y1="115.60" x2="96.58" y2="117.40" stroke="#111" stroke-width="0.85" />
<line x1="99.41" y1="115.60" x2="99.41" y2="117.40" stroke="#111" stroke-width="0.85" />
<line x1="101.60" y1="115.60" x2="101.60" y2="117.40" stroke="#111" stroke-width="0.85" />
<line x1="103.39" y1="115.60" x2="103.39" y2="117.40" stroke="#111" stroke-width="0.85" />
<line x1="104.90" y1="115.60" x2="104.90" y2="117.40" stroke="#111" stroke-width="0.85" />
<line x1="106.21" y1="115.60" x2="106.21" y2="117.40" stroke="#111" stroke-width="0.85" />
<line x1="107.37" y1="115.60" x2="107.37" y2="117.40" stroke="#111" stroke-width="0.85" />
<line x1="108.40" y1="115.60" x2="108.40" y2="118.00" stroke="#111" stroke-width="1.1" />
<text x="109.60" y="128.40" font-size="6.1" text-anchor="middle" fill="#1a1a1a" stroke="#1a1a1a" stroke-width="0.28">10<tspan dx="0.2" dy="-2.6" font-size="4.2">8</tspan></text>
<line x1="115.20" y1="115.60" x2="115.20" y2="117.40" stroke="#111" stroke-width="0.85" />
<line x1="119.18" y1="115.60" x2="119.18" y2="117.40" stroke="#111" stroke-width="0.85" />
<line x1="122.01" y1="115.60" x2="122.01" y2="117.40" stroke="#111" stroke-width="0.85" />
<line x1="124.20" y1="115.60" x2="124.20" y2="117.40" stroke="#111" stroke-width="0.85" />
<line x1="125.99" y1="115.60" x2="125.99" y2="117.40" stroke="#111" stroke-width="0.85" />
<line x1="127.50" y1="115.60" x2="127.50" y2="117.40" stroke="#111" stroke-width="0.85" />
<line x1="128.81" y1="115.60" x2="128.81" y2="117.40" stroke="#111" stroke-width="0.85" />
<line x1="129.97" y1="115.60" x2="129.97" y2="117.40" stroke="#111" stroke-width="0.85" />
<line x1="131.00" y1="115.60" x2="131.00" y2="118.00" stroke="#111" stroke-width="1.1" />
<text x="132.20" y="128.40" font-size="6.1" text-anchor="middle" fill="#1a1a1a" stroke="#1a1a1a" stroke-width="0.28">10<tspan dx="0.2" dy="-2.6" font-size="4.2">9</tspan></text>
<line x1="137.80" y1="115.60" x2="137.80" y2="117.40" stroke="#111" stroke-width="0.85" />
<line x1="141.78" y1="115.60" x2="141.78" y2="117.40" stroke="#111" stroke-width="0.85" />
<line x1="144.61" y1="115.60" x2="144.61" y2="117.40" stroke="#111" stroke-width="0.85" />
<line x1="146.80" y1="115.60" x2="146.80" y2="117.40" stroke="#111" stroke-width="0.85" />
<line x1="148.59" y1="115.60" x2="148.59" y2="117.40" stroke="#111" stroke-width="0.85" />
<line x1="150.10" y1="115.60" x2="150.10" y2="117.40" stroke="#111" stroke-width="0.85" />
<line x1="151.41" y1="115.60" x2="151.41" y2="117.40" stroke="#111" stroke-width="0.85" />
<line x1="152.57" y1="115.60" x2="152.57" y2="117.40" stroke="#111" stroke-width="0.85" />
<line x1="153.60" y1="115.60" x2="153.60" y2="118.00" stroke="#111" stroke-width="1.1" />
<text x="154.80" y="128.40" font-size="6.1" text-anchor="middle" fill="#1a1a1a" stroke="#1a1a1a" stroke-width="0.28">10<tspan dx="0.2" dy="-2.6" font-size="4.2">10</tspan></text>
<text x="10.50" y="69.50" font-size="9.4" text-anchor="middle" fill="#222" font-weight="bold" dominant-baseline="central" stroke="#222" stroke-width="0.25" textLength="17" lengthAdjust="spacingAndGlyphs" transform="rotate(-90 10.50 69.50)">CD62L</text>
<text x="97.10" y="139.87" font-size="8.8" text-anchor="middle" fill="#222" font-weight="bold" stroke="#222" stroke-width="0.25" textLength="13.8" lengthAdjust="spacingAndGlyphs" >CD16</text>
<defs><filter id="bl" x="-10%" y="-10%" width="120%" height="120%"><feGaussianBlur stdDeviation="0.45"/></filter><clipPath id="c1"><rect x="80" y="30" width="44.6" height="70"/></clipPath></defs>
<g filter="url(#bl)" clip-path="url(#c1)">
<ellipse cx="107.60" cy="52.00" rx="17.90" ry="7.50" fill="#e0402a"/>
<ellipse cx="117.4" cy="51.4" rx="8.00" ry="8.60" fill="#e0402a"/>
<path d="M112.80,57.00 L112.91,57.67 L113.04,58.35 L113.17,59.02 L113.31,59.70 L113.45,60.38 L113.59,61.05 L113.73,61.73 L113.88,62.40 L114.03,63.08 L114.18,63.75 L114.33,64.42 L114.48,65.10 L114.63,65.78 L114.79,66.45 L114.94,67.12 L115.10,67.80 L115.25,68.47 L115.41,69.15 L115.57,69.83 L115.73,70.50 L115.89,71.17 L116.05,71.85 L116.21,72.53 L116.37,73.20 L116.54,73.88 L116.70,74.55 L116.86,75.22 L117.03,75.90 L117.19,76.58 L117.36,77.25 L117.52,77.92 L117.69,78.60 L117.86,79.28 L118.03,79.95 L118.19,80.62 L118.36,81.30 L118.53,81.97 L118.70,82.65 L118.87,83.33 L119.18,83.33 L119.33,82.65 L119.47,81.97 L119.61,81.30 L119.75,80.62 L119.89,79.95 L120.03,79.28 L120.17,78.60 L120.31,77.92 L120.45,77.25 L120.59,76.58 L120.73,75.90 L120.87,75.22 L121.00,74.55 L121.14,73.88 L121.27,73.20 L121.41,72.53 L121.54,71.85 L121.68,71.17 L121.81,70.50 L121.94,69.83 L122.07,69.15 L122.21,68.47 L122.34,67.80 L122.46,67.12 L122.59,66.45 L122.72,65.78 L122.85,65.10 L122.97,64.42 L123.09,63.75 L123.22,63.08 L123.34,62.40 L123.46,61.73 L123.57,61.05 L123.69,60.38 L123.80,59.70 L123.91,59.02 L124.02,58.35 L124.11,57.67 L124.20,57.00 Z" fill="#e0402a"/>
<ellipse cx="108.12" cy="51.92" rx="16.96" ry="6.94" fill="#f0dc2e"/>
<ellipse cx="117.4" cy="51.4" rx="7.33" ry="7.89" fill="#f0dc2e"/>
<path d="M113.66,57.00 L113.77,57.67 L113.90,58.35 L114.03,59.02 L114.17,59.70 L114.31,60.38 L114.45,61.05 L114.59,61.73 L114.74,62.40 L114.89,63.08 L115.04,63.75 L115.19,64.42 L115.34,65.10 L115.49,65.78 L115.65,66.45 L115.80,67.12 L115.96,67.80 L116.12,68.47 L116.27,69.15 L116.43,69.83 L116.59,70.50 L116.75,71.17 L116.91,71.85 L117.07,72.53 L117.24,73.20 L117.40,73.88 L117.56,74.55 L117.73,75.22 L117.89,75.90 L118.06,76.58 L118.22,77.25 L118.39,77.92 L118.55,78.60 L118.72,79.28 L119.17,79.28 L119.31,78.60 L119.45,77.92 L119.59,77.25 L119.73,76.58 L119.87,75.90 L120.00,75.22 L120.14,74.55 L120.28,73.88 L120.41,73.20 L120.55,72.53 L120.68,71.85 L120.82,71.17 L120.95,70.50 L121.08,69.83 L121.21,69.15 L121.34,68.47 L121.47,67.80 L121.60,67.12 L121.73,66.45 L121.86,65.78 L121.98,65.10 L122.11,64.42 L122.23,63.75 L122.35,63.08 L122.47,62.40 L122.59,61.73 L122.71,61.05 L122.83,60.38 L122.94,59.70 L123.05,59.02 L123.15,58.35 L123.25,57.67 L123.34,57.00 Z" fill="#f0dc2e"/>
<ellipse cx="108.72" cy="51.84" rx="15.90" ry="6.30" fill="#58b448"/>
<ellipse cx="117.4" cy="51.4" rx="6.56" ry="7.08" fill="#58b448"/>
<path d="M114.64,57.00 L114.75,57.67 L114.88,58.35 L115.01,59.02 L115.15,59.70 L115.29,60.38 L115.43,61.05 L115.57,61.73 L115.72,62.40 L115.87,63.08 L116.02,63.75 L116.17,64.42 L116.32,65.10 L116.47,65.78 L116.63,66.45 L116.78,67.12 L116.94,67.80 L117.09,68.47 L117.25,69.15 L117.41,69.83 L117.57,70.50 L117.73,71.17 L117.89,71.85 L118.05,72.53 L118.21,73.20 L118.38,73.88 L118.54,74.55 L118.70,75.22 L119.03,75.22 L119.16,74.55 L119.30,73.88 L119.43,73.20 L119.57,72.53 L119.70,71.85 L119.84,71.17 L119.97,70.50 L120.10,69.83 L120.23,69.15 L120.37,68.47 L120.50,67.80 L120.62,67.12 L120.75,66.45 L120.88,65.78 L121.01,65.10 L121.13,64.42 L121.25,63.75 L121.38,63.08 L121.50,62.40 L121.62,61.73 L121.73,61.05 L121.85,60.38 L121.96,59.70 L122.07,59.02 L122.18,58.35 L122.27,57.67 L122.36,57.00 Z" fill="#58b448"/>
<ellipse cx="109.91" cy="51.67" rx="13.77" ry="5.03" fill="#2a9ea4"/>
<ellipse cx="117.4" cy="51.4" rx="5.03" ry="5.46" fill="#2a9ea4"/>
<ellipse cx="110.75" cy="51.55" rx="12.27" ry="4.12" fill="#3a4cbc"/>
<ellipse cx="117.4" cy="51.4" rx="3.95" ry="4.33" fill="#3a4cbc"/>
<ellipse cx="112.2" cy="51.5" rx="2.6" ry="4.0" fill="#9a3aa8" opacity="0.55"/>
</g>
<rect x="87.30" y="41.80" width="24.70" height="18.00" fill="none" stroke="#93294c" stroke-width="1.4" />
<rect x="112.00" y="41.80" width="13.30" height="18.00" fill="none" stroke="#34346e" stroke-width="1.35" />
<rect x="112.00" y="59.80" width="13.30" height="35.40" fill="none" stroke="#34346e" stroke-width="1.35" />
<line x1="112.00" y1="59.80" x2="125.30" y2="59.80" stroke="#2a2a60" stroke-width="1.5" />
<text x="42.20" y="38.90" font-size="5.0" fill="#b23a66" stroke="#b23a66" stroke-width="0.03" textLength="50.3" lengthAdjust="spacingAndGlyphs">CD16dim/CD62Lbright</text>
<text x="91.80" y="32.50" font-size="5.0" fill="#4a6088" stroke="#4a6088" stroke-width="0.03" textLength="59.2" lengthAdjust="spacingAndGlyphs">CD16bright/CD62Lbright</text>
<text x="89.80" y="103.10" font-size="5.0" fill="#4a4478" stroke="#4a4478" stroke-width="0.03" textLength="53.9" lengthAdjust="spacingAndGlyphs">CD16bright/CD62Ldim</text>
<defs><filter id="bl2" x="-20%" y="-20%" width="140%" height="140%"><feGaussianBlur stdDeviation="0.35"/></filter></defs>
<circle cx="267.7" cy="80.1" r="0.45" fill="#cccccc" opacity="1.0"/>
<circle cx="268.4" cy="71.8" r="0.45" fill="#cccccc" opacity="1.0"/>
<circle cx="259.6" cy="69.5" r="0.45" fill="#cccccc" opacity="1.0"/>
<circle cx="244.9" cy="77.4" r="0.45" fill="#cccccc" opacity="1.0"/>
<circle cx="257.1" cy="58.1" r="0.45" fill="#cccccc" opacity="1.0"/>
<circle cx="253.0" cy="60.6" r="0.45" fill="#cccccc" opacity="1.0"/>
<circle cx="272.3" cy="77.5" r="0.45" fill="#cccccc" opacity="1.0"/>
<circle cx="245.7" cy="76.3" r="0.45" fill="#cccccc" opacity="1.0"/>
<circle cx="272.7" cy="62.8" r="0.45" fill="#cccccc" opacity="1.0"/>
<circle cx="244.2" cy="61.3" r="0.45" fill="#cccccc" opacity="1.0"/>
<circle cx="254.4" cy="71.1" r="0.45" fill="#cccccc" opacity="1.0"/>
<circle cx="257.7" cy="49.7" r="0.45" fill="#cccccc" opacity="1.0"/>
<circle cx="264.8" cy="54.2" r="0.45" fill="#cccccc" opacity="1.0"/>
<circle cx="272.9" cy="57.1" r="0.45" fill="#cccccc" opacity="1.0"/>
<circle cx="253.7" cy="60.3" r="0.45" fill="#cccccc" opacity="1.0"/>
<circle cx="255.5" cy="79.7" r="0.45" fill="#cccccc" opacity="1.0"/>
<circle cx="272.2" cy="73.4" r="0.45" fill="#cccccc" opacity="1.0"/>
<circle cx="265.8" cy="54.1" r="0.45" fill="#cccccc" opacity="1.0"/>
<circle cx="255.8" cy="63.0" r="0.45" fill="#cccccc" opacity="1.0"/>
<circle cx="250.3" cy="72.6" r="0.45" fill="#cccccc" opacity="1.0"/>
<circle cx="253.1" cy="61.6" r="0.45" fill="#cccccc" opacity="1.0"/>
<circle cx="249.5" cy="49.5" r="0.45" fill="#cccccc" opacity="1.0"/>
<circle cx="269.1" cy="80.0" r="0.45" fill="#cccccc" opacity="1.0"/>
<circle cx="264.1" cy="59.2" r="0.45" fill="#cccccc" opacity="1.0"/>
<circle cx="229.5" cy="69.6" r="0.45" fill="#cccccc" opacity="1.0"/>
<circle cx="276.6" cy="70.7" r="0.45" fill="#cccccc" opacity="1.0"/>
<circle cx="273.1" cy="81.3" r="0.45" fill="#cccccc" opacity="1.0"/>
<circle cx="275.5" cy="64.0" r="0.45" fill="#cccccc" opacity="1.0"/>
<circle cx="274.6" cy="75.0" r="0.45" fill="#cccccc" opacity="1.0"/>
<circle cx="243.6" cy="64.4" r="0.45" fill="#cccccc" opacity="1.0"/>
<line x1="198.50" y1="24.30" x2="319.30" y2="24.30" stroke="#111" stroke-width="1.1" />
<line x1="319.30" y1="24.30" x2="319.30" y2="115.60" stroke="#111" stroke-width="1.1" />
<line x1="198.50" y1="23.80" x2="198.50" y2="116.30" stroke="#111" stroke-width="1.6" />
<line x1="197.80" y1="115.60" x2="319.80" y2="115.60" stroke="#111" stroke-width="1.6" />
<line x1="196.30" y1="24.50" x2="198.50" y2="24.50" stroke="#111" stroke-width="1.1" />
<text x="193.10" y="27.50" font-size="6.1" text-anchor="end" fill="#1a1a1a" stroke="#1a1a1a" stroke-width="0.28">10<tspan dx="0.2" dy="-2.6" font-size="4.2">8</tspan></text>
<line x1="196.70" y1="37.29" x2="198.50" y2="37.29" stroke="#111" stroke-width="0.85" />
<line x1="196.70" y1="34.07" x2="198.50" y2="34.07" stroke="#111" stroke-width="0.85" />
<line x1="196.70" y1="31.78" x2="198.50" y2="31.78" stroke="#111" stroke-width="0.85" />
<line x1="196.70" y1="30.01" x2="198.50" y2="30.01" stroke="#111" stroke-width="0.85" />
<line x1="196.70" y1="28.56" x2="198.50" y2="28.56" stroke="#111" stroke-width="0.85" />
<line x1="196.70" y1="27.33" x2="198.50" y2="27.33" stroke="#111" stroke-width="0.85" />
<line x1="196.70" y1="26.27" x2="198.50" y2="26.27" stroke="#111" stroke-width="0.85" />
<line x1="196.70" y1="25.34" x2="198.50" y2="25.34" stroke="#111" stroke-width="0.85" />
<line x1="196.30" y1="42.80" x2="198.50" y2="42.80" stroke="#111" stroke-width="1.1" />
<text x="193.10" y="45.80" font-size="6.1" text-anchor="end" fill="#1a1a1a" stroke="#1a1a1a" stroke-width="0.28">10<tspan dx="0.2" dy="-2.6" font-size="4.2">7</tspan></text>
<line x1="196.70" y1="55.59" x2="198.50" y2="55.59" stroke="#111" stroke-width="0.85" />
<line x1="196.70" y1="52.37" x2="198.50" y2="52.37" stroke="#111" stroke-width="0.85" />
<line x1="196.70" y1="50.08" x2="198.50" y2="50.08" stroke="#111" stroke-width="0.85" />
<line x1="196.70" y1="48.31" x2="198.50" y2="48.31" stroke="#111" stroke-width="0.85" />
<line x1="196.70" y1="46.86" x2="198.50" y2="46.86" stroke="#111" stroke-width="0.85" />
<line x1="196.70" y1="45.63" x2="198.50" y2="45.63" stroke="#111" stroke-width="0.85" />
<line x1="196.70" y1="44.57" x2="198.50" y2="44.57" stroke="#111" stroke-width="0.85" />
<line x1="196.70" y1="43.64" x2="198.50" y2="43.64" stroke="#111" stroke-width="0.85" />
<line x1="196.30" y1="61.10" x2="198.50" y2="61.10" stroke="#111" stroke-width="1.1" />
<text x="193.10" y="64.10" font-size="6.1" text-anchor="end" fill="#1a1a1a" stroke="#1a1a1a" stroke-width="0.28">10<tspan dx="0.2" dy="-2.6" font-size="4.2">6</tspan></text>
<line x1="196.70" y1="73.89" x2="198.50" y2="73.89" stroke="#111" stroke-width="0.85" />
<line x1="196.70" y1="70.67" x2="198.50" y2="70.67" stroke="#111" stroke-width="0.85" />
<line x1="196.70" y1="68.38" x2="198.50" y2="68.38" stroke="#111" stroke-width="0.85" />
<line x1="196.70" y1="66.61" x2="198.50" y2="66.61" stroke="#111" stroke-width="0.85" />
<line x1="196.70" y1="65.16" x2="198.50" y2="65.16" stroke="#111" stroke-width="0.85" />
<line x1="196.70" y1="63.93" x2="198.50" y2="63.93" stroke="#111" stroke-width="0.85" />
<line x1="196.70" y1="62.87" x2="198.50" y2="62.87" stroke="#111" stroke-width="0.85" />
<line x1="196.70" y1="61.94" x2="198.50" y2="61.94" stroke="#111" stroke-width="0.85" />
<line x1="196.30" y1="79.40" x2="198.50" y2="79.40" stroke="#111" stroke-width="1.1" />
<text x="193.10" y="82.40" font-size="6.1" text-anchor="end" fill="#1a1a1a" stroke="#1a1a1a" stroke-width="0.28">10<tspan dx="0.2" dy="-2.6" font-size="4.2">5</tspan></text>
<line x1="196.70" y1="92.19" x2="198.50" y2="92.19" stroke="#111" stroke-width="0.85" />
<line x1="196.70" y1="88.97" x2="198.50" y2="88.97" stroke="#111" stroke-width="0.85" />
<line x1="196.70" y1="86.68" x2="198.50" y2="86.68" stroke="#111" stroke-width="0.85" />
<line x1="196.70" y1="84.91" x2="198.50" y2="84.91" stroke="#111" stroke-width="0.85" />
<line x1="196.70" y1="83.46" x2="198.50" y2="83.46" stroke="#111" stroke-width="0.85" />
<line x1="196.70" y1="82.23" x2="198.50" y2="82.23" stroke="#111" stroke-width="0.85" />
<line x1="196.70" y1="81.17" x2="198.50" y2="81.17" stroke="#111" stroke-width="0.85" />
<line x1="196.70" y1="80.24" x2="198.50" y2="80.24" stroke="#111" stroke-width="0.85" />
<line x1="196.30" y1="97.70" x2="198.50" y2="97.70" stroke="#111" stroke-width="1.1" />
<text x="193.10" y="100.70" font-size="6.1" text-anchor="end" fill="#1a1a1a" stroke="#1a1a1a" stroke-width="0.28">10<tspan dx="0.2" dy="-2.6" font-size="4.2">4</tspan></text>
<line x1="223.00" y1="115.60" x2="223.00" y2="118.00" stroke="#111" stroke-width="1.1" />
<text x="224.20" y="128.00" font-size="6.1" text-anchor="middle" fill="#1a1a1a" stroke="#1a1a1a" stroke-width="0.28">10<tspan dx="0.2" dy="-2.6" font-size="4.2">6</tspan></text>
<line x1="230.19" y1="115.60" x2="230.19" y2="117.40" stroke="#111" stroke-width="0.85" />
<line x1="234.40" y1="115.60" x2="234.40" y2="117.40" stroke="#111" stroke-width="0.85" />
<line x1="237.39" y1="115.60" x2="237.39" y2="117.40" stroke="#111" stroke-width="0.85" />
<line x1="239.71" y1="115.60" x2="239.71" y2="117.40" stroke="#111" stroke-width="0.85" />
<line x1="241.60" y1="115.60" x2="241.60" y2="117.40" stroke="#111" stroke-width="0.85" />
<line x1="243.20" y1="115.60" x2="243.20" y2="117.40" stroke="#111" stroke-width="0.85" />
<line x1="244.58" y1="115.60" x2="244.58" y2="117.40" stroke="#111" stroke-width="0.85" />
<line x1="245.81" y1="115.60" x2="245.81" y2="117.40" stroke="#111" stroke-width="0.85" />
<line x1="246.90" y1="115.60" x2="246.90" y2="118.00" stroke="#111" stroke-width="1.1" />
<text x="248.10" y="128.00" font-size="6.1" text-anchor="middle" fill="#1a1a1a" stroke="#1a1a1a" stroke-width="0.28">10<tspan dx="0.2" dy="-2.6" font-size="4.2">7</tspan></text>
<line x1="254.09" y1="115.60" x2="254.09" y2="117.40" stroke="#111" stroke-width="0.85" />
<line x1="258.30" y1="115.60" x2="258.30" y2="117.40" stroke="#111" stroke-width="0.85" />
<line x1="261.29" y1="115.60" x2="261.29" y2="117.40" stroke="#111" stroke-width="0.85" />
<line x1="263.61" y1="115.60" x2="263.61" y2="117.40" stroke="#111" stroke-width="0.85" />
<line x1="265.50" y1="115.60" x2="265.50" y2="117.40" stroke="#111" stroke-width="0.85" />
<line x1="267.10" y1="115.60" x2="267.10" y2="117.40" stroke="#111" stroke-width="0.85" />
<line x1="268.48" y1="115.60" x2="268.48" y2="117.40" stroke="#111" stroke-width="0.85" />
<line x1="269.71" y1="115.60" x2="269.71" y2="117.40" stroke="#111" stroke-width="0.85" />
<line x1="270.80" y1="115.60" x2="270.80" y2="118.00" stroke="#111" stroke-width="1.1" />
<text x="272.00" y="128.00" font-size="6.1" text-anchor="middle" fill="#1a1a1a" stroke="#1a1a1a" stroke-width="0.28">10<tspan dx="0.2" dy="-2.6" font-size="4.2">8</tspan></text>
<line x1="277.99" y1="115.60" x2="277.99" y2="117.40" stroke="#111" stroke-width="0.85" />
<line x1="282.20" y1="115.60" x2="282.20" y2="117.40" stroke="#111" stroke-width="0.85" />
<line x1="285.19" y1="115.60" x2="285.19" y2="117.40" stroke="#111" stroke-width="0.85" />
<line x1="287.51" y1="115.60" x2="287.51" y2="117.40" stroke="#111" stroke-width="0.85" />
<line x1="289.40" y1="115.60" x2="289.40" y2="117.40" stroke="#111" stroke-width="0.85" />
<line x1="291.00" y1="115.60" x2="291.00" y2="117.40" stroke="#111" stroke-width="0.85" />
<line x1="292.38" y1="115.60" x2="292.38" y2="117.40" stroke="#111" stroke-width="0.85" />
<line x1="293.61" y1="115.60" x2="293.61" y2="117.40" stroke="#111" stroke-width="0.85" />
<line x1="294.70" y1="115.60" x2="294.70" y2="118.00" stroke="#111" stroke-width="1.1" />
<text x="295.90" y="128.00" font-size="6.1" text-anchor="middle" fill="#1a1a1a" stroke="#1a1a1a" stroke-width="0.28">10<tspan dx="0.2" dy="-2.6" font-size="4.2">9</tspan></text>
<line x1="301.89" y1="115.60" x2="301.89" y2="117.40" stroke="#111" stroke-width="0.85" />
<line x1="306.10" y1="115.60" x2="306.10" y2="117.40" stroke="#111" stroke-width="0.85" />
<line x1="309.09" y1="115.60" x2="309.09" y2="117.40" stroke="#111" stroke-width="0.85" />
<line x1="311.41" y1="115.60" x2="311.41" y2="117.40" stroke="#111" stroke-width="0.85" />
<line x1="313.30" y1="115.60" x2="313.30" y2="117.40" stroke="#111" stroke-width="0.85" />
<line x1="314.90" y1="115.60" x2="314.90" y2="117.40" stroke="#111" stroke-width="0.85" />
<line x1="316.28" y1="115.60" x2="316.28" y2="117.40" stroke="#111" stroke-width="0.85" />
<line x1="317.51" y1="115.60" x2="317.51" y2="117.40" stroke="#111" stroke-width="0.85" />
<line x1="318.60" y1="115.60" x2="318.60" y2="118.00" stroke="#111" stroke-width="1.1" />
<text x="319.80" y="128.00" font-size="6.1" text-anchor="middle" fill="#1a1a1a" stroke="#1a1a1a" stroke-width="0.28">10<tspan dx="0.2" dy="-2.6" font-size="4.2">10</tspan></text>
<text x="258.20" y="18.46" font-size="8.5" text-anchor="middle" fill="#111" stroke="#111" stroke-width="0.2" textLength="29.4" lengthAdjust="spacingAndGlyphs" >Banded</text>
<text x="174.60" y="69.80" font-size="9.4" text-anchor="middle" fill="#222" font-weight="bold" dominant-baseline="central" stroke="#222" stroke-width="0.25" textLength="17" lengthAdjust="spacingAndGlyphs" transform="rotate(-90 174.60 69.80)">CD62L</text>
<text x="259.00" y="140.17" font-size="8.8" text-anchor="middle" fill="#222" font-weight="bold" stroke="#222" stroke-width="0.25" textLength="13.8" lengthAdjust="spacingAndGlyphs" >CD16</text>
<g filter="url(#bl2)">
<ellipse cx="264" cy="53" rx="12" ry="6.4" fill="#f6e4d4"/>
<circle cx="252.5" cy="44.9" r="0.75" fill="#f0d8b0"/>
<circle cx="254.9" cy="44.6" r="0.75" fill="#f4c8a8"/>
<circle cx="261.2" cy="44.7" r="0.75" fill="#f0d8b0"/>
<circle cx="272.6" cy="45.0" r="0.75" fill="#f8e0c8"/>
<circle cx="258.0" cy="45.7" r="0.75" fill="#f4c8a8"/>
<circle cx="253.8" cy="47.4" r="0.75" fill="#f4c8a8"/>
<circle cx="262.5" cy="44.9" r="0.75" fill="#f4c8a8"/>
<circle cx="252.6" cy="48.9" r="0.75" fill="#f0d8b0"/>
<circle cx="265.4" cy="44.9" r="0.75" fill="#f4c8a8"/>
<circle cx="261.2" cy="45.4" r="0.75" fill="#f8e0c8"/>
<circle cx="254.8" cy="58.2" r="0.75" fill="#f4c8a8"/>
<circle cx="259.0" cy="59.9" r="0.75" fill="#f8e0c8"/>
<circle cx="254.4" cy="57.8" r="0.75" fill="#f0d8b0"/>
<circle cx="266.1" cy="45.3" r="0.75" fill="#f0d8b0"/>
<circle cx="255.0" cy="48.0" r="0.75" fill="#f0d8b0"/>
<circle cx="259.2" cy="46.3" r="0.75" fill="#f4c8a8"/>
<circle cx="270.6" cy="45.7" r="0.75" fill="#f0d8b0"/>
<circle cx="271.7" cy="45.9" r="0.75" fill="#f0d8b0"/>
<circle cx="260.3" cy="46.2" r="0.75" fill="#f8e0c8"/>
<circle cx="260.1" cy="59.7" r="0.75" fill="#f0e850"/>
<circle cx="256.0" cy="47.7" r="0.75" fill="#e8e040"/>
<circle cx="253.6" cy="49.2" r="0.75" fill="#f0e850"/>
<circle cx="253.0" cy="50.0" r="0.75" fill="#f4ec70"/>
<circle cx="253.1" cy="56.0" r="0.75" fill="#e8e040"/>
<circle cx="253.1" cy="50.0" r="0.75" fill="#e8e040"/>
<circle cx="272.4" cy="46.3" r="0.75" fill="#f0e850"/>
<circle cx="274.7" cy="47.0" r="0.75" fill="#e8e040"/>
<circle cx="265.3" cy="45.7" r="0.75" fill="#f4ec70"/>
<circle cx="264.3" cy="45.8" r="0.75" fill="#f0e850"/>
<circle cx="265.3" cy="45.7" r="0.75" fill="#f0e850"/>
<circle cx="255.3" cy="57.6" r="0.75" fill="#f4ec70"/>
<circle cx="272.1" cy="59.7" r="0.75" fill="#f4ec70"/>
<circle cx="253.1" cy="55.6" r="0.75" fill="#f4ec70"/>
<circle cx="257.2" cy="58.5" r="0.75" fill="#e8e040"/>
<circle cx="273.7" cy="46.8" r="0.75" fill="#f4ec70"/>
<circle cx="258.4" cy="58.8" r="0.75" fill="#f0e850"/>
<circle cx="261.8" cy="59.7" r="0.75" fill="#f0e850"/>
<circle cx="271.5" cy="59.5" r="0.75" fill="#f4ec70"/>
<circle cx="254.1" cy="50.0" r="0.75" fill="#f4ec70"/>
<circle cx="270.5" cy="59.5" r="0.75" fill="#e8e040"/>
<circle cx="254.3" cy="49.9" r="0.75" fill="#e8e040"/>
<circle cx="259.6" cy="47.1" r="0.75" fill="#f4ec70"/>
<circle cx="273.6" cy="58.8" r="0.75" fill="#f4ec70"/>
<circle cx="262.7" cy="46.5" r="0.75" fill="#e8e040"/>
<circle cx="273.5" cy="47.3" r="0.75" fill="#f4ec70"/>
<circle cx="254.1" cy="50.6" r="0.75" fill="#f4ec70"/>
<circle cx="269.9" cy="59.4" r="0.75" fill="#f0e850"/>
<circle cx="273.4" cy="47.4" r="0.75" fill="#f0e850"/>
<circle cx="253.4" cy="52.8" r="0.75" fill="#f4ec70"/>
<circle cx="262.5" cy="46.8" r="0.75" fill="#f4ec70"/>
<circle cx="256.3" cy="57.1" r="0.75" fill="#f4ec70"/>
<circle cx="254.3" cy="55.4" r="0.75" fill="#e8e040"/>
<circle cx="261.3" cy="59.0" r="0.75" fill="#e8e040"/>
<circle cx="270.6" cy="46.8" r="0.75" fill="#f4ec70"/>
<circle cx="266.1" cy="46.5" r="0.75" fill="#e8e040"/>
<circle cx="254.4" cy="55.4" r="0.75" fill="#e8e040"/>
<circle cx="263.7" cy="46.7" r="0.75" fill="#e8e040"/>
<circle cx="254.4" cy="55.2" r="0.75" fill="#f4ec70"/>
<circle cx="273.5" cy="58.4" r="0.75" fill="#f0e850"/>
<circle cx="254.6" cy="50.6" r="0.75" fill="#e8e040"/>
<circle cx="264.4" cy="59.3" r="0.75" fill="#f4ec70"/>
<circle cx="273.5" cy="47.7" r="0.75" fill="#f4ec70"/>
<circle cx="265.9" cy="59.3" r="0.75" fill="#f4ec70"/>
<circle cx="273.7" cy="47.8" r="0.75" fill="#f0e850"/>
<circle cx="267.8" cy="46.7" r="0.75" fill="#f4ec70"/>
<circle cx="264.3" cy="46.8" r="0.75" fill="#f0e850"/>
<circle cx="259.7" cy="47.8" r="0.75" fill="#f4ec70"/>
<circle cx="265.8" cy="46.8" r="0.75" fill="#f4ec70"/>
<circle cx="254.3" cy="51.9" r="0.75" fill="#e8e040"/>
<circle cx="255.2" cy="50.5" r="0.75" fill="#e8e040"/>
<circle cx="274.0" cy="48.1" r="0.75" fill="#e8e040"/>
<circle cx="255.7" cy="55.9" r="0.75" fill="#f4ec70"/>
<circle cx="266.4" cy="59.1" r="0.75" fill="#f0e850"/>
<circle cx="256.6" cy="56.6" r="0.75" fill="#f4ec70"/>
<circle cx="272.5" cy="47.7" r="0.75" fill="#f0e850"/>
<circle cx="256.6" cy="56.6" r="0.75" fill="#e8e040"/>
<circle cx="265.5" cy="59.1" r="0.75" fill="#f0e850"/>
<circle cx="258.1" cy="57.4" r="0.75" fill="#f4ec70"/>
<circle cx="258.2" cy="48.6" r="0.75" fill="#e8e040"/>
<circle cx="257.0" cy="56.7" r="0.75" fill="#e8e040"/>
<circle cx="262.1" cy="58.6" r="0.75" fill="#e8e040"/>
<circle cx="269.2" cy="47.1" r="0.75" fill="#f4ec70"/>
<circle cx="254.8" cy="51.6" r="0.75" fill="#f4ec70"/>
<circle cx="256.1" cy="56.0" r="0.75" fill="#e8e040"/>
<circle cx="260.4" cy="47.8" r="0.75" fill="#f0e850"/>
<circle cx="254.5" cy="52.6" r="0.75" fill="#f4ec70"/>
<circle cx="255.0" cy="51.3" r="0.75" fill="#e8e040"/>
<circle cx="260.4" cy="58.2" r="0.75" fill="#f4ec70"/>
<circle cx="272.3" cy="47.8" r="0.75" fill="#e8e040"/>
<circle cx="257.8" cy="57.0" r="0.75" fill="#f0e850"/>
<circle cx="266.1" cy="47.1" r="0.75" fill="#f0e850"/>
<circle cx="255.6" cy="55.1" r="0.75" fill="#e8e040"/>
<circle cx="261.2" cy="58.2" r="0.75" fill="#f0e850"/>
<circle cx="273.3" cy="57.7" r="0.75" fill="#f0e850"/>
<circle cx="255.4" cy="51.2" r="0.75" fill="#f0e850"/>
<circle cx="271.9" cy="47.9" r="0.75" fill="#f4ec70"/>
<circle cx="262.6" cy="47.5" r="0.75" fill="#f0e850"/>
<circle cx="272.8" cy="57.9" r="0.75" fill="#f0e850"/>
<circle cx="257.9" cy="49.1" r="0.75" fill="#f0e850"/>
<circle cx="268.6" cy="58.7" r="0.75" fill="#f4ec70"/>
<circle cx="255.3" cy="54.4" r="0.75" fill="#e8e040"/>
<circle cx="255.0" cy="52.2" r="0.75" fill="#e8e040"/>
<circle cx="263.0" cy="47.5" r="0.75" fill="#f0e850"/>
<circle cx="255.0" cy="53.4" r="0.75" fill="#f0e850"/>
<circle cx="260.7" cy="58.0" r="0.75" fill="#f0e850"/>
<circle cx="257.1" cy="49.7" r="0.75" fill="#f4ec70"/>
<circle cx="271.6" cy="58.1" r="0.75" fill="#e8e040"/>
<circle cx="255.0" cy="52.8" r="0.75" fill="#e8e040"/>
<circle cx="271.9" cy="58.1" r="0.75" fill="#f4ec70"/>
<circle cx="257.9" cy="49.2" r="0.75" fill="#e8e040"/>
<circle cx="272.8" cy="57.7" r="0.75" fill="#e8e040"/>
<circle cx="259.3" cy="57.4" r="0.75" fill="#f0e850"/>
<circle cx="267.1" cy="47.3" r="0.75" fill="#f4ec70"/>
<circle cx="255.5" cy="54.4" r="0.75" fill="#f0e850"/>
<circle cx="268.5" cy="58.5" r="0.75" fill="#e8e040"/>
<circle cx="273.5" cy="57.4" r="0.75" fill="#f0e850"/>
<circle cx="255.7" cy="54.6" r="0.75" fill="#e8e040"/>
<circle cx="258.2" cy="49.3" r="0.75" fill="#e8e040"/>
<circle cx="261.2" cy="48.1" r="0.75" fill="#f4ec70"/>
<circle cx="269.4" cy="47.7" r="0.75" fill="#f0e850"/>
<circle cx="267.4" cy="47.5" r="0.75" fill="#f0e850"/>
<circle cx="270.5" cy="58.1" r="0.75" fill="#f0e850"/>
<circle cx="264.0" cy="58.4" r="0.75" fill="#f4ec70"/>
<circle cx="255.6" cy="53.6" r="0.75" fill="#e8e040"/>
<circle cx="263.8" cy="58.3" r="0.75" fill="#e8e040"/>
<circle cx="267.2" cy="58.5" r="0.75" fill="#f0e850"/>
<circle cx="259.6" cy="57.3" r="0.75" fill="#f0e850"/>
<circle cx="255.7" cy="52.4" r="0.75" fill="#e8e040"/>
<circle cx="267.6" cy="47.6" r="0.75" fill="#f0e850"/>
<circle cx="271.4" cy="57.8" r="0.75" fill="#8cc040"/>
<circle cx="259.7" cy="48.8" r="0.75" fill="#a8c840"/>
<circle cx="267.5" cy="58.4" r="0.75" fill="#a8c840"/>
<circle cx="264.2" cy="58.3" r="0.75" fill="#c0d040"/>
<circle cx="262.3" cy="58.0" r="0.75" fill="#a8c840"/>
<circle cx="256.0" cy="54.1" r="0.75" fill="#a8c840"/>
<circle cx="257.7" cy="49.9" r="0.75" fill="#c0d040"/>
<circle cx="273.3" cy="57.2" r="0.75" fill="#a8c840"/>
<circle cx="264.5" cy="58.3" r="0.75" fill="#c0d040"/>
<circle cx="255.9" cy="52.2" r="0.75" fill="#a8c840"/>
<circle cx="261.8" cy="48.2" r="0.75" fill="#c0d040"/>
<circle cx="264.6" cy="47.8" r="0.75" fill="#a8c840"/>
<circle cx="272.2" cy="48.5" r="0.75" fill="#c0d040"/>
<circle cx="275.0" cy="56.2" r="0.75" fill="#a8c840"/>
<circle cx="267.3" cy="58.3" r="0.75" fill="#8cc040"/>
<circle cx="265.6" cy="47.7" r="0.75" fill="#c0d040"/>
<circle cx="257.9" cy="56.1" r="0.75" fill="#a8c840"/>
<circle cx="257.2" cy="50.6" r="0.75" fill="#8cc040"/>
<circle cx="260.7" cy="57.4" r="0.75" fill="#8cc040"/>
<circle cx="264.9" cy="47.8" r="0.75" fill="#c0d040"/>
<circle cx="272.1" cy="57.4" r="0.75" fill="#c0d040"/>
<circle cx="272.1" cy="48.6" r="0.75" fill="#a8c840"/>
<circle cx="259.1" cy="49.4" r="0.75" fill="#a8c840"/>
<circle cx="268.7" cy="58.1" r="0.75" fill="#8cc040"/>
<circle cx="259.9" cy="57.0" r="0.75" fill="#a8c840"/>
<circle cx="263.0" cy="48.1" r="0.75" fill="#8cc040"/>
<circle cx="256.2" cy="52.9" r="0.75" fill="#8cc040"/>
<circle cx="258.0" cy="56.0" r="0.75" fill="#c0d040"/>
<circle cx="260.3" cy="57.1" r="0.75" fill="#8cc040"/>
<circle cx="263.3" cy="57.9" r="0.75" fill="#a8c840"/>
<circle cx="265.7" cy="58.0" r="0.75" fill="#8cc040"/>
<circle cx="257.0" cy="54.8" r="0.75" fill="#8cc040"/>
<circle cx="271.1" cy="48.5" r="0.75" fill="#c0d040"/>
<circle cx="258.6" cy="56.2" r="0.75" fill="#c0d040"/>
<circle cx="265.0" cy="48.0" r="0.75" fill="#a8c840"/>
<circle cx="261.8" cy="57.5" r="0.75" fill="#c0d040"/>
<circle cx="271.5" cy="57.4" r="0.75" fill="#8cc040"/>
<circle cx="256.5" cy="53.0" r="0.75" fill="#c0d040"/>
<circle cx="268.8" cy="57.9" r="0.75" fill="#8cc040"/>
<circle cx="259.5" cy="56.6" r="0.75" fill="#c0d040"/>
<circle cx="274.8" cy="50.2" r="0.75" fill="#8cc040"/>
<circle cx="260.2" cy="56.8" r="0.75" fill="#8cc040"/>
<circle cx="259.7" cy="49.4" r="0.75" fill="#a8c840"/>
<circle cx="271.3" cy="48.7" r="0.75" fill="#8cc040"/>
<circle cx="261.1" cy="57.1" r="0.75" fill="#a8c840"/>
<circle cx="256.7" cy="53.2" r="0.75" fill="#a8c840"/>
<circle cx="273.9" cy="56.2" r="0.75" fill="#a8c840"/>
<circle cx="256.7" cy="52.6" r="0.75" fill="#a8c840"/>
<circle cx="257.3" cy="51.3" r="0.75" fill="#8cc040"/>
<circle cx="273.1" cy="56.6" r="0.75" fill="#8cc040"/>
<circle cx="272.4" cy="49.1" r="0.75" fill="#c0d040"/>
<circle cx="256.8" cy="52.4" r="0.75" fill="#a8c840"/>
<circle cx="264.9" cy="57.8" r="0.75" fill="#a8c840"/>
<circle cx="275.0" cy="55.3" r="0.75" fill="#c0d040"/>
<circle cx="260.1" cy="56.6" r="0.75" fill="#a8c840"/>
<circle cx="274.8" cy="55.4" r="0.75" fill="#c0d040"/>
<circle cx="258.4" cy="50.4" r="0.75" fill="#c0d040"/>
<circle cx="269.4" cy="57.6" r="0.75" fill="#8cc040"/>
<circle cx="269.2" cy="57.6" r="0.75" fill="#8cc040"/>
<circle cx="257.4" cy="51.5" r="0.75" fill="#c0d040"/>
<circle cx="275.1" cy="55.1" r="0.75" fill="#c0d040"/>
<circle cx="268.5" cy="48.3" r="0.75" fill="#a8c840"/>
<circle cx="257.4" cy="51.6" r="0.75" fill="#a8c840"/>
<circle cx="260.4" cy="49.4" r="0.75" fill="#a8c840"/>
<circle cx="270.0" cy="48.6" r="0.75" fill="#8cc040"/>
<circle cx="261.3" cy="49.0" r="0.75" fill="#a8c840"/>
<circle cx="264.0" cy="48.4" r="0.75" fill="#8cc040"/>
<circle cx="271.6" cy="57.0" r="0.75" fill="#8cc040"/>
<circle cx="259.9" cy="49.6" r="0.75" fill="#c0d040"/>
<circle cx="260.7" cy="56.7" r="0.75" fill="#c0d040"/>
<circle cx="269.9" cy="57.4" r="0.75" fill="#c0d040"/>
<circle cx="261.2" cy="49.1" r="0.75" fill="#a8c840"/>
<circle cx="272.1" cy="49.2" r="0.75" fill="#a8c840"/>
<circle cx="270.8" cy="48.8" r="0.75" fill="#a8c840"/>
<circle cx="258.4" cy="50.7" r="0.75" fill="#8cc040"/>
<circle cx="261.5" cy="49.1" r="0.75" fill="#c0d040"/>
<circle cx="264.4" cy="48.5" r="0.75" fill="#c0d040"/>
<circle cx="273.3" cy="49.9" r="0.75" fill="#c0d040"/>
<circle cx="270.3" cy="48.8" r="0.75" fill="#8cc040"/>
<circle cx="266.9" cy="57.6" r="0.75" fill="#c0d040"/>
<circle cx="257.5" cy="52.2" r="0.75" fill="#c0d040"/>
<circle cx="265.5" cy="48.4" r="0.75" fill="#c0d040"/>
<circle cx="271.2" cy="49.1" r="0.75" fill="#a8c840"/>
<circle cx="259.8" cy="56.1" r="0.75" fill="#8cc040"/>
<circle cx="272.5" cy="49.6" r="0.75" fill="#a8c840"/>
<circle cx="273.3" cy="50.0" r="0.75" fill="#a8c840"/>
<circle cx="265.7" cy="57.5" r="0.75" fill="#c0d040"/>
<circle cx="257.5" cy="52.8" r="0.75" fill="#8cc040"/>
<circle cx="275.2" cy="51.8" r="0.75" fill="#8cc040"/>
<circle cx="263.2" cy="48.8" r="0.75" fill="#c0d040"/>
<circle cx="274.1" cy="55.4" r="0.75" fill="#a8c840"/>
<circle cx="271.7" cy="56.6" r="0.75" fill="#c0d040"/>
<circle cx="265.7" cy="48.5" r="0.75" fill="#8cc040"/>
<circle cx="268.1" cy="57.4" r="0.75" fill="#a8c840"/>
<circle cx="260.7" cy="56.4" r="0.75" fill="#c0d040"/>
<circle cx="267.0" cy="57.4" r="0.75" fill="#a8c840"/>
<circle cx="272.3" cy="49.6" r="0.75" fill="#c0d040"/>
<circle cx="264.2" cy="48.7" r="0.75" fill="#a8c840"/>
<circle cx="261.8" cy="49.3" r="0.75" fill="#8cc040"/>
<circle cx="264.3" cy="48.7" r="0.75" fill="#8cc040"/>
<circle cx="260.2" cy="56.1" r="0.75" fill="#c0d040"/>
<circle cx="275.1" cy="52.1" r="0.75" fill="#a8c840"/>
<circle cx="258.0" cy="51.8" r="0.75" fill="#c0d040"/>
<circle cx="273.3" cy="50.2" r="0.75" fill="#c0d040"/>
<circle cx="263.0" cy="49.0" r="0.75" fill="#a8c840"/>
<circle cx="257.8" cy="53.3" r="0.75" fill="#8cc040"/>
<circle cx="269.5" cy="57.1" r="0.75" fill="#c0d040"/>
<circle cx="274.7" cy="51.5" r="0.75" fill="#8cc040"/>
<circle cx="271.0" cy="49.3" r="0.75" fill="#a8c840"/>
<circle cx="258.1" cy="51.8" r="0.75" fill="#c0d040"/>
<circle cx="261.6" cy="49.4" r="0.75" fill="#8cc040"/>
<circle cx="271.3" cy="49.4" r="0.75" fill="#a8c840"/>
<circle cx="258.2" cy="54.3" r="0.75" fill="#c0d040"/>
<circle cx="263.9" cy="48.9" r="0.75" fill="#c0d040"/>
<circle cx="274.5" cy="54.5" r="0.75" fill="#c0d040"/>
<circle cx="270.0" cy="56.9" r="0.75" fill="#c0d040"/>
<circle cx="262.6" cy="56.8" r="0.75" fill="#8cc040"/>
<circle cx="273.5" cy="50.5" r="0.75" fill="#c0d040"/>
<circle cx="263.3" cy="57.0" r="0.75" fill="#8cc040"/>
<circle cx="264.9" cy="57.2" r="0.75" fill="#c0d040"/>
<circle cx="266.1" cy="48.7" r="0.75" fill="#c0d040"/>
<circle cx="274.1" cy="54.9" r="0.75" fill="#8cc040"/>
<circle cx="263.6" cy="49.0" r="0.75" fill="#8cc040"/>
<circle cx="275.0" cy="53.0" r="0.75" fill="#a8c840"/>
<circle cx="258.8" cy="51.2" r="0.75" fill="#8cc040"/>
<circle cx="269.0" cy="48.9" r="0.75" fill="#8cc040"/>
<circle cx="260.5" cy="56.0" r="0.75" fill="#a8c840"/>
<circle cx="272.5" cy="56.0" r="0.75" fill="#a8c840"/>
<circle cx="258.1" cy="53.2" r="0.75" fill="#c0d040"/>
<circle cx="265.6" cy="57.2" r="0.75" fill="#c0d040"/>
<circle cx="266.4" cy="48.8" r="0.75" fill="#a8c840"/>
<circle cx="268.0" cy="48.9" r="0.75" fill="#8cc040"/>
<circle cx="261.1" cy="49.8" r="0.75" fill="#c0d040"/>
<circle cx="258.7" cy="54.5" r="0.75" fill="#c0d040"/>
<circle cx="268.0" cy="57.1" r="0.75" fill="#c0d040"/>
<circle cx="258.5" cy="51.9" r="0.75" fill="#c0d040"/>
<circle cx="260.5" cy="50.1" r="0.75" fill="#c0d040"/>
<circle cx="258.3" cy="52.3" r="0.75" fill="#a8c840"/>
<circle cx="274.6" cy="52.2" r="0.75" fill="#8cc040"/>
<circle cx="261.2" cy="49.8" r="0.75" fill="#a8c840"/>
<circle cx="263.2" cy="49.2" r="0.75" fill="#8cc040"/>
<circle cx="263.8" cy="49.1" r="0.75" fill="#8cc040"/>
<circle cx="268.2" cy="49.0" r="0.75" fill="#a8c840"/>
<circle cx="272.1" cy="50.0" r="0.75" fill="#c0d040"/>
<circle cx="274.7" cy="52.7" r="0.75" fill="#a8c840"/>
<circle cx="274.5" cy="52.2" r="0.75" fill="#a8c840"/>
<circle cx="258.4" cy="52.3" r="0.75" fill="#c0d040"/>
<circle cx="274.6" cy="53.6" r="0.75" fill="#a8c840"/>
<circle cx="258.7" cy="51.7" r="0.75" fill="#c0d040"/>
<circle cx="263.5" cy="56.8" r="0.75" fill="#a8c840"/>
<circle cx="269.8" cy="56.7" r="0.75" fill="#8cc040"/>
<circle cx="272.3" cy="55.8" r="0.75" fill="#8cc040"/>
<circle cx="258.8" cy="51.7" r="0.75" fill="#8cc040"/>
<circle cx="266.3" cy="57.0" r="0.75" fill="#8cc040"/>
<circle cx="271.8" cy="56.0" r="0.75" fill="#c0d040"/>
<circle cx="260.0" cy="50.6" r="0.75" fill="#a8c840"/>
<circle cx="258.7" cy="52.1" r="0.75" fill="#8cc040"/>
<circle cx="274.5" cy="53.2" r="0.75" fill="#8cc040"/>
<circle cx="261.7" cy="56.2" r="0.75" fill="#a8c840"/>
<circle cx="263.7" cy="56.7" r="0.75" fill="#c0d040"/>
<circle cx="264.0" cy="49.2" r="0.75" fill="#a8c840"/>
<circle cx="262.7" cy="56.5" r="0.75" fill="#c0d040"/>
<circle cx="271.7" cy="56.0" r="0.75" fill="#a8c840"/>
<circle cx="274.4" cy="53.4" r="0.75" fill="#c0d040"/>
<circle cx="274.0" cy="54.3" r="0.75" fill="#8cc040"/>
<circle cx="270.4" cy="56.5" r="0.75" fill="#c0d040"/>
<circle cx="260.9" cy="50.2" r="0.75" fill="#c0d040"/>
<circle cx="274.0" cy="51.7" r="0.75" fill="#8cc040"/>
<circle cx="259.2" cy="51.5" r="0.75" fill="#8cc040"/>
<circle cx="267.2" cy="56.9" r="0.75" fill="#8cc040"/>
<circle cx="259.3" cy="51.5" r="0.75" fill="#a8c840"/>
<circle cx="274.1" cy="52.0" r="0.75" fill="#a8c840"/>
<circle cx="259.0" cy="52.0" r="0.75" fill="#a8c840"/>
<circle cx="267.6" cy="56.9" r="0.75" fill="#c0d040"/>
<circle cx="267.6" cy="49.1" r="0.75" fill="#c0d040"/>
<circle cx="269.7" cy="49.5" r="0.75" fill="#a8c840"/>
<circle cx="261.1" cy="55.8" r="0.75" fill="#8cc040"/>
<circle cx="259.5" cy="54.7" r="0.75" fill="#8cc040"/>
<circle cx="260.2" cy="55.2" r="0.75" fill="#8cc040"/>
<circle cx="265.6" cy="56.8" r="0.75" fill="#a8c840"/>
<circle cx="274.2" cy="53.3" r="0.75" fill="#a8c840"/>
<circle cx="274.2" cy="53.3" r="0.75" fill="#a8c840"/>
<circle cx="270.6" cy="56.2" r="0.75" fill="#c0d040"/>
<circle cx="273.0" cy="51.0" r="0.75" fill="#8cc040"/>
<circle cx="269.5" cy="56.5" r="0.75" fill="#c0d040"/>
<circle cx="259.9" cy="51.0" r="0.75" fill="#8cc040"/>
<circle cx="262.3" cy="56.2" r="0.75" fill="#a8c840"/>
<circle cx="258.9" cy="53.5" r="0.75" fill="#8cc040"/>
<circle cx="265.2" cy="49.2" r="0.75" fill="#8cc040"/>
<circle cx="268.9" cy="56.6" r="0.75" fill="#a8c840"/>
<circle cx="268.2" cy="56.7" r="0.75" fill="#c0d040"/>
<circle cx="263.0" cy="56.4" r="0.75" fill="#c0d040"/>
<circle cx="273.3" cy="51.3" r="0.75" fill="#a8c840"/>
<circle cx="274.0" cy="53.7" r="0.75" fill="#8cc040"/>
<circle cx="273.6" cy="51.7" r="0.75" fill="#c0d040"/>
<circle cx="261.6" cy="55.9" r="0.75" fill="#a8c840"/>
<circle cx="272.2" cy="50.5" r="0.75" fill="#8cc040"/>
<circle cx="273.5" cy="54.4" r="0.75" fill="#a8c840"/>
<circle cx="259.6" cy="51.5" r="0.75" fill="#a8c840"/>
<circle cx="261.2" cy="50.4" r="0.75" fill="#a8c840"/>
<circle cx="269.6" cy="56.4" r="0.75" fill="#8cc040"/>
<circle cx="271.6" cy="55.7" r="0.75" fill="#60a840"/>
<circle cx="261.3" cy="55.7" r="0.75" fill="#60a840"/>
<circle cx="273.9" cy="52.6" r="0.75" fill="#60a840"/>
<circle cx="272.2" cy="55.4" r="0.75" fill="#3ca050"/>
<circle cx="259.6" cy="51.7" r="0.75" fill="#60a840"/>
<circle cx="263.8" cy="56.5" r="0.75" fill="#60a840"/>
<circle cx="271.8" cy="55.6" r="0.75" fill="#3ca050"/>
<circle cx="261.4" cy="50.3" r="0.75" fill="#50a848"/>
<circle cx="259.8" cy="54.5" r="0.75" fill="#3ca050"/>
<circle cx="272.9" cy="54.8" r="0.75" fill="#3ca050"/>
<circle cx="272.7" cy="51.1" r="0.75" fill="#50a848"/>
<circle cx="259.3" cy="52.3" r="0.75" fill="#50a848"/>
<circle cx="260.4" cy="55.0" r="0.75" fill="#3ca050"/>
<circle cx="271.6" cy="55.6" r="0.75" fill="#3ca050"/>
<circle cx="268.8" cy="56.4" r="0.75" fill="#50a848"/>
<circle cx="262.2" cy="55.9" r="0.75" fill="#50a848"/>
<circle cx="259.3" cy="52.7" r="0.75" fill="#3ca050"/>
<circle cx="272.8" cy="51.3" r="0.75" fill="#3ca050"/>
<circle cx="265.6" cy="56.5" r="0.75" fill="#60a840"/>
<circle cx="268.5" cy="56.4" r="0.75" fill="#60a840"/>
<circle cx="263.8" cy="56.3" r="0.75" fill="#60a840"/>
<circle cx="262.6" cy="56.0" r="0.75" fill="#50a848"/>
<circle cx="270.0" cy="49.9" r="0.75" fill="#50a848"/>
<circle cx="268.8" cy="49.6" r="0.75" fill="#3ca050"/>
<circle cx="271.8" cy="55.4" r="0.75" fill="#60a840"/>
<circle cx="273.2" cy="51.8" r="0.75" fill="#60a840"/>
<circle cx="260.0" cy="51.5" r="0.75" fill="#50a848"/>
<circle cx="260.3" cy="51.2" r="0.75" fill="#50a848"/>
<circle cx="263.8" cy="49.7" r="0.75" fill="#60a840"/>
<circle cx="268.2" cy="49.6" r="0.75" fill="#50a848"/>
<circle cx="260.5" cy="54.9" r="0.75" fill="#50a848"/>
<circle cx="259.5" cy="53.3" r="0.75" fill="#60a840"/>
<circle cx="268.1" cy="56.4" r="0.75" fill="#50a848"/>
<circle cx="259.7" cy="52.2" r="0.75" fill="#60a840"/>
<circle cx="261.5" cy="55.5" r="0.75" fill="#60a840"/>
<circle cx="259.6" cy="53.7" r="0.75" fill="#3ca050"/>
<circle cx="273.0" cy="54.3" r="0.75" fill="#3ca050"/>
<circle cx="272.5" cy="51.2" r="0.75" fill="#3ca050"/>
<circle cx="267.2" cy="49.5" r="0.75" fill="#50a848"/>
<circle cx="269.2" cy="49.8" r="0.75" fill="#50a848"/>
<circle cx="266.0" cy="49.5" r="0.75" fill="#60a840"/>
<circle cx="261.7" cy="50.5" r="0.75" fill="#3ca050"/>
<circle cx="272.9" cy="54.3" r="0.75" fill="#3ca050"/>
<circle cx="273.2" cy="53.9" r="0.75" fill="#50a848"/>
<circle cx="269.4" cy="56.1" r="0.75" fill="#50a848"/>
<circle cx="273.1" cy="51.9" r="0.75" fill="#60a840"/>
<circle cx="266.2" cy="56.4" r="0.75" fill="#3ca050"/>
<circle cx="267.2" cy="49.6" r="0.75" fill="#50a848"/>
<circle cx="263.7" cy="56.1" r="0.75" fill="#60a840"/>
<circle cx="273.3" cy="52.6" r="0.75" fill="#50a848"/>
<circle cx="259.7" cy="52.9" r="0.75" fill="#3ca050"/>
<circle cx="261.9" cy="50.5" r="0.75" fill="#50a848"/>
<circle cx="268.9" cy="49.8" r="0.75" fill="#50a848"/>
<circle cx="264.1" cy="56.2" r="0.75" fill="#60a840"/>
<circle cx="268.2" cy="56.3" r="0.75" fill="#50a848"/>
<circle cx="271.9" cy="55.1" r="0.75" fill="#50a848"/>
<circle cx="260.4" cy="54.5" r="0.75" fill="#60a840"/>
<circle cx="268.5" cy="49.8" r="0.75" fill="#60a840"/>
<circle cx="265.1" cy="56.3" r="0.75" fill="#50a848"/>
<circle cx="259.9" cy="52.3" r="0.75" fill="#3ca050"/>
<circle cx="273.2" cy="52.6" r="0.75" fill="#60a840"/>
<circle cx="265.6" cy="49.7" r="0.75" fill="#60a840"/>
<circle cx="261.2" cy="55.1" r="0.75" fill="#60a840"/>
<circle cx="270.3" cy="50.2" r="0.75" fill="#50a848"/>
<circle cx="260.9" cy="54.9" r="0.75" fill="#3ca050"/>
<circle cx="270.7" cy="55.6" r="0.75" fill="#50a848"/>
<circle cx="268.6" cy="49.8" r="0.75" fill="#50a848"/>
<circle cx="271.4" cy="50.7" r="0.75" fill="#50a848"/>
<circle cx="263.6" cy="56.0" r="0.75" fill="#50a848"/>
<circle cx="272.7" cy="54.2" r="0.75" fill="#60a840"/>
<circle cx="261.8" cy="50.6" r="0.75" fill="#60a840"/>
<circle cx="271.4" cy="50.7" r="0.75" fill="#60a840"/>
<circle cx="264.0" cy="56.1" r="0.75" fill="#3ca050"/>
<circle cx="271.7" cy="55.1" r="0.75" fill="#50a848"/>
<circle cx="273.1" cy="53.3" r="0.75" fill="#3ca050"/>
<circle cx="271.2" cy="55.3" r="0.75" fill="#60a840"/>
<circle cx="261.5" cy="55.1" r="0.75" fill="#60a840"/>
<circle cx="260.6" cy="54.4" r="0.75" fill="#50a848"/>
<circle cx="268.9" cy="50.0" r="0.75" fill="#3ca050"/>
<circle cx="269.4" cy="55.9" r="0.75" fill="#50a848"/>
<circle cx="261.5" cy="55.0" r="0.75" fill="#3ca050"/>
<circle cx="262.2" cy="55.4" r="0.75" fill="#3ca050"/>
<circle cx="264.2" cy="50.0" r="0.75" fill="#60a840"/>
<circle cx="266.6" cy="56.2" r="0.75" fill="#60a840"/>
<circle cx="264.2" cy="56.0" r="0.75" fill="#50a848"/>
<circle cx="272.4" cy="51.8" r="0.75" fill="#3ca050"/>
<circle cx="261.4" cy="54.9" r="0.75" fill="#3ca050"/>
<circle cx="272.9" cy="53.2" r="0.75" fill="#3ca050"/>
<circle cx="269.8" cy="50.3" r="0.75" fill="#50a848"/>
<circle cx="270.4" cy="50.5" r="0.75" fill="#50a848"/>
<circle cx="267.9" cy="56.1" r="0.75" fill="#3ca050"/>
<circle cx="272.7" cy="53.5" r="0.75" fill="#60a840"/>
<circle cx="265.6" cy="56.1" r="0.75" fill="#50a848"/>
<circle cx="264.9" cy="56.0" r="0.75" fill="#60a840"/>
<circle cx="268.0" cy="56.0" r="0.75" fill="#3ca050"/>
<circle cx="271.8" cy="51.4" r="0.75" fill="#3ca050"/>
<circle cx="263.4" cy="50.3" r="0.75" fill="#3ca050"/>
<circle cx="261.6" cy="54.9" r="0.75" fill="#50a848"/>
<circle cx="264.7" cy="55.9" r="0.75" fill="#60a840"/>
<circle cx="262.5" cy="55.3" r="0.75" fill="#60a840"/>
<circle cx="271.6" cy="54.7" r="0.75" fill="#50a848"/>
<circle cx="272.5" cy="52.4" r="0.75" fill="#60a840"/>
<circle cx="271.7" cy="54.6" r="0.75" fill="#60a840"/>
<circle cx="260.9" cy="51.7" r="0.75" fill="#50a848"/>
<circle cx="265.5" cy="50.0" r="0.75" fill="#3ca050"/>
<circle cx="261.9" cy="55.0" r="0.75" fill="#60a840"/>
<circle cx="272.6" cy="53.4" r="0.75" fill="#3ca050"/>
<circle cx="265.8" cy="50.0" r="0.75" fill="#3ca050"/>
<circle cx="267.4" cy="50.0" r="0.75" fill="#60a840"/>
<circle cx="265.2" cy="50.0" r="0.75" fill="#60a840"/>
<circle cx="264.2" cy="50.2" r="0.75" fill="#3ca050"/>
<circle cx="271.5" cy="51.3" r="0.75" fill="#50a848"/>
<circle cx="260.6" cy="53.4" r="0.75" fill="#3ca050"/>
<circle cx="261.4" cy="51.5" r="0.75" fill="#50a848"/>
<circle cx="271.4" cy="51.3" r="0.75" fill="#3ca050"/>
<circle cx="272.2" cy="53.8" r="0.75" fill="#3ca050"/>
<circle cx="265.6" cy="50.1" r="0.75" fill="#3ca050"/>
<circle cx="270.1" cy="55.3" r="0.75" fill="#3ca050"/>
<circle cx="264.3" cy="55.7" r="0.75" fill="#60a840"/>
<circle cx="271.1" cy="51.2" r="0.75" fill="#3ca050"/>
<circle cx="262.4" cy="55.1" r="0.75" fill="#3ca050"/>
<circle cx="271.9" cy="54.1" r="0.75" fill="#3ca050"/>
<circle cx="263.3" cy="50.6" r="0.75" fill="#50a848"/>
<circle cx="267.5" cy="55.9" r="0.75" fill="#50a848"/>
<circle cx="271.7" cy="54.3" r="0.75" fill="#3ca050"/>
<circle cx="268.4" cy="50.3" r="0.75" fill="#60a840"/>
<circle cx="266.6" cy="50.1" r="0.75" fill="#50a848"/>
<circle cx="271.5" cy="54.4" r="0.75" fill="#50a848"/>
<circle cx="270.1" cy="50.7" r="0.75" fill="#60a840"/>
<circle cx="271.3" cy="54.6" r="0.75" fill="#3ca050"/>
<circle cx="267.3" cy="55.9" r="0.75" fill="#60a840"/>
<circle cx="266.7" cy="55.9" r="0.75" fill="#3ca050"/>
<circle cx="264.2" cy="50.4" r="0.75" fill="#3ca050"/>
<circle cx="272.2" cy="52.6" r="0.75" fill="#50a848"/>
<circle cx="262.0" cy="54.8" r="0.75" fill="#60a840"/>
<circle cx="261.8" cy="51.4" r="0.75" fill="#50a848"/>
<circle cx="262.3" cy="51.1" r="0.75" fill="#60a840"/>
<circle cx="262.8" cy="55.1" r="0.75" fill="#3ca050"/>
<circle cx="262.7" cy="55.0" r="0.75" fill="#50a848"/>
<circle cx="271.3" cy="54.5" r="0.75" fill="#3ca050"/>
<circle cx="262.0" cy="51.4" r="0.75" fill="#3ca050"/>
<circle cx="270.6" cy="51.1" r="0.75" fill="#3ca050"/>
<circle cx="268.7" cy="55.5" r="0.75" fill="#50a848"/>
<circle cx="262.3" cy="51.2" r="0.75" fill="#60a840"/>
<circle cx="263.2" cy="55.2" r="0.75" fill="#60a840"/>
<circle cx="261.2" cy="53.7" r="0.75" fill="#60a840"/>
<circle cx="261.3" cy="53.8" r="0.75" fill="#3ca050"/>
<circle cx="262.7" cy="51.1" r="0.75" fill="#60a840"/>
<circle cx="263.1" cy="55.1" r="0.75" fill="#50a848"/>
<circle cx="271.2" cy="54.3" r="0.75" fill="#3ca050"/>
<circle cx="267.7" cy="55.6" r="0.75" fill="#3ca050"/>
<circle cx="267.5" cy="50.3" r="0.75" fill="#60a840"/>
<circle cx="271.9" cy="53.3" r="0.75" fill="#50a848"/>
<circle cx="265.3" cy="50.4" r="0.75" fill="#50a848"/>
<circle cx="261.5" cy="52.0" r="0.75" fill="#60a840"/>
<circle cx="261.2" cy="52.7" r="0.75" fill="#60a840"/>
<circle cx="268.7" cy="55.4" r="0.75" fill="#3ca050"/>
<circle cx="261.4" cy="53.7" r="0.75" fill="#50a848"/>
<circle cx="265.1" cy="50.5" r="0.75" fill="#3ca050"/>
<circle cx="263.0" cy="55.0" r="0.75" fill="#60a840"/>
<circle cx="264.2" cy="55.4" r="0.75" fill="#60a840"/>
<circle cx="267.7" cy="55.6" r="0.75" fill="#3ca050"/>
<circle cx="261.8" cy="54.2" r="0.75" fill="#3ca050"/>
<circle cx="269.0" cy="55.3" r="0.75" fill="#50a848"/>
<circle cx="264.1" cy="55.3" r="0.75" fill="#60a840"/>
<circle cx="267.2" cy="55.6" r="0.75" fill="#60a840"/>
<circle cx="265.4" cy="50.5" r="0.75" fill="#50a848"/>
<circle cx="271.2" cy="52.0" r="0.75" fill="#3ca050"/>
<circle cx="265.1" cy="50.5" r="0.75" fill="#50a848"/>
<circle cx="266.9" cy="55.6" r="0.75" fill="#3ca050"/>
<circle cx="270.3" cy="54.7" r="0.75" fill="#50a848"/>
<circle cx="266.7" cy="50.4" r="0.75" fill="#60a840"/>
<circle cx="263.5" cy="50.9" r="0.75" fill="#3ca050"/>
<circle cx="270.9" cy="54.3" r="0.75" fill="#50a848"/>
<circle cx="271.5" cy="52.6" r="0.75" fill="#50a848"/>
<circle cx="268.4" cy="55.4" r="0.75" fill="#50a848"/>
<circle cx="261.7" cy="52.2" r="0.75" fill="#3ca050"/>
<circle cx="271.4" cy="53.6" r="0.75" fill="#60a840"/>
<circle cx="262.5" cy="54.6" r="0.75" fill="#3ca050"/>
<circle cx="261.5" cy="52.6" r="0.75" fill="#3ca050"/>
<circle cx="266.0" cy="50.5" r="0.75" fill="#60a840"/>
<circle cx="262.6" cy="54.6" r="0.75" fill="#3ca050"/>
<circle cx="267.8" cy="50.6" r="0.75" fill="#3ca050"/>
<circle cx="263.8" cy="50.9" r="0.75" fill="#50a848"/>
<circle cx="265.3" cy="50.6" r="0.75" fill="#3ca050"/>
<circle cx="268.9" cy="50.8" r="0.75" fill="#60a840"/>
<circle cx="268.6" cy="55.3" r="0.75" fill="#60a840"/>
<circle cx="262.6" cy="51.4" r="0.75" fill="#50a848"/>
<circle cx="269.9" cy="51.2" r="0.75" fill="#50a848"/>
<circle cx="264.4" cy="50.7" r="0.75" fill="#3ca050"/>
<circle cx="269.6" cy="51.1" r="0.75" fill="#50a848"/>
<circle cx="264.1" cy="50.8" r="0.75" fill="#3ca050"/>
<circle cx="261.6" cy="53.3" r="0.75" fill="#3ca050"/>
<circle cx="264.5" cy="55.3" r="0.75" fill="#50a848"/>
<circle cx="268.2" cy="55.3" r="0.75" fill="#3ca050"/>
<circle cx="270.9" cy="54.0" r="0.75" fill="#50a848"/>
<circle cx="268.2" cy="55.3" r="0.75" fill="#50a848"/>
<circle cx="262.2" cy="51.9" r="0.75" fill="#3ca050"/>
<circle cx="270.6" cy="54.3" r="0.75" fill="#60a840"/>
<circle cx="269.7" cy="51.2" r="0.75" fill="#3ca050"/>
<circle cx="262.5" cy="51.6" r="0.75" fill="#50a848"/>
<circle cx="261.7" cy="53.3" r="0.75" fill="#3ca050"/>
<circle cx="268.4" cy="55.2" r="0.75" fill="#50a848"/>
<circle cx="263.4" cy="54.8" r="0.75" fill="#3ca050"/>
<circle cx="267.1" cy="50.7" r="0.75" fill="#60a840"/>
<circle cx="266.3" cy="50.7" r="0.75" fill="#50a848"/>
<circle cx="271.2" cy="53.2" r="0.75" fill="#60a840"/>
<circle cx="271.2" cy="53.0" r="0.75" fill="#50a848"/>
<circle cx="268.6" cy="50.9" r="0.75" fill="#3ca050"/>
<circle cx="267.9" cy="50.8" r="0.75" fill="#60a840"/>
<circle cx="261.9" cy="53.4" r="0.75" fill="#60a840"/>
<circle cx="263.8" cy="51.1" r="0.75" fill="#50a848"/>
<circle cx="269.3" cy="54.8" r="0.75" fill="#60a840"/>
<circle cx="269.5" cy="51.3" r="0.75" fill="#60a840"/>
<circle cx="270.5" cy="51.9" r="0.75" fill="#50a848"/>
<circle cx="268.3" cy="55.1" r="0.75" fill="#60a840"/>
<circle cx="268.9" cy="55.0" r="0.75" fill="#60a840"/>
<circle cx="262.4" cy="52.0" r="0.75" fill="#50a848"/>
<circle cx="271.0" cy="53.3" r="0.75" fill="#60a840"/>
<circle cx="266.3" cy="55.3" r="0.75" fill="#3ca050"/>
<circle cx="264.7" cy="50.9" r="0.75" fill="#3ca050"/>
<circle cx="263.3" cy="51.4" r="0.75" fill="#3ca050"/>
<circle cx="266.5" cy="55.3" r="0.75" fill="#60a840"/>
<circle cx="265.4" cy="50.8" r="0.75" fill="#60a840"/>
<circle cx="270.1" cy="51.6" r="0.75" fill="#50a848"/>
<circle cx="270.8" cy="53.7" r="0.75" fill="#50a848"/>
<circle cx="266.6" cy="50.8" r="0.75" fill="#50a848"/>
<circle cx="266.5" cy="55.2" r="0.75" fill="#3ca050"/>
<circle cx="268.6" cy="51.1" r="0.75" fill="#60a840"/>
<circle cx="270.3" cy="54.0" r="0.75" fill="#50a848"/>
<circle cx="270.7" cy="53.4" r="0.75" fill="#3ca050"/>
<circle cx="262.2" cy="53.0" r="0.75" fill="#3ca050"/>
<circle cx="267.2" cy="50.9" r="0.75" fill="#60a840"/>
<circle cx="265.5" cy="50.9" r="0.75" fill="#3ca050"/>
<circle cx="262.3" cy="53.3" r="0.75" fill="#50a848"/>
<circle cx="264.6" cy="54.9" r="0.75" fill="#3ca050"/>
<circle cx="267.7" cy="51.0" r="0.75" fill="#3ca050"/>
<circle cx="264.7" cy="51.1" r="0.75" fill="#60a840"/>
<circle cx="265.8" cy="50.9" r="0.75" fill="#60a840"/>
<circle cx="270.5" cy="52.4" r="0.75" fill="#50a848"/>
<circle cx="262.7" cy="52.1" r="0.75" fill="#50a848"/>
<circle cx="267.8" cy="51.0" r="0.75" fill="#3ca050"/>
<circle cx="262.4" cy="53.4" r="0.75" fill="#60a840"/>
<circle cx="267.7" cy="55.0" r="0.75" fill="#60a840"/>
<circle cx="265.8" cy="55.0" r="0.75" fill="#60a840"/>
<circle cx="270.6" cy="53.3" r="0.75" fill="#50a848"/>
<circle cx="263.6" cy="54.5" r="0.75" fill="#60a840"/>
<circle cx="267.3" cy="51.0" r="0.75" fill="#50a848"/>
<circle cx="267.9" cy="54.9" r="0.75" fill="#3ca050"/>
<circle cx="262.6" cy="52.6" r="0.75" fill="#3ca050"/>
<circle cx="265.8" cy="55.0" r="0.75" fill="#60a840"/>
<circle cx="268.7" cy="54.7" r="0.75" fill="#60a840"/>
<circle cx="268.1" cy="54.8" r="0.75" fill="#60a840"/>
<circle cx="264.0" cy="54.5" r="0.75" fill="#50a848"/>
<circle cx="268.2" cy="54.8" r="0.75" fill="#50a848"/>
<circle cx="270.3" cy="53.5" r="0.75" fill="#50a848"/>
<circle cx="270.3" cy="52.7" r="0.75" fill="#3ca050"/>
<circle cx="268.9" cy="54.5" r="0.75" fill="#3ca050"/>
<circle cx="267.7" cy="51.2" r="0.75" fill="#60a840"/>
<circle cx="263.0" cy="52.2" r="0.75" fill="#50a848"/>
<circle cx="263.1" cy="53.9" r="0.75" fill="#50a848"/>
<circle cx="264.7" cy="51.3" r="0.75" fill="#50a848"/>
<circle cx="270.3" cy="52.8" r="0.75" fill="#3ca050"/>
<circle cx="263.0" cy="52.2" r="0.75" fill="#3ca050"/>
<circle cx="269.5" cy="54.2" r="0.75" fill="#3ca050"/>
<circle cx="265.7" cy="54.8" r="0.75" fill="#50a848"/>
<circle cx="269.4" cy="51.8" r="0.75" fill="#3ca050"/>
<circle cx="263.0" cy="52.5" r="0.75" fill="#2e40b0"/>
<circle cx="270.1" cy="53.2" r="0.75" fill="#3a4ab8"/>
<circle cx="265.7" cy="51.2" r="0.75" fill="#4050c0"/>
<circle cx="269.3" cy="51.8" r="0.75" fill="#4050c0"/>
<circle cx="270.1" cy="52.7" r="0.75" fill="#2e40b0"/>
<circle cx="263.3" cy="52.2" r="0.75" fill="#2e40b0"/>
<circle cx="269.7" cy="52.2" r="0.75" fill="#2e40b0"/>
<circle cx="267.4" cy="51.3" r="0.75" fill="#4050c0"/>
<circle cx="263.0" cy="52.8" r="0.75" fill="#2e40b0"/>
<circle cx="263.1" cy="52.7" r="0.75" fill="#4050c0"/>
<circle cx="268.4" cy="54.5" r="0.75" fill="#2e40b0"/>
<circle cx="263.1" cy="53.1" r="0.75" fill="#3a4ab8"/>
<circle cx="269.9" cy="52.9" r="0.75" fill="#4050c0"/>
<circle cx="269.6" cy="53.8" r="0.75" fill="#4050c0"/>
<circle cx="264.2" cy="54.3" r="0.75" fill="#3a4ab8"/>
<circle cx="269.8" cy="52.7" r="0.75" fill="#4050c0"/>
<circle cx="263.8" cy="52.0" r="0.75" fill="#2e40b0"/>
<circle cx="269.7" cy="53.4" r="0.75" fill="#3a4ab8"/>
<circle cx="268.0" cy="54.4" r="0.75" fill="#3a4ab8"/>
<circle cx="269.6" cy="53.5" r="0.75" fill="#2e40b0"/>
<circle cx="263.7" cy="53.8" r="0.75" fill="#3a4ab8"/>
<circle cx="264.2" cy="51.9" r="0.75" fill="#4050c0"/>
<circle cx="269.6" cy="52.9" r="0.75" fill="#2e40b0"/>
<circle cx="264.3" cy="54.1" r="0.75" fill="#2e40b0"/>
<circle cx="265.9" cy="51.5" r="0.75" fill="#4050c0"/>
<circle cx="266.3" cy="54.5" r="0.75" fill="#4050c0"/>
<circle cx="269.2" cy="52.3" r="0.75" fill="#4050c0"/>
<circle cx="268.4" cy="54.2" r="0.75" fill="#2e40b0"/>
<circle cx="266.7" cy="54.5" r="0.75" fill="#2e40b0"/>
<circle cx="267.9" cy="51.7" r="0.75" fill="#4050c0"/>
<circle cx="269.1" cy="52.3" r="0.75" fill="#4050c0"/>
<circle cx="264.5" cy="51.9" r="0.75" fill="#2e40b0"/>
<circle cx="268.9" cy="52.2" r="0.75" fill="#2e40b0"/>
<circle cx="269.2" cy="52.5" r="0.75" fill="#4050c0"/>
<circle cx="269.0" cy="53.7" r="0.75" fill="#3a4ab8"/>
<circle cx="268.9" cy="53.7" r="0.75" fill="#2e40b0"/>
<circle cx="263.9" cy="53.5" r="0.75" fill="#4050c0"/>
<circle cx="264.1" cy="53.6" r="0.75" fill="#2e40b0"/>
<circle cx="263.9" cy="52.6" r="0.75" fill="#2e40b0"/>
<circle cx="267.5" cy="51.7" r="0.75" fill="#3a4ab8"/>
<circle cx="266.9" cy="51.7" r="0.75" fill="#4050c0"/>
<circle cx="268.5" cy="53.9" r="0.75" fill="#2e40b0"/>
<circle cx="265.7" cy="54.3" r="0.75" fill="#3a4ab8"/>
<circle cx="264.5" cy="53.9" r="0.75" fill="#4050c0"/>
<circle cx="264.3" cy="53.7" r="0.75" fill="#2e40b0"/>
<circle cx="264.0" cy="52.7" r="0.75" fill="#2e40b0"/>
<circle cx="267.5" cy="54.2" r="0.75" fill="#4050c0"/>
<circle cx="266.1" cy="51.7" r="0.75" fill="#2e40b0"/>
<circle cx="265.9" cy="54.3" r="0.75" fill="#4050c0"/>
<circle cx="264.3" cy="52.3" r="0.75" fill="#3a4ab8"/>
<circle cx="268.9" cy="53.5" r="0.75" fill="#2e40b0"/>
<circle cx="266.7" cy="54.3" r="0.75" fill="#3a4ab8"/>
<circle cx="265.6" cy="51.8" r="0.75" fill="#2e40b0"/>
<circle cx="268.9" cy="53.4" r="0.75" fill="#2e40b0"/>
<circle cx="267.4" cy="51.8" r="0.75" fill="#3a4ab8"/>
<circle cx="267.3" cy="51.8" r="0.75" fill="#4050c0"/>
<circle cx="265.4" cy="54.1" r="0.75" fill="#3a4ab8"/>
<circle cx="268.8" cy="53.3" r="0.75" fill="#2e40b0"/>
<circle cx="264.2" cy="53.4" r="0.75" fill="#4050c0"/>
<circle cx="268.4" cy="53.7" r="0.75" fill="#3a4ab8"/>
<circle cx="264.2" cy="52.8" r="0.75" fill="#4050c0"/>
<circle cx="264.7" cy="52.2" r="0.75" fill="#3a4ab8"/>
<circle cx="265.1" cy="52.0" r="0.75" fill="#2e40b0"/>
<circle cx="264.2" cy="52.9" r="0.75" fill="#4050c0"/>
<circle cx="265.5" cy="54.0" r="0.75" fill="#2e40b0"/>
<circle cx="268.0" cy="52.2" r="0.75" fill="#2e40b0"/>
<circle cx="267.1" cy="54.1" r="0.75" fill="#2e40b0"/>
<circle cx="266.5" cy="51.9" r="0.75" fill="#3a4ab8"/>
<circle cx="267.8" cy="53.8" r="0.75" fill="#3a4ab8"/>
<circle cx="264.7" cy="52.5" r="0.75" fill="#3a4ab8"/>
<circle cx="264.5" cy="52.8" r="0.75" fill="#4050c0"/>
<circle cx="266.6" cy="54.0" r="0.75" fill="#3a4ab8"/>
<circle cx="268.0" cy="53.7" r="0.75" fill="#4050c0"/>
<circle cx="268.5" cy="52.8" r="0.75" fill="#2e40b0"/>
<circle cx="265.8" cy="52.1" r="0.75" fill="#4050c0"/>
<circle cx="267.9" cy="52.3" r="0.75" fill="#3a4ab8"/>
<circle cx="266.9" cy="54.0" r="0.75" fill="#3a4ab8"/>
<circle cx="268.1" cy="52.5" r="0.75" fill="#4050c0"/>
<circle cx="265.3" cy="52.3" r="0.75" fill="#2e40b0"/>
<circle cx="268.0" cy="53.6" r="0.75" fill="#4050c0"/>
<circle cx="264.7" cy="53.0" r="0.75" fill="#3a4ab8"/>
<circle cx="267.7" cy="53.7" r="0.75" fill="#4050c0"/>
<circle cx="268.3" cy="52.9" r="0.75" fill="#2e40b0"/>
<circle cx="265.1" cy="52.5" r="0.75" fill="#2e40b0"/>
<circle cx="268.0" cy="53.4" r="0.75" fill="#2e40b0"/>
<circle cx="264.9" cy="53.1" r="0.75" fill="#3a4ab8"/>
<circle cx="265.2" cy="52.5" r="0.75" fill="#2e40b0"/>
<circle cx="265.7" cy="53.7" r="0.75" fill="#2e40b0"/>
<circle cx="265.0" cy="53.2" r="0.75" fill="#2e40b0"/>
<circle cx="267.8" cy="52.6" r="0.75" fill="#3a4ab8"/>
<circle cx="266.0" cy="52.3" r="0.75" fill="#3a4ab8"/>
<circle cx="267.9" cy="52.9" r="0.75" fill="#3a4ab8"/>
<circle cx="266.8" cy="52.3" r="0.75" fill="#3a4ab8"/>
<circle cx="267.7" cy="52.6" r="0.75" fill="#3a4ab8"/>
<circle cx="265.9" cy="53.6" r="0.75" fill="#4050c0"/>
<circle cx="266.3" cy="53.7" r="0.75" fill="#4050c0"/>
<circle cx="266.9" cy="52.4" r="0.75" fill="#4050c0"/>
<circle cx="265.5" cy="53.3" r="0.75" fill="#2e40b0"/>
<circle cx="265.3" cy="53.0" r="0.75" fill="#3a4ab8"/>
<circle cx="267.1" cy="53.5" r="0.75" fill="#3a4ab8"/>
<circle cx="266.2" cy="53.5" r="0.75" fill="#3a4ab8"/>
<circle cx="267.0" cy="53.5" r="0.75" fill="#4050c0"/>
<circle cx="265.6" cy="52.7" r="0.75" fill="#3a4ab8"/>
<circle cx="266.5" cy="53.5" r="0.75" fill="#2e40b0"/>
<circle cx="267.5" cy="52.9" r="0.75" fill="#4050c0"/>
<circle cx="266.7" cy="53.0" r="0.75" fill="#2e40b0"/>
</g>
<ellipse cx="270.6" cy="52.6" rx="3.9" ry="3.0" fill="#3444b4" opacity="0.85" filter="url(#bl2)"/>
<rect x="250.30" y="43.00" width="25.70" height="17.80" fill="none" stroke="#93294c" stroke-width="1.4" />
<rect x="276.00" y="43.00" width="14.20" height="17.80" fill="none" stroke="#34346e" stroke-width="1.35" />
<rect x="276.00" y="60.80" width="14.20" height="35.20" fill="none" stroke="#34346e" stroke-width="1.35" />
<line x1="276.00" y1="60.80" x2="290.20" y2="60.80" stroke="#2a2a60" stroke-width="1.5" />
<text x="255.40" y="38.20" font-size="5.0" fill="#4a6088" stroke="#4a6088" stroke-width="0.03" textLength="59.2" lengthAdjust="spacingAndGlyphs">CD16bright/CD62Lbright</text>
<text x="207.00" y="69.90" font-size="5.0" fill="#b23a66" stroke="#b23a66" stroke-width="0.03" textLength="53.0" lengthAdjust="spacingAndGlyphs">CD16dim/CD62Lbright</text>
<text x="256.00" y="104.20" font-size="5.0" fill="#4a4478" stroke="#4a4478" stroke-width="0.03" textLength="53.0" lengthAdjust="spacingAndGlyphs">CD16bright/CD62Ldim</text>
<line x1="39.50" y1="167.00" x2="153.50" y2="167.00" stroke="#111" stroke-width="1.1" />
<line x1="153.50" y1="167.00" x2="153.50" y2="254.60" stroke="#111" stroke-width="1.1" />
<line x1="39.50" y1="166.50" x2="39.50" y2="255.30" stroke="#111" stroke-width="1.6" />
<line x1="38.80" y1="254.60" x2="154.00" y2="254.60" stroke="#111" stroke-width="1.6" />
<line x1="37.30" y1="166.80" x2="39.50" y2="166.80" stroke="#111" stroke-width="1.1" />
<text x="34.10" y="169.80" font-size="6.1" text-anchor="end" fill="#1a1a1a" stroke="#1a1a1a" stroke-width="0.28">10<tspan dx="0.2" dy="-2.6" font-size="4.2">8</tspan></text>
<line x1="37.70" y1="178.96" x2="39.50" y2="178.96" stroke="#111" stroke-width="0.85" />
<line x1="37.70" y1="175.90" x2="39.50" y2="175.90" stroke="#111" stroke-width="0.85" />
<line x1="37.70" y1="173.72" x2="39.50" y2="173.72" stroke="#111" stroke-width="0.85" />
<line x1="37.70" y1="172.04" x2="39.50" y2="172.04" stroke="#111" stroke-width="0.85" />
<line x1="37.70" y1="170.66" x2="39.50" y2="170.66" stroke="#111" stroke-width="0.85" />
<line x1="37.70" y1="169.50" x2="39.50" y2="169.50" stroke="#111" stroke-width="0.85" />
<line x1="37.70" y1="168.49" x2="39.50" y2="168.49" stroke="#111" stroke-width="0.85" />
<line x1="37.70" y1="167.60" x2="39.50" y2="167.60" stroke="#111" stroke-width="0.85" />
<line x1="37.30" y1="184.20" x2="39.50" y2="184.20" stroke="#111" stroke-width="1.1" />
<text x="34.10" y="187.20" font-size="6.1" text-anchor="end" fill="#1a1a1a" stroke="#1a1a1a" stroke-width="0.28">10<tspan dx="0.2" dy="-2.6" font-size="4.2">7</tspan></text>
<line x1="37.70" y1="196.36" x2="39.50" y2="196.36" stroke="#111" stroke-width="0.85" />
<line x1="37.70" y1="193.30" x2="39.50" y2="193.30" stroke="#111" stroke-width="0.85" />
<line x1="37.70" y1="191.12" x2="39.50" y2="191.12" stroke="#111" stroke-width="0.85" />
<line x1="37.70" y1="189.44" x2="39.50" y2="189.44" stroke="#111" stroke-width="0.85" />
<line x1="37.70" y1="188.06" x2="39.50" y2="188.06" stroke="#111" stroke-width="0.85" />
<line x1="37.70" y1="186.90" x2="39.50" y2="186.90" stroke="#111" stroke-width="0.85" />
<line x1="37.70" y1="185.89" x2="39.50" y2="185.89" stroke="#111" stroke-width="0.85" />
<line x1="37.70" y1="185.00" x2="39.50" y2="185.00" stroke="#111" stroke-width="0.85" />
<line x1="37.30" y1="201.60" x2="39.50" y2="201.60" stroke="#111" stroke-width="1.1" />
<text x="34.10" y="204.60" font-size="6.1" text-anchor="end" fill="#1a1a1a" stroke="#1a1a1a" stroke-width="0.28">10<tspan dx="0.2" dy="-2.6" font-size="4.2">6</tspan></text>
<line x1="37.70" y1="213.76" x2="39.50" y2="213.76" stroke="#111" stroke-width="0.85" />
<line x1="37.70" y1="210.70" x2="39.50" y2="210.70" stroke="#111" stroke-width="0.85" />
<line x1="37.70" y1="208.52" x2="39.50" y2="208.52" stroke="#111" stroke-width="0.85" />
<line x1="37.70" y1="206.84" x2="39.50" y2="206.84" stroke="#111" stroke-width="0.85" />
<line x1="37.70" y1="205.46" x2="39.50" y2="205.46" stroke="#111" stroke-width="0.85" />
<line x1="37.70" y1="204.30" x2="39.50" y2="204.30" stroke="#111" stroke-width="0.85" />
<line x1="37.70" y1="203.29" x2="39.50" y2="203.29" stroke="#111" stroke-width="0.85" />
<line x1="37.70" y1="202.40" x2="39.50" y2="202.40" stroke="#111" stroke-width="0.85" />
<line x1="37.30" y1="219.00" x2="39.50" y2="219.00" stroke="#111" stroke-width="1.1" />
<text x="34.10" y="222.00" font-size="6.1" text-anchor="end" fill="#1a1a1a" stroke="#1a1a1a" stroke-width="0.28">10<tspan dx="0.2" dy="-2.6" font-size="4.2">5</tspan></text>
<line x1="37.70" y1="231.16" x2="39.50" y2="231.16" stroke="#111" stroke-width="0.85" />
<line x1="37.70" y1="228.10" x2="39.50" y2="228.10" stroke="#111" stroke-width="0.85" />
<line x1="37.70" y1="225.92" x2="39.50" y2="225.92" stroke="#111" stroke-width="0.85" />
<line x1="37.70" y1="224.24" x2="39.50" y2="224.24" stroke="#111" stroke-width="0.85" />
<line x1="37.70" y1="222.86" x2="39.50" y2="222.86" stroke="#111" stroke-width="0.85" />
<line x1="37.70" y1="221.70" x2="39.50" y2="221.70" stroke="#111" stroke-width="0.85" />
<line x1="37.70" y1="220.69" x2="39.50" y2="220.69" stroke="#111" stroke-width="0.85" />
<line x1="37.70" y1="219.80" x2="39.50" y2="219.80" stroke="#111" stroke-width="0.85" />
<line x1="37.30" y1="236.40" x2="39.50" y2="236.40" stroke="#111" stroke-width="1.1" />
<text x="34.10" y="239.40" font-size="6.1" text-anchor="end" fill="#1a1a1a" stroke="#1a1a1a" stroke-width="0.28">10<tspan dx="0.2" dy="-2.6" font-size="4.2">4</tspan></text>
<line x1="63.10" y1="254.60" x2="63.10" y2="257.00" stroke="#111" stroke-width="1.1" />
<text x="64.30" y="265.80" font-size="6.1" text-anchor="middle" fill="#1a1a1a" stroke="#1a1a1a" stroke-width="0.28">10<tspan dx="0.2" dy="-2.6" font-size="4.2">6</tspan></text>
<line x1="69.87" y1="254.60" x2="69.87" y2="256.40" stroke="#111" stroke-width="0.85" />
<line x1="73.84" y1="254.60" x2="73.84" y2="256.40" stroke="#111" stroke-width="0.85" />
<line x1="76.65" y1="254.60" x2="76.65" y2="256.40" stroke="#111" stroke-width="0.85" />
<line x1="78.83" y1="254.60" x2="78.83" y2="256.40" stroke="#111" stroke-width="0.85" />
<line x1="80.61" y1="254.60" x2="80.61" y2="256.40" stroke="#111" stroke-width="0.85" />
<line x1="82.11" y1="254.60" x2="82.11" y2="256.40" stroke="#111" stroke-width="0.85" />
<line x1="83.42" y1="254.60" x2="83.42" y2="256.40" stroke="#111" stroke-width="0.85" />
<line x1="84.57" y1="254.60" x2="84.57" y2="256.40" stroke="#111" stroke-width="0.85" />
<line x1="85.60" y1="254.60" x2="85.60" y2="257.00" stroke="#111" stroke-width="1.1" />
<text x="86.80" y="265.80" font-size="6.1" text-anchor="middle" fill="#1a1a1a" stroke="#1a1a1a" stroke-width="0.28">10<tspan dx="0.2" dy="-2.6" font-size="4.2">7</tspan></text>
<line x1="92.37" y1="254.60" x2="92.37" y2="256.40" stroke="#111" stroke-width="0.85" />
<line x1="96.34" y1="254.60" x2="96.34" y2="256.40" stroke="#111" stroke-width="0.85" />
<line x1="99.15" y1="254.60" x2="99.15" y2="256.40" stroke="#111" stroke-width="0.85" />
<line x1="101.33" y1="254.60" x2="101.33" y2="256.40" stroke="#111" stroke-width="0.85" />
<line x1="103.11" y1="254.60" x2="103.11" y2="256.40" stroke="#111" stroke-width="0.85" />
<line x1="104.61" y1="254.60" x2="104.61" y2="256.40" stroke="#111" stroke-width="0.85" />
<line x1="105.92" y1="254.60" x2="105.92" y2="256.40" stroke="#111" stroke-width="0.85" />
<line x1="107.07" y1="254.60" x2="107.07" y2="256.40" stroke="#111" stroke-width="0.85" />
<line x1="108.10" y1="254.60" x2="108.10" y2="257.00" stroke="#111" stroke-width="1.1" />
<text x="109.30" y="265.80" font-size="6.1" text-anchor="middle" fill="#1a1a1a" stroke="#1a1a1a" stroke-width="0.28">10<tspan dx="0.2" dy="-2.6" font-size="4.2">8</tspan></text>
<line x1="114.87" y1="254.60" x2="114.87" y2="256.40" stroke="#111" stroke-width="0.85" />
<line x1="118.84" y1="254.60" x2="118.84" y2="256.40" stroke="#111" stroke-width="0.85" />
<line x1="121.65" y1="254.60" x2="121.65" y2="256.40" stroke="#111" stroke-width="0.85" />
<line x1="123.83" y1="254.60" x2="123.83" y2="256.40" stroke="#111" stroke-width="0.85" />
<line x1="125.61" y1="254.60" x2="125.61" y2="256.40" stroke="#111" stroke-width="0.85" />
<line x1="127.11" y1="254.60" x2="127.11" y2="256.40" stroke="#111" stroke-width="0.85" />
<line x1="128.42" y1="254.60" x2="128.42" y2="256.40" stroke="#111" stroke-width="0.85" />
<line x1="129.57" y1="254.60" x2="129.57" y2="256.40" stroke="#111" stroke-width="0.85" />
<line x1="130.60" y1="254.60" x2="130.60" y2="257.00" stroke="#111" stroke-width="1.1" />
<text x="131.80" y="265.80" font-size="6.1" text-anchor="middle" fill="#1a1a1a" stroke="#1a1a1a" stroke-width="0.28">10<tspan dx="0.2" dy="-2.6" font-size="4.2">9</tspan></text>
<line x1="137.37" y1="254.60" x2="137.37" y2="256.40" stroke="#111" stroke-width="0.85" />
<line x1="141.34" y1="254.60" x2="141.34" y2="256.40" stroke="#111" stroke-width="0.85" />
<line x1="144.15" y1="254.60" x2="144.15" y2="256.40" stroke="#111" stroke-width="0.85" />
<line x1="146.33" y1="254.60" x2="146.33" y2="256.40" stroke="#111" stroke-width="0.85" />
<line x1="148.11" y1="254.60" x2="148.11" y2="256.40" stroke="#111" stroke-width="0.85" />
<line x1="149.61" y1="254.60" x2="149.61" y2="256.40" stroke="#111" stroke-width="0.85" />
<line x1="150.92" y1="254.60" x2="150.92" y2="256.40" stroke="#111" stroke-width="0.85" />
<line x1="152.07" y1="254.60" x2="152.07" y2="256.40" stroke="#111" stroke-width="0.85" />
<line x1="153.10" y1="254.60" x2="153.10" y2="257.00" stroke="#111" stroke-width="1.1" />
<text x="154.30" y="265.80" font-size="6.1" text-anchor="middle" fill="#1a1a1a" stroke="#1a1a1a" stroke-width="0.28">10<tspan dx="0.2" dy="-2.6" font-size="4.2">10</tspan></text>
<text x="97.00" y="161.76" font-size="8.5" text-anchor="middle" fill="#111" stroke="#111" stroke-width="0.2" textLength="42.2" lengthAdjust="spacingAndGlyphs" >Segmented</text>
<text x="10.50" y="211.00" font-size="9.4" text-anchor="middle" fill="#222" font-weight="bold" dominant-baseline="central" stroke="#222" stroke-width="0.25" textLength="17" lengthAdjust="spacingAndGlyphs" transform="rotate(-90 10.50 211.00)">CD62L</text>
<text x="96.90" y="277.77" font-size="8.8" text-anchor="middle" fill="#222" font-weight="bold" stroke="#222" stroke-width="0.25" textLength="13.8" lengthAdjust="spacingAndGlyphs" >CD16</text>
<g filter="url(#bl2)">
<circle cx="123.1" cy="199.4" r="0.75" fill="#f0ec98"/>
<circle cx="123.2" cy="188.2" r="0.75" fill="#f0ec98"/>
<circle cx="123.7" cy="189.9" r="0.75" fill="#f0ec98"/>
<circle cx="123.0" cy="188.0" r="0.75" fill="#f0ec98"/>
<circle cx="120.9" cy="185.3" r="0.75" fill="#e8e488"/>
<circle cx="122.8" cy="188.9" r="0.75" fill="#e8e488"/>
<circle cx="122.6" cy="188.5" r="0.75" fill="#e8e488"/>
<circle cx="122.4" cy="190.1" r="0.75" fill="#f0ec98"/>
<circle cx="114.7" cy="199.9" r="0.75" fill="#f0ec98"/>
<circle cx="122.2" cy="190.1" r="0.75" fill="#f0ec98"/>
<circle cx="118.8" cy="185.5" r="0.75" fill="#f0ec98"/>
<circle cx="113.2" cy="198.8" r="0.75" fill="#f0ec98"/>
<circle cx="114.3" cy="199.5" r="0.75" fill="#e8e488"/>
<circle cx="119.1" cy="199.1" r="0.75" fill="#f0ec98"/>
<circle cx="121.4" cy="196.3" r="0.75" fill="#e8e488"/>
<circle cx="113.0" cy="186.6" r="0.75" fill="#e8e488"/>
<circle cx="120.0" cy="198.1" r="0.75" fill="#f0ec98"/>
<circle cx="122.0" cy="190.8" r="0.75" fill="#f0ec98"/>
<circle cx="113.5" cy="198.5" r="0.75" fill="#e8e488"/>
<circle cx="116.0" cy="199.5" r="0.75" fill="#e8e488"/>
<circle cx="117.0" cy="199.5" r="0.75" fill="#f0ec98"/>
<circle cx="112.6" cy="187.5" r="0.75" fill="#f0ec98"/>
<circle cx="121.2" cy="188.9" r="0.75" fill="#e8e488"/>
<circle cx="113.7" cy="186.5" r="0.75" fill="#e8e488"/>
<circle cx="118.0" cy="185.8" r="0.75" fill="#f0ec98"/>
<circle cx="115.8" cy="185.6" r="0.75" fill="#f0ec98"/>
<circle cx="113.5" cy="186.8" r="0.75" fill="#e8e488"/>
<circle cx="118.2" cy="186.0" r="0.75" fill="#e8e488"/>
<circle cx="119.7" cy="198.0" r="0.75" fill="#f0ec98"/>
<circle cx="117.8" cy="185.9" r="0.75" fill="#f0ec98"/>
<circle cx="113.8" cy="186.6" r="0.75" fill="#d0cc58"/>
<circle cx="118.7" cy="198.7" r="0.75" fill="#d0cc58"/>
<circle cx="117.3" cy="185.8" r="0.75" fill="#d0cc58"/>
<circle cx="114.7" cy="186.2" r="0.75" fill="#c8c850"/>
<circle cx="120.5" cy="196.8" r="0.75" fill="#c8c850"/>
<circle cx="113.3" cy="197.9" r="0.75" fill="#d0cc58"/>
<circle cx="111.8" cy="189.6" r="0.75" fill="#c8c850"/>
<circle cx="119.4" cy="187.0" r="0.75" fill="#c8c850"/>
<circle cx="112.0" cy="195.7" r="0.75" fill="#c8c850"/>
<circle cx="121.5" cy="193.5" r="0.75" fill="#c8c850"/>
<circle cx="121.4" cy="194.2" r="0.75" fill="#d0cc58"/>
<circle cx="116.5" cy="186.0" r="0.75" fill="#dcd868"/>
<circle cx="120.7" cy="196.2" r="0.75" fill="#c8c850"/>
<circle cx="119.7" cy="197.4" r="0.75" fill="#d0cc58"/>
<circle cx="118.2" cy="186.5" r="0.75" fill="#c8c850"/>
<circle cx="114.6" cy="198.3" r="0.75" fill="#dcd868"/>
<circle cx="113.0" cy="196.9" r="0.75" fill="#d0cc58"/>
<circle cx="117.2" cy="186.3" r="0.75" fill="#dcd868"/>
<circle cx="120.9" cy="189.7" r="0.75" fill="#c8c850"/>
<circle cx="119.6" cy="187.6" r="0.75" fill="#d0cc58"/>
<circle cx="116.0" cy="186.3" r="0.75" fill="#d0cc58"/>
<circle cx="112.1" cy="189.9" r="0.75" fill="#dcd868"/>
<circle cx="118.1" cy="186.7" r="0.75" fill="#d0cc58"/>
<circle cx="119.3" cy="187.6" r="0.75" fill="#d0cc58"/>
<circle cx="118.2" cy="186.8" r="0.75" fill="#d0cc58"/>
<circle cx="113.4" cy="187.9" r="0.75" fill="#dcd868"/>
<circle cx="112.5" cy="189.3" r="0.75" fill="#dcd868"/>
<circle cx="115.7" cy="186.5" r="0.75" fill="#dcd868"/>
<circle cx="114.0" cy="197.6" r="0.75" fill="#d0cc58"/>
<circle cx="121.1" cy="193.7" r="0.75" fill="#dcd868"/>
<circle cx="121.1" cy="193.9" r="0.75" fill="#dcd868"/>
<circle cx="120.0" cy="196.5" r="0.75" fill="#c8c850"/>
<circle cx="120.3" cy="189.0" r="0.75" fill="#c8c850"/>
<circle cx="115.9" cy="186.6" r="0.75" fill="#c8c850"/>
<circle cx="121.0" cy="191.6" r="0.75" fill="#dcd868"/>
<circle cx="112.8" cy="196.0" r="0.75" fill="#c8c850"/>
<circle cx="120.2" cy="189.1" r="0.75" fill="#c8c850"/>
<circle cx="120.4" cy="195.7" r="0.75" fill="#d0cc58"/>
<circle cx="113.3" cy="196.8" r="0.75" fill="#d0cc58"/>
<circle cx="111.9" cy="192.9" r="0.75" fill="#d0cc58"/>
<circle cx="117.2" cy="186.7" r="0.75" fill="#d0cc58"/>
<circle cx="120.3" cy="195.7" r="0.75" fill="#d0cc58"/>
<circle cx="118.0" cy="198.0" r="0.75" fill="#c8c850"/>
<circle cx="112.0" cy="192.0" r="0.75" fill="#dcd868"/>
<circle cx="113.3" cy="196.6" r="0.75" fill="#c8c850"/>
<circle cx="119.4" cy="197.0" r="0.75" fill="#c8c850"/>
<circle cx="119.0" cy="197.4" r="0.75" fill="#d0cc58"/>
<circle cx="112.0" cy="193.3" r="0.75" fill="#d0cc58"/>
<circle cx="116.7" cy="186.7" r="0.75" fill="#c8c850"/>
<circle cx="117.8" cy="187.0" r="0.75" fill="#c8c850"/>
<circle cx="118.5" cy="187.4" r="0.75" fill="#c8c850"/>
<circle cx="112.1" cy="193.4" r="0.75" fill="#d0cc58"/>
<circle cx="112.4" cy="194.6" r="0.75" fill="#d0cc58"/>
<circle cx="112.2" cy="193.6" r="0.75" fill="#c8c850"/>
<circle cx="117.4" cy="187.0" r="0.75" fill="#dcd868"/>
<circle cx="120.8" cy="193.2" r="0.75" fill="#c8c850"/>
<circle cx="113.3" cy="196.3" r="0.75" fill="#dcd868"/>
<circle cx="116.8" cy="187.0" r="0.75" fill="#dcd868"/>
<circle cx="112.6" cy="190.1" r="0.75" fill="#d0cc58"/>
<circle cx="119.6" cy="196.4" r="0.75" fill="#d0cc58"/>
<circle cx="119.7" cy="188.9" r="0.75" fill="#c8c850"/>
<circle cx="117.7" cy="197.7" r="0.75" fill="#c8c850"/>
<circle cx="116.1" cy="197.9" r="0.75" fill="#d0cc58"/>
<circle cx="113.2" cy="195.8" r="0.75" fill="#d0cc58"/>
<circle cx="117.2" cy="187.2" r="0.75" fill="#d0cc58"/>
<circle cx="114.8" cy="197.4" r="0.75" fill="#c8c850"/>
<circle cx="119.9" cy="195.7" r="0.75" fill="#d0cc58"/>
<circle cx="115.4" cy="187.3" r="0.75" fill="#c8c850"/>
<circle cx="113.1" cy="195.5" r="0.75" fill="#d0cc58"/>
<circle cx="119.3" cy="188.6" r="0.75" fill="#c8c850"/>
<circle cx="120.5" cy="194.0" r="0.75" fill="#dcd868"/>
<circle cx="120.6" cy="191.9" r="0.75" fill="#c8c850"/>
<circle cx="112.8" cy="190.2" r="0.75" fill="#dcd868"/>
<circle cx="119.6" cy="189.0" r="0.75" fill="#dcd868"/>
<circle cx="120.0" cy="189.8" r="0.75" fill="#d0cc58"/>
<circle cx="119.2" cy="188.6" r="0.75" fill="#c8c850"/>
<circle cx="113.9" cy="196.5" r="0.75" fill="#c8c850"/>
<circle cx="112.6" cy="193.8" r="0.75" fill="#dcd868"/>
<circle cx="118.9" cy="196.6" r="0.75" fill="#c8c850"/>
<circle cx="120.5" cy="193.2" r="0.75" fill="#c8c850"/>
<circle cx="117.7" cy="187.6" r="0.75" fill="#d0cc58"/>
<circle cx="120.4" cy="191.9" r="0.75" fill="#c8c850"/>
<circle cx="120.2" cy="190.8" r="0.75" fill="#d0cc58"/>
<circle cx="120.3" cy="191.1" r="0.75" fill="#d0cc58"/>
<circle cx="119.6" cy="195.7" r="0.75" fill="#c8c850"/>
<circle cx="119.8" cy="195.3" r="0.75" fill="#d0cc58"/>
<circle cx="120.4" cy="191.7" r="0.75" fill="#dcd868"/>
<circle cx="113.9" cy="188.7" r="0.75" fill="#d0cc58"/>
<circle cx="119.4" cy="189.1" r="0.75" fill="#c8c850"/>
<circle cx="114.4" cy="188.3" r="0.75" fill="#d0cc58"/>
<circle cx="115.1" cy="197.2" r="0.75" fill="#d0cc58"/>
<circle cx="116.1" cy="187.5" r="0.75" fill="#dcd868"/>
<circle cx="114.7" cy="188.2" r="0.75" fill="#dcd868"/>
<circle cx="120.3" cy="193.1" r="0.75" fill="#dcd868"/>
<circle cx="116.5" cy="187.6" r="0.75" fill="#c8c850"/>
<circle cx="118.2" cy="188.1" r="0.75" fill="#d0cc58"/>
<circle cx="116.1" cy="197.3" r="0.75" fill="#d0cc58"/>
<circle cx="117.3" cy="187.8" r="0.75" fill="#9aa450"/>
<circle cx="118.2" cy="188.2" r="0.75" fill="#8a9848"/>
<circle cx="117.3" cy="187.8" r="0.75" fill="#8a9848"/>
<circle cx="113.9" cy="195.9" r="0.75" fill="#8a9848"/>
<circle cx="112.9" cy="191.2" r="0.75" fill="#7a8c44"/>
<circle cx="114.2" cy="196.3" r="0.75" fill="#9aa450"/>
<circle cx="115.1" cy="196.9" r="0.75" fill="#7a8c44"/>
<circle cx="119.1" cy="189.2" r="0.75" fill="#7a8c44"/>
<circle cx="118.1" cy="188.3" r="0.75" fill="#7a8c44"/>
<circle cx="113.2" cy="190.5" r="0.75" fill="#9aa450"/>
<circle cx="114.7" cy="196.6" r="0.75" fill="#9aa450"/>
<circle cx="117.4" cy="188.0" r="0.75" fill="#9aa450"/>
<circle cx="119.5" cy="190.0" r="0.75" fill="#7a8c44"/>
<circle cx="114.7" cy="196.5" r="0.75" fill="#7a8c44"/>
<circle cx="118.6" cy="196.3" r="0.75" fill="#9aa450"/>
<circle cx="116.8" cy="197.1" r="0.75" fill="#7a8c44"/>
<circle cx="114.7" cy="196.5" r="0.75" fill="#7a8c44"/>
<circle cx="117.1" cy="197.0" r="0.75" fill="#7a8c44"/>
<circle cx="117.0" cy="187.9" r="0.75" fill="#7a8c44"/>
<circle cx="113.4" cy="190.3" r="0.75" fill="#7a8c44"/>
<circle cx="113.0" cy="193.1" r="0.75" fill="#9aa450"/>
<circle cx="118.4" cy="196.3" r="0.75" fill="#7a8c44"/>
<circle cx="117.1" cy="188.0" r="0.75" fill="#8a9848"/>
<circle cx="119.9" cy="191.3" r="0.75" fill="#8a9848"/>
<circle cx="113.0" cy="192.7" r="0.75" fill="#7a8c44"/>
<circle cx="113.3" cy="190.8" r="0.75" fill="#8a9848"/>
<circle cx="118.1" cy="188.5" r="0.75" fill="#7a8c44"/>
<circle cx="115.2" cy="188.3" r="0.75" fill="#7a8c44"/>
<circle cx="113.1" cy="191.9" r="0.75" fill="#7a8c44"/>
<circle cx="119.9" cy="191.6" r="0.75" fill="#9aa450"/>
<circle cx="114.0" cy="189.5" r="0.75" fill="#8a9848"/>
<circle cx="115.5" cy="196.7" r="0.75" fill="#9aa450"/>
<circle cx="118.6" cy="189.0" r="0.75" fill="#7a8c44"/>
<circle cx="117.7" cy="196.6" r="0.75" fill="#8a9848"/>
<circle cx="113.3" cy="191.0" r="0.75" fill="#9aa450"/>
<circle cx="114.5" cy="189.0" r="0.75" fill="#7a8c44"/>
<circle cx="113.6" cy="190.2" r="0.75" fill="#7a8c44"/>
<circle cx="119.3" cy="194.9" r="0.75" fill="#9aa450"/>
<circle cx="113.2" cy="192.6" r="0.75" fill="#9aa450"/>
<circle cx="118.8" cy="195.6" r="0.75" fill="#7a8c44"/>
<circle cx="119.8" cy="192.7" r="0.75" fill="#7a8c44"/>
<circle cx="115.8" cy="196.7" r="0.75" fill="#7a8c44"/>
<circle cx="113.5" cy="190.6" r="0.75" fill="#9aa450"/>
<circle cx="114.8" cy="188.9" r="0.75" fill="#7a8c44"/>
<circle cx="118.6" cy="189.3" r="0.75" fill="#9aa450"/>
<circle cx="115.2" cy="196.3" r="0.75" fill="#9aa450"/>
<circle cx="115.0" cy="196.2" r="0.75" fill="#9aa450"/>
<circle cx="115.5" cy="188.6" r="0.75" fill="#8a9848"/>
<circle cx="119.4" cy="194.2" r="0.75" fill="#9aa450"/>
<circle cx="116.3" cy="188.5" r="0.75" fill="#8a9848"/>
<circle cx="118.8" cy="189.9" r="0.75" fill="#7a8c44"/>
<circle cx="113.7" cy="190.9" r="0.75" fill="#8a9848"/>
<circle cx="116.5" cy="188.5" r="0.75" fill="#8a9848"/>
<circle cx="117.1" cy="196.4" r="0.75" fill="#7a8c44"/>
<circle cx="117.7" cy="188.9" r="0.75" fill="#7a8c44"/>
<circle cx="113.5" cy="193.2" r="0.75" fill="#8a9848"/>
<circle cx="117.9" cy="196.0" r="0.75" fill="#8a9848"/>
<circle cx="113.9" cy="190.4" r="0.75" fill="#7a8c44"/>
<circle cx="116.8" cy="196.4" r="0.75" fill="#9aa450"/>
<circle cx="113.5" cy="191.9" r="0.75" fill="#7a8c44"/>
<circle cx="119.0" cy="190.2" r="0.75" fill="#9aa450"/>
<circle cx="117.6" cy="196.1" r="0.75" fill="#9aa450"/>
<circle cx="113.7" cy="190.9" r="0.75" fill="#9aa450"/>
<circle cx="115.2" cy="189.0" r="0.75" fill="#9aa450"/>
<circle cx="118.4" cy="189.5" r="0.75" fill="#7a8c44"/>
<circle cx="118.7" cy="195.1" r="0.75" fill="#7a8c44"/>
<circle cx="114.2" cy="190.0" r="0.75" fill="#9aa450"/>
<circle cx="115.9" cy="188.7" r="0.75" fill="#9aa450"/>
<circle cx="119.0" cy="194.6" r="0.75" fill="#8a9848"/>
<circle cx="114.3" cy="190.0" r="0.75" fill="#9aa450"/>
<circle cx="114.4" cy="189.8" r="0.75" fill="#7a8c44"/>
<circle cx="115.3" cy="196.0" r="0.75" fill="#9aa450"/>
<circle cx="114.1" cy="194.7" r="0.75" fill="#9aa450"/>
<circle cx="119.4" cy="192.1" r="0.75" fill="#8a9848"/>
<circle cx="117.0" cy="196.2" r="0.75" fill="#8a9848"/>
<circle cx="114.0" cy="190.4" r="0.75" fill="#8a9848"/>
<circle cx="116.4" cy="196.3" r="0.75" fill="#9aa450"/>
<circle cx="118.2" cy="195.6" r="0.75" fill="#8a9848"/>
<circle cx="115.8" cy="188.9" r="0.75" fill="#8a9848"/>
<circle cx="119.2" cy="193.8" r="0.75" fill="#7a8c44"/>
<circle cx="119.0" cy="194.3" r="0.75" fill="#7a8c44"/>
<circle cx="115.4" cy="189.1" r="0.75" fill="#8a9848"/>
<circle cx="119.3" cy="193.1" r="0.75" fill="#8a9848"/>
<circle cx="115.7" cy="196.0" r="0.75" fill="#7a8c44"/>
<circle cx="119.4" cy="192.5" r="0.75" fill="#7a8c44"/>
<circle cx="114.2" cy="190.3" r="0.75" fill="#7a8c44"/>
<circle cx="114.4" cy="190.1" r="0.75" fill="#8a9848"/>
<circle cx="119.3" cy="192.5" r="0.75" fill="#9aa450"/>
<circle cx="118.4" cy="189.9" r="0.75" fill="#7a8c44"/>
<circle cx="119.2" cy="193.4" r="0.75" fill="#9aa450"/>
<circle cx="118.0" cy="189.5" r="0.75" fill="#8a9848"/>
<circle cx="119.2" cy="193.3" r="0.75" fill="#9aa450"/>
<circle cx="116.1" cy="189.0" r="0.75" fill="#9aa450"/>
<circle cx="116.2" cy="196.0" r="0.75" fill="#8a9848"/>
<circle cx="115.0" cy="195.5" r="0.75" fill="#8a9848"/>
<circle cx="117.3" cy="195.9" r="0.75" fill="#8a9848"/>
<circle cx="118.4" cy="195.1" r="0.75" fill="#8a9848"/>
<circle cx="114.8" cy="195.2" r="0.75" fill="#7a8c44"/>
<circle cx="119.2" cy="191.9" r="0.75" fill="#8a9848"/>
<circle cx="116.8" cy="196.0" r="0.75" fill="#7a8c44"/>
<circle cx="117.1" cy="189.1" r="0.75" fill="#8a9848"/>
<circle cx="116.5" cy="196.0" r="0.75" fill="#9aa450"/>
<circle cx="115.2" cy="195.5" r="0.75" fill="#8a9848"/>
<circle cx="116.7" cy="189.1" r="0.75" fill="#9aa450"/>
<circle cx="119.1" cy="191.9" r="0.75" fill="#9aa450"/>
<circle cx="116.1" cy="195.9" r="0.75" fill="#8a9848"/>
<circle cx="114.3" cy="190.6" r="0.75" fill="#9aa450"/>
<circle cx="117.0" cy="195.8" r="0.75" fill="#9aa450"/>
<circle cx="118.2" cy="190.0" r="0.75" fill="#7a8c44"/>
<circle cx="118.1" cy="195.1" r="0.75" fill="#9aa450"/>
<circle cx="113.9" cy="192.8" r="0.75" fill="#7a8c44"/>
<circle cx="115.4" cy="195.5" r="0.75" fill="#8a9848"/>
<circle cx="116.5" cy="189.2" r="0.75" fill="#7a8c44"/>
<circle cx="117.5" cy="189.4" r="0.75" fill="#7a8c44"/>
<circle cx="119.1" cy="192.5" r="0.75" fill="#7a8c44"/>
<circle cx="116.2" cy="189.2" r="0.75" fill="#9aa450"/>
<circle cx="117.0" cy="189.3" r="0.75" fill="#9aa450"/>
<circle cx="119.0" cy="192.7" r="0.75" fill="#8a9848"/>
<circle cx="115.4" cy="189.6" r="0.75" fill="#5a6c48"/>
<circle cx="114.4" cy="190.8" r="0.75" fill="#5a6c48"/>
<circle cx="118.7" cy="194.1" r="0.75" fill="#5a6c48"/>
<circle cx="114.7" cy="190.4" r="0.75" fill="#687a40"/>
<circle cx="117.6" cy="195.4" r="0.75" fill="#5a6c48"/>
<circle cx="115.1" cy="195.1" r="0.75" fill="#5a6c48"/>
<circle cx="114.3" cy="193.9" r="0.75" fill="#687a40"/>
<circle cx="114.8" cy="194.7" r="0.75" fill="#687a40"/>
<circle cx="115.8" cy="189.5" r="0.75" fill="#687a40"/>
<circle cx="115.9" cy="195.5" r="0.75" fill="#5a6c48"/>
<circle cx="118.5" cy="194.1" r="0.75" fill="#687a40"/>
<circle cx="117.1" cy="189.6" r="0.75" fill="#5a6c48"/>
<circle cx="115.0" cy="190.2" r="0.75" fill="#5a6c48"/>
<circle cx="114.7" cy="190.7" r="0.75" fill="#687a40"/>
<circle cx="116.2" cy="195.4" r="0.75" fill="#5a6c48"/>
<circle cx="116.4" cy="195.4" r="0.75" fill="#687a40"/>
<circle cx="118.7" cy="193.2" r="0.75" fill="#687a40"/>
<circle cx="115.7" cy="195.2" r="0.75" fill="#5a6c48"/>
<circle cx="114.3" cy="192.3" r="0.75" fill="#687a40"/>
<circle cx="118.0" cy="190.4" r="0.75" fill="#5a6c48"/>
<circle cx="118.5" cy="191.3" r="0.75" fill="#5a6c48"/>
<circle cx="117.9" cy="190.3" r="0.75" fill="#687a40"/>
<circle cx="115.7" cy="189.9" r="0.75" fill="#5a6c48"/>
<circle cx="117.2" cy="189.9" r="0.75" fill="#687a40"/>
<circle cx="115.7" cy="190.0" r="0.75" fill="#687a40"/>
<circle cx="117.6" cy="190.2" r="0.75" fill="#687a40"/>
<circle cx="118.3" cy="193.9" r="0.75" fill="#687a40"/>
<circle cx="117.8" cy="190.3" r="0.75" fill="#687a40"/>
<circle cx="114.7" cy="193.9" r="0.75" fill="#687a40"/>
<circle cx="118.1" cy="190.7" r="0.75" fill="#687a40"/>
<circle cx="116.8" cy="195.1" r="0.75" fill="#687a40"/>
<circle cx="116.8" cy="195.1" r="0.75" fill="#687a40"/>
<circle cx="115.2" cy="190.5" r="0.75" fill="#5a6c48"/>
<circle cx="117.5" cy="190.2" r="0.75" fill="#5a6c48"/>
<circle cx="116.2" cy="195.1" r="0.75" fill="#5a6c48"/>
<circle cx="116.5" cy="189.9" r="0.75" fill="#5a6c48"/>
<circle cx="114.5" cy="191.9" r="0.75" fill="#687a40"/>
<circle cx="115.7" cy="194.9" r="0.75" fill="#5a6c48"/>
<circle cx="114.6" cy="193.5" r="0.75" fill="#687a40"/>
<circle cx="114.9" cy="190.9" r="0.75" fill="#5a6c48"/>
<circle cx="118.3" cy="193.6" r="0.75" fill="#5a6c48"/>
<circle cx="118.1" cy="191.0" r="0.75" fill="#5a6c48"/>
<circle cx="118.2" cy="193.8" r="0.75" fill="#5a6c48"/>
<circle cx="114.6" cy="191.9" r="0.75" fill="#5a6c48"/>
<circle cx="114.6" cy="192.0" r="0.75" fill="#687a40"/>
<circle cx="116.1" cy="190.1" r="0.75" fill="#5a6c48"/>
<circle cx="117.4" cy="190.4" r="0.75" fill="#687a40"/>
<circle cx="117.7" cy="190.6" r="0.75" fill="#687a40"/>
<circle cx="115.3" cy="194.4" r="0.75" fill="#5a6c48"/>
<circle cx="114.7" cy="193.2" r="0.75" fill="#5a6c48"/>
<circle cx="114.7" cy="192.0" r="0.75" fill="#5a6c48"/>
<circle cx="114.7" cy="193.0" r="0.75" fill="#687a40"/>
<circle cx="114.9" cy="191.4" r="0.75" fill="#687a40"/>
<circle cx="117.2" cy="190.3" r="0.75" fill="#5a6c48"/>
<circle cx="118.0" cy="193.8" r="0.75" fill="#687a40"/>
<circle cx="117.3" cy="194.6" r="0.75" fill="#5a6c48"/>
<circle cx="118.3" cy="192.9" r="0.75" fill="#5a6c48"/>
<circle cx="116.2" cy="190.2" r="0.75" fill="#687a40"/>
<circle cx="118.0" cy="191.3" r="0.75" fill="#687a40"/>
<circle cx="115.4" cy="190.7" r="0.75" fill="#687a40"/>
<circle cx="117.3" cy="190.4" r="0.75" fill="#5a6c48"/>
<circle cx="115.1" cy="191.1" r="0.75" fill="#5a6c48"/>
<circle cx="117.2" cy="190.5" r="0.75" fill="#687a40"/>
<circle cx="117.1" cy="190.4" r="0.75" fill="#5a6c48"/>
<circle cx="114.9" cy="193.2" r="0.75" fill="#5a6c48"/>
<circle cx="114.8" cy="192.2" r="0.75" fill="#5a6c48"/>
<circle cx="114.8" cy="192.1" r="0.75" fill="#687a40"/>
<circle cx="116.3" cy="194.7" r="0.75" fill="#5a6c48"/>
<circle cx="117.0" cy="194.6" r="0.75" fill="#687a40"/>
<circle cx="116.4" cy="194.7" r="0.75" fill="#5a6c48"/>
<circle cx="114.8" cy="192.4" r="0.75" fill="#4050b8"/>
<circle cx="116.8" cy="190.4" r="0.75" fill="#3a48b0"/>
<circle cx="115.6" cy="194.3" r="0.75" fill="#3a48b0"/>
<circle cx="117.8" cy="191.3" r="0.75" fill="#4050b8"/>
<circle cx="118.0" cy="191.8" r="0.75" fill="#4050b8"/>
<circle cx="118.1" cy="192.3" r="0.75" fill="#3a48b0"/>
<circle cx="117.9" cy="191.6" r="0.75" fill="#4050b8"/>
<circle cx="115.7" cy="190.8" r="0.75" fill="#4050b8"/>
<circle cx="117.5" cy="194.0" r="0.75" fill="#4050b8"/>
<circle cx="116.7" cy="190.6" r="0.75" fill="#3a48b0"/>
<circle cx="115.0" cy="192.1" r="0.75" fill="#4050b8"/>
<circle cx="115.1" cy="192.0" r="0.75" fill="#4050b8"/>
<circle cx="115.1" cy="192.9" r="0.75" fill="#4050b8"/>
<circle cx="116.9" cy="190.8" r="0.75" fill="#4050b8"/>
<circle cx="116.3" cy="194.3" r="0.75" fill="#3a48b0"/>
<circle cx="116.8" cy="190.8" r="0.75" fill="#3a48b0"/>
<circle cx="117.8" cy="193.2" r="0.75" fill="#3a48b0"/>
<circle cx="116.2" cy="194.2" r="0.75" fill="#3a48b0"/>
<circle cx="115.8" cy="191.0" r="0.75" fill="#4050b8"/>
<circle cx="115.1" cy="192.5" r="0.75" fill="#3a48b0"/>
<circle cx="116.4" cy="194.2" r="0.75" fill="#3a48b0"/>
<circle cx="116.0" cy="190.9" r="0.75" fill="#4050b8"/>
<circle cx="116.8" cy="194.1" r="0.75" fill="#4050b8"/>
<circle cx="116.6" cy="190.9" r="0.75" fill="#4050b8"/>
<circle cx="117.5" cy="193.6" r="0.75" fill="#4050b8"/>
<circle cx="117.3" cy="193.7" r="0.75" fill="#4050b8"/>
<circle cx="117.4" cy="193.5" r="0.75" fill="#3a48b0"/>
<circle cx="115.3" cy="192.6" r="0.75" fill="#3a48b0"/>
<circle cx="117.3" cy="193.7" r="0.75" fill="#3a48b0"/>
<circle cx="117.7" cy="192.7" r="0.75" fill="#3a48b0"/>
<circle cx="116.0" cy="193.9" r="0.75" fill="#3a48b0"/>
<circle cx="116.9" cy="194.0" r="0.75" fill="#3a48b0"/>
<circle cx="117.4" cy="191.6" r="0.75" fill="#3a48b0"/>
<circle cx="115.5" cy="193.2" r="0.75" fill="#4050b8"/>
<circle cx="117.5" cy="193.2" r="0.75" fill="#4050b8"/>
<circle cx="116.1" cy="193.9" r="0.75" fill="#3a48b0"/>
<circle cx="115.7" cy="191.4" r="0.75" fill="#3a48b0"/>
<circle cx="117.6" cy="192.1" r="0.75" fill="#3a48b0"/>
<circle cx="116.2" cy="193.9" r="0.75" fill="#3a48b0"/>
<circle cx="115.7" cy="191.5" r="0.75" fill="#3a48b0"/>
<circle cx="116.9" cy="193.8" r="0.75" fill="#4050b8"/>
<circle cx="115.4" cy="192.1" r="0.75" fill="#3a48b0"/>
<circle cx="116.4" cy="191.1" r="0.75" fill="#3a48b0"/>
<circle cx="115.7" cy="191.7" r="0.75" fill="#3a48b0"/>
<circle cx="115.6" cy="193.0" r="0.75" fill="#3a48b0"/>
<circle cx="116.7" cy="193.8" r="0.75" fill="#3a48b0"/>
<circle cx="116.4" cy="191.2" r="0.75" fill="#3a48b0"/>
<circle cx="115.7" cy="193.2" r="0.75" fill="#3a48b0"/>
<circle cx="115.9" cy="193.5" r="0.75" fill="#3a48b0"/>
<circle cx="115.8" cy="193.3" r="0.75" fill="#3a48b0"/>
<circle cx="117.3" cy="191.8" r="0.75" fill="#3a48b0"/>
<circle cx="115.6" cy="192.9" r="0.75" fill="#4050b8"/>
<circle cx="115.7" cy="192.0" r="0.75" fill="#3a48b0"/>
<circle cx="117.0" cy="191.6" r="0.75" fill="#4050b8"/>
<circle cx="117.3" cy="192.9" r="0.75" fill="#3a48b0"/>
<circle cx="116.8" cy="191.5" r="0.75" fill="#4050b8"/>
<circle cx="116.0" cy="191.7" r="0.75" fill="#4050b8"/>
<circle cx="117.2" cy="191.9" r="0.75" fill="#3a48b0"/>
<circle cx="116.5" cy="193.5" r="0.75" fill="#3a48b0"/>
<circle cx="116.8" cy="193.4" r="0.75" fill="#3a48b0"/>
<circle cx="117.1" cy="192.0" r="0.75" fill="#3a48b0"/>
<circle cx="117.1" cy="192.2" r="0.75" fill="#4050b8"/>
<circle cx="117.1" cy="192.3" r="0.75" fill="#4050b8"/>
<circle cx="116.3" cy="191.8" r="0.75" fill="#4050b8"/>
<circle cx="116.1" cy="192.0" r="0.75" fill="#4050b8"/>
<circle cx="116.9" cy="192.0" r="0.75" fill="#4050b8"/>
<circle cx="116.7" cy="193.0" r="0.75" fill="#3a48b0"/>
<circle cx="116.5" cy="192.2" r="0.75" fill="#4050b8"/>
<circle cx="116.5" cy="192.2" r="0.75" fill="#3a48b0"/>
<circle cx="116.5" cy="192.5" r="0.75" fill="#4050b8"/>
</g>
<ellipse cx="114.4" cy="193.4" rx="2.2" ry="2.3" fill="#3a48b0" filter="url(#bl2)"/>
<rect x="86.60" y="184.20" width="24.50" height="16.80" fill="none" stroke="#93294c" stroke-width="1.4" />
<rect x="111.10" y="184.20" width="13.40" height="16.80" fill="none" stroke="#34346e" stroke-width="1.35" />
<rect x="111.10" y="201.00" width="13.40" height="33.40" fill="none" stroke="#34346e" stroke-width="1.35" />
<line x1="111.10" y1="201.00" x2="124.50" y2="201.00" stroke="#2a2a60" stroke-width="1.5" />
<text x="84.80" y="180.10" font-size="5.0" fill="#4a6088" stroke="#4a6088" stroke-width="0.03" textLength="59.6" lengthAdjust="spacingAndGlyphs">CD16bright/CD62Lbright</text>
<text x="45.00" y="208.20" font-size="5.0" fill="#b23a66" stroke="#b23a66" stroke-width="0.03" textLength="53.8" lengthAdjust="spacingAndGlyphs">CD16dim/CD62Lbright</text>
<text x="94.70" y="242.30" font-size="5.0" fill="#4a4478" stroke="#4a4478" stroke-width="0.03" textLength="52.8" lengthAdjust="spacingAndGlyphs">CD16bright/CD62Ldim</text>
<line x1="200.60" y1="167.00" x2="315.30" y2="167.00" stroke="#111" stroke-width="1.1" />
<line x1="315.30" y1="167.00" x2="315.30" y2="254.40" stroke="#111" stroke-width="1.1" />
<line x1="200.60" y1="166.50" x2="200.60" y2="255.10" stroke="#111" stroke-width="1.6" />
<line x1="199.90" y1="254.40" x2="315.80" y2="254.40" stroke="#111" stroke-width="1.6" />
<line x1="198.40" y1="166.80" x2="200.60" y2="166.80" stroke="#111" stroke-width="1.1" />
<text x="195.20" y="169.80" font-size="6.1" text-anchor="end" fill="#1a1a1a" stroke="#1a1a1a" stroke-width="0.28">10<tspan dx="0.2" dy="-2.6" font-size="4.2">8</tspan></text>
<line x1="198.80" y1="178.96" x2="200.60" y2="178.96" stroke="#111" stroke-width="0.85" />
<line x1="198.80" y1="175.90" x2="200.60" y2="175.90" stroke="#111" stroke-width="0.85" />
<line x1="198.80" y1="173.72" x2="200.60" y2="173.72" stroke="#111" stroke-width="0.85" />
<line x1="198.80" y1="172.04" x2="200.60" y2="172.04" stroke="#111" stroke-width="0.85" />
<line x1="198.80" y1="170.66" x2="200.60" y2="170.66" stroke="#111" stroke-width="0.85" />
<line x1="198.80" y1="169.50" x2="200.60" y2="169.50" stroke="#111" stroke-width="0.85" />
<line x1="198.80" y1="168.49" x2="200.60" y2="168.49" stroke="#111" stroke-width="0.85" />
<line x1="198.80" y1="167.60" x2="200.60" y2="167.60" stroke="#111" stroke-width="0.85" />
<line x1="198.40" y1="184.20" x2="200.60" y2="184.20" stroke="#111" stroke-width="1.1" />
<text x="195.20" y="187.20" font-size="6.1" text-anchor="end" fill="#1a1a1a" stroke="#1a1a1a" stroke-width="0.28">10<tspan dx="0.2" dy="-2.6" font-size="4.2">7</tspan></text>
<line x1="198.80" y1="196.36" x2="200.60" y2="196.36" stroke="#111" stroke-width="0.85" />
<line x1="198.80" y1="193.30" x2="200.60" y2="193.30" stroke="#111" stroke-width="0.85" />
<line x1="198.80" y1="191.12" x2="200.60" y2="191.12" stroke="#111" stroke-width="0.85" />
<line x1="198.80" y1="189.44" x2="200.60" y2="189.44" stroke="#111" stroke-width="0.85" />
<line x1="198.80" y1="188.06" x2="200.60" y2="188.06" stroke="#111" stroke-width="0.85" />
<line x1="198.80" y1="186.90" x2="200.60" y2="186.90" stroke="#111" stroke-width="0.85" />
<line x1="198.80" y1="185.89" x2="200.60" y2="185.89" stroke="#111" stroke-width="0.85" />
<line x1="198.80" y1="185.00" x2="200.60" y2="185.00" stroke="#111" stroke-width="0.85" />
<line x1="198.40" y1="201.60" x2="200.60" y2="201.60" stroke="#111" stroke-width="1.1" />
<text x="195.20" y="204.60" font-size="6.1" text-anchor="end" fill="#1a1a1a" stroke="#1a1a1a" stroke-width="0.28">10<tspan dx="0.2" dy="-2.6" font-size="4.2">6</tspan></text>
<line x1="198.80" y1="213.76" x2="200.60" y2="213.76" stroke="#111" stroke-width="0.85" />
<line x1="198.80" y1="210.70" x2="200.60" y2="210.70" stroke="#111" stroke-width="0.85" />
<line x1="198.80" y1="208.52" x2="200.60" y2="208.52" stroke="#111" stroke-width="0.85" />
<line x1="198.80" y1="206.84" x2="200.60" y2="206.84" stroke="#111" stroke-width="0.85" />
<line x1="198.80" y1="205.46" x2="200.60" y2="205.46" stroke="#111" stroke-width="0.85" />
<line x1="198.80" y1="204.30" x2="200.60" y2="204.30" stroke="#111" stroke-width="0.85" />
<line x1="198.80" y1="203.29" x2="200.60" y2="203.29" stroke="#111" stroke-width="0.85" />
<line x1="198.80" y1="202.40" x2="200.60" y2="202.40" stroke="#111" stroke-width="0.85" />
<line x1="198.40" y1="219.00" x2="200.60" y2="219.00" stroke="#111" stroke-width="1.1" />
<text x="195.20" y="222.00" font-size="6.1" text-anchor="end" fill="#1a1a1a" stroke="#1a1a1a" stroke-width="0.28">10<tspan dx="0.2" dy="-2.6" font-size="4.2">5</tspan></text>
<line x1="198.80" y1="231.16" x2="200.60" y2="231.16" stroke="#111" stroke-width="0.85" />
<line x1="198.80" y1="228.10" x2="200.60" y2="228.10" stroke="#111" stroke-width="0.85" />
<line x1="198.80" y1="225.92" x2="200.60" y2="225.92" stroke="#111" stroke-width="0.85" />
<line x1="198.80" y1="224.24" x2="200.60" y2="224.24" stroke="#111" stroke-width="0.85" />
<line x1="198.80" y1="222.86" x2="200.60" y2="222.86" stroke="#111" stroke-width="0.85" />
<line x1="198.80" y1="221.70" x2="200.60" y2="221.70" stroke="#111" stroke-width="0.85" />
<line x1="198.80" y1="220.69" x2="200.60" y2="220.69" stroke="#111" stroke-width="0.85" />
<line x1="198.80" y1="219.80" x2="200.60" y2="219.80" stroke="#111" stroke-width="0.85" />
<line x1="198.40" y1="236.40" x2="200.60" y2="236.40" stroke="#111" stroke-width="1.1" />
<text x="195.20" y="239.40" font-size="6.1" text-anchor="end" fill="#1a1a1a" stroke="#1a1a1a" stroke-width="0.28">10<tspan dx="0.2" dy="-2.6" font-size="4.2">4</tspan></text>
<line x1="222.00" y1="254.40" x2="222.00" y2="256.80" stroke="#111" stroke-width="1.1" />
<text x="223.20" y="265.80" font-size="6.1" text-anchor="middle" fill="#1a1a1a" stroke="#1a1a1a" stroke-width="0.28">10<tspan dx="0.2" dy="-2.6" font-size="4.2">6</tspan></text>
<line x1="228.95" y1="254.40" x2="228.95" y2="256.20" stroke="#111" stroke-width="0.85" />
<line x1="233.02" y1="254.40" x2="233.02" y2="256.20" stroke="#111" stroke-width="0.85" />
<line x1="235.91" y1="254.40" x2="235.91" y2="256.20" stroke="#111" stroke-width="0.85" />
<line x1="238.15" y1="254.40" x2="238.15" y2="256.20" stroke="#111" stroke-width="0.85" />
<line x1="239.98" y1="254.40" x2="239.98" y2="256.20" stroke="#111" stroke-width="0.85" />
<line x1="241.52" y1="254.40" x2="241.52" y2="256.20" stroke="#111" stroke-width="0.85" />
<line x1="242.86" y1="254.40" x2="242.86" y2="256.20" stroke="#111" stroke-width="0.85" />
<line x1="244.04" y1="254.40" x2="244.04" y2="256.20" stroke="#111" stroke-width="0.85" />
<line x1="245.10" y1="254.40" x2="245.10" y2="256.80" stroke="#111" stroke-width="1.1" />
<text x="246.30" y="265.80" font-size="6.1" text-anchor="middle" fill="#1a1a1a" stroke="#1a1a1a" stroke-width="0.28">10<tspan dx="0.2" dy="-2.6" font-size="4.2">7</tspan></text>
<line x1="252.05" y1="254.40" x2="252.05" y2="256.20" stroke="#111" stroke-width="0.85" />
<line x1="256.12" y1="254.40" x2="256.12" y2="256.20" stroke="#111" stroke-width="0.85" />
<line x1="259.01" y1="254.40" x2="259.01" y2="256.20" stroke="#111" stroke-width="0.85" />
<line x1="261.25" y1="254.40" x2="261.25" y2="256.20" stroke="#111" stroke-width="0.85" />
<line x1="263.08" y1="254.40" x2="263.08" y2="256.20" stroke="#111" stroke-width="0.85" />
<line x1="264.62" y1="254.40" x2="264.62" y2="256.20" stroke="#111" stroke-width="0.85" />
<line x1="265.96" y1="254.40" x2="265.96" y2="256.20" stroke="#111" stroke-width="0.85" />
<line x1="267.14" y1="254.40" x2="267.14" y2="256.20" stroke="#111" stroke-width="0.85" />
<line x1="268.20" y1="254.40" x2="268.20" y2="256.80" stroke="#111" stroke-width="1.1" />
<text x="269.40" y="265.80" font-size="6.1" text-anchor="middle" fill="#1a1a1a" stroke="#1a1a1a" stroke-width="0.28">10<tspan dx="0.2" dy="-2.6" font-size="4.2">8</tspan></text>
<line x1="275.15" y1="254.40" x2="275.15" y2="256.20" stroke="#111" stroke-width="0.85" />
<line x1="279.22" y1="254.40" x2="279.22" y2="256.20" stroke="#111" stroke-width="0.85" />
<line x1="282.11" y1="254.40" x2="282.11" y2="256.20" stroke="#111" stroke-width="0.85" />
<line x1="284.35" y1="254.40" x2="284.35" y2="256.20" stroke="#111" stroke-width="0.85" />
<line x1="286.18" y1="254.40" x2="286.18" y2="256.20" stroke="#111" stroke-width="0.85" />
<line x1="287.72" y1="254.40" x2="287.72" y2="256.20" stroke="#111" stroke-width="0.85" />
<line x1="289.06" y1="254.40" x2="289.06" y2="256.20" stroke="#111" stroke-width="0.85" />
<line x1="290.24" y1="254.40" x2="290.24" y2="256.20" stroke="#111" stroke-width="0.85" />
<line x1="291.30" y1="254.40" x2="291.30" y2="256.80" stroke="#111" stroke-width="1.1" />
<text x="292.50" y="265.80" font-size="6.1" text-anchor="middle" fill="#1a1a1a" stroke="#1a1a1a" stroke-width="0.28">10<tspan dx="0.2" dy="-2.6" font-size="4.2">9</tspan></text>
<line x1="298.25" y1="254.40" x2="298.25" y2="256.20" stroke="#111" stroke-width="0.85" />
<line x1="302.32" y1="254.40" x2="302.32" y2="256.20" stroke="#111" stroke-width="0.85" />
<line x1="305.21" y1="254.40" x2="305.21" y2="256.20" stroke="#111" stroke-width="0.85" />
<line x1="307.45" y1="254.40" x2="307.45" y2="256.20" stroke="#111" stroke-width="0.85" />
<line x1="309.28" y1="254.40" x2="309.28" y2="256.20" stroke="#111" stroke-width="0.85" />
<line x1="310.82" y1="254.40" x2="310.82" y2="256.20" stroke="#111" stroke-width="0.85" />
<line x1="312.16" y1="254.40" x2="312.16" y2="256.20" stroke="#111" stroke-width="0.85" />
<line x1="313.34" y1="254.40" x2="313.34" y2="256.20" stroke="#111" stroke-width="0.85" />
<line x1="314.40" y1="254.40" x2="314.40" y2="256.80" stroke="#111" stroke-width="1.1" />
<text x="315.60" y="265.80" font-size="6.1" text-anchor="middle" fill="#1a1a1a" stroke="#1a1a1a" stroke-width="0.28">10<tspan dx="0.2" dy="-2.6" font-size="4.2">10</tspan></text>
<text x="258.20" y="161.26" font-size="8.5" text-anchor="middle" fill="#111" stroke="#111" stroke-width="0.2" textLength="62.3" lengthAdjust="spacingAndGlyphs" >Hypersegmented</text>
<text x="178.80" y="211.00" font-size="9.4" text-anchor="middle" fill="#222" font-weight="bold" dominant-baseline="central" stroke="#222" stroke-width="0.25" textLength="17" lengthAdjust="spacingAndGlyphs" transform="rotate(-90 178.80 211.00)">CD62L</text>
<text x="260.00" y="277.77" font-size="8.8" text-anchor="middle" fill="#222" font-weight="bold" stroke="#222" stroke-width="0.25" textLength="13.8" lengthAdjust="spacingAndGlyphs" >CD16</text>
<g filter="url(#bl2)">
<circle cx="273.6" cy="230.5" r="0.8" fill="#e8e890"/>
<circle cx="282.8" cy="233.1" r="0.8" fill="#e8e890"/>
<circle cx="284.5" cy="227.3" r="0.8" fill="#e8e890"/>
<circle cx="274.8" cy="231.1" r="0.8" fill="#e8e890"/>
<circle cx="274.6" cy="230.5" r="0.8" fill="#e8e890"/>
<circle cx="283.9" cy="202.4" r="0.8" fill="#f0f0a8"/>
<circle cx="284.1" cy="226.9" r="0.8" fill="#f0f0a8"/>
<circle cx="281.5" cy="233.1" r="0.8" fill="#f0f0a8"/>
<circle cx="283.5" cy="228.0" r="0.8" fill="#f0f0a8"/>
<circle cx="282.6" cy="230.3" r="0.8" fill="#f0f0a8"/>
<circle cx="284.2" cy="205.2" r="0.8" fill="#f0f0a8"/>
<circle cx="281.0" cy="232.7" r="0.8" fill="#f0f0a8"/>
<circle cx="276.6" cy="232.4" r="0.8" fill="#e8e890"/>
<circle cx="278.7" cy="233.4" r="0.8" fill="#f0f0a8"/>
<circle cx="284.5" cy="209.6" r="0.8" fill="#e8e890"/>
<circle cx="284.4" cy="219.1" r="0.8" fill="#f0f0a8"/>
<circle cx="274.1" cy="225.4" r="0.8" fill="#e0e080"/>
<circle cx="284.2" cy="209.2" r="0.8" fill="#e0e080"/>
<circle cx="273.7" cy="223.3" r="0.8" fill="#e8e890"/>
<circle cx="275.2" cy="228.3" r="0.8" fill="#e8e890"/>
<circle cx="273.7" cy="208.1" r="0.8" fill="#f0f0a8"/>
<circle cx="284.2" cy="210.0" r="0.8" fill="#f0f0a8"/>
<circle cx="282.5" cy="202.1" r="0.8" fill="#e0e080"/>
<circle cx="274.8" cy="203.0" r="0.8" fill="#e8e890"/>
<circle cx="273.7" cy="207.9" r="0.8" fill="#e8e890"/>
<circle cx="274.0" cy="206.7" r="0.8" fill="#f0f0a8"/>
<circle cx="283.2" cy="204.8" r="0.8" fill="#e8e890"/>
<circle cx="282.7" cy="203.3" r="0.8" fill="#e8e890"/>
<circle cx="273.6" cy="220.0" r="0.8" fill="#e8e890"/>
<circle cx="274.8" cy="203.7" r="0.8" fill="#e0e080"/>
<circle cx="284.1" cy="211.4" r="0.8" fill="#e8e890"/>
<circle cx="273.8" cy="221.4" r="0.8" fill="#e8e890"/>
<circle cx="283.0" cy="225.2" r="0.8" fill="#e0e080"/>
<circle cx="279.0" cy="231.4" r="0.8" fill="#f0f0a8"/>
<circle cx="277.6" cy="230.8" r="0.8" fill="#f0f0a8"/>
<circle cx="282.5" cy="203.4" r="0.8" fill="#f0f0a8"/>
<circle cx="276.9" cy="230.1" r="0.8" fill="#e8e890"/>
<circle cx="278.2" cy="230.8" r="0.8" fill="#e8e890"/>
<circle cx="280.8" cy="229.7" r="0.8" fill="#e0e080"/>
<circle cx="275.8" cy="202.1" r="0.8" fill="#e0e080"/>
<circle cx="283.4" cy="222.4" r="0.8" fill="#f0f0a8"/>
<circle cx="275.0" cy="204.4" r="0.8" fill="#e0e080"/>
<circle cx="273.6" cy="214.8" r="0.8" fill="#f0f0a8"/>
<circle cx="280.2" cy="230.1" r="0.8" fill="#e8e890"/>
<circle cx="283.9" cy="212.3" r="0.8" fill="#e0e080"/>
<circle cx="280.4" cy="229.7" r="0.8" fill="#e0e080"/>
<circle cx="275.6" cy="203.0" r="0.8" fill="#f0f0a8"/>
<circle cx="283.7" cy="219.1" r="0.8" fill="#e8e890"/>
<circle cx="283.7" cy="210.8" r="0.8" fill="#e0e080"/>
<circle cx="282.8" cy="205.6" r="0.8" fill="#e0e080"/>
<circle cx="273.8" cy="214.4" r="0.8" fill="#f0f0a8"/>
<circle cx="275.4" cy="203.7" r="0.8" fill="#e8e890"/>
<circle cx="283.5" cy="220.4" r="0.8" fill="#e0e080"/>
<circle cx="283.7" cy="212.0" r="0.8" fill="#e8e890"/>
<circle cx="278.1" cy="230.0" r="0.8" fill="#e8e890"/>
<circle cx="276.4" cy="201.8" r="0.8" fill="#f0f0a8"/>
<circle cx="281.3" cy="228.0" r="0.8" fill="#e8e890"/>
<circle cx="274.4" cy="221.9" r="0.8" fill="#e0e080"/>
<circle cx="283.7" cy="212.4" r="0.8" fill="#e0e080"/>
<circle cx="278.4" cy="229.8" r="0.8" fill="#e0e080"/>
<circle cx="273.9" cy="214.2" r="0.8" fill="#f0f0a8"/>
<circle cx="282.5" cy="205.3" r="0.8" fill="#dcdc70"/>
<circle cx="282.3" cy="225.3" r="0.8" fill="#dcdc70"/>
<circle cx="281.1" cy="227.9" r="0.8" fill="#d0d060"/>
<circle cx="281.3" cy="227.6" r="0.8" fill="#c0c858"/>
<circle cx="274.0" cy="215.2" r="0.8" fill="#dcdc70"/>
<circle cx="276.3" cy="202.6" r="0.8" fill="#d0d060"/>
<circle cx="283.6" cy="216.6" r="0.8" fill="#d0d060"/>
<circle cx="281.7" cy="203.5" r="0.8" fill="#c0c858"/>
<circle cx="281.5" cy="226.9" r="0.8" fill="#d0d060"/>
<circle cx="274.4" cy="209.3" r="0.8" fill="#d0d060"/>
<circle cx="275.2" cy="224.5" r="0.8" fill="#d0d060"/>
<circle cx="283.0" cy="208.0" r="0.8" fill="#dcdc70"/>
<circle cx="282.1" cy="204.6" r="0.8" fill="#d0d060"/>
<circle cx="281.2" cy="227.3" r="0.8" fill="#dcdc70"/>
<circle cx="276.0" cy="203.4" r="0.8" fill="#d0d060"/>
<circle cx="274.4" cy="210.8" r="0.8" fill="#c0c858"/>
<circle cx="282.8" cy="208.0" r="0.8" fill="#dcdc70"/>
<circle cx="275.3" cy="224.3" r="0.8" fill="#c0c858"/>
<circle cx="277.2" cy="228.2" r="0.8" fill="#d0d060"/>
<circle cx="282.4" cy="223.6" r="0.8" fill="#d0d060"/>
<circle cx="277.4" cy="228.3" r="0.8" fill="#d0d060"/>
<circle cx="275.4" cy="205.8" r="0.8" fill="#dcdc70"/>
<circle cx="274.8" cy="221.6" r="0.8" fill="#d0d060"/>
<circle cx="281.6" cy="204.5" r="0.8" fill="#d0d060"/>
<circle cx="276.2" cy="225.9" r="0.8" fill="#d0d060"/>
<circle cx="274.6" cy="211.1" r="0.8" fill="#d0d060"/>
<circle cx="282.6" cy="222.0" r="0.8" fill="#d0d060"/>
<circle cx="276.1" cy="225.7" r="0.8" fill="#d0d060"/>
<circle cx="280.1" cy="227.9" r="0.8" fill="#d0d060"/>
<circle cx="275.0" cy="221.7" r="0.8" fill="#d0d060"/>
<circle cx="283.0" cy="218.6" r="0.8" fill="#c0c858"/>
<circle cx="283.1" cy="212.3" r="0.8" fill="#d0d060"/>
<circle cx="274.8" cy="220.3" r="0.8" fill="#d0d060"/>
<circle cx="281.6" cy="204.8" r="0.8" fill="#d0d060"/>
<circle cx="281.3" cy="225.8" r="0.8" fill="#c0c858"/>
<circle cx="276.8" cy="226.7" r="0.8" fill="#d0d060"/>
<circle cx="276.3" cy="204.3" r="0.8" fill="#d0d060"/>
<circle cx="274.6" cy="211.7" r="0.8" fill="#dcdc70"/>
<circle cx="279.2" cy="202.0" r="0.8" fill="#c0c858"/>
<circle cx="283.1" cy="214.9" r="0.8" fill="#d0d060"/>
<circle cx="282.6" cy="220.7" r="0.8" fill="#dcdc70"/>
<circle cx="281.7" cy="224.5" r="0.8" fill="#d0d060"/>
<circle cx="280.7" cy="226.5" r="0.8" fill="#c0c858"/>
<circle cx="280.7" cy="226.5" r="0.8" fill="#dcdc70"/>
<circle cx="276.1" cy="224.8" r="0.8" fill="#d0d060"/>
<circle cx="274.6" cy="215.1" r="0.8" fill="#c0c858"/>
<circle cx="280.6" cy="203.5" r="0.8" fill="#dcdc70"/>
<circle cx="275.2" cy="208.2" r="0.8" fill="#dcdc70"/>
<circle cx="280.8" cy="226.3" r="0.8" fill="#c0c858"/>
<circle cx="283.0" cy="213.5" r="0.8" fill="#d0d060"/>
<circle cx="282.2" cy="207.3" r="0.8" fill="#dcdc70"/>
<circle cx="281.7" cy="224.2" r="0.8" fill="#c0c858"/>
<circle cx="278.0" cy="202.5" r="0.8" fill="#d0d060"/>
<circle cx="282.7" cy="210.6" r="0.8" fill="#d0d060"/>
<circle cx="281.8" cy="223.7" r="0.8" fill="#dcdc70"/>
<circle cx="274.8" cy="218.2" r="0.8" fill="#d0d060"/>
<circle cx="274.7" cy="213.1" r="0.8" fill="#d0d060"/>
<circle cx="275.2" cy="208.6" r="0.8" fill="#d0d060"/>
<circle cx="278.9" cy="227.5" r="0.8" fill="#c0c858"/>
<circle cx="275.0" cy="210.2" r="0.8" fill="#dcdc70"/>
<circle cx="281.5" cy="205.7" r="0.8" fill="#c0c858"/>
<circle cx="282.8" cy="216.5" r="0.8" fill="#d0d060"/>
<circle cx="282.2" cy="221.9" r="0.8" fill="#dcdc70"/>
<circle cx="275.3" cy="221.2" r="0.8" fill="#d0d060"/>
<circle cx="282.7" cy="211.7" r="0.8" fill="#d0d060"/>
<circle cx="280.2" cy="226.6" r="0.8" fill="#d0d060"/>
<circle cx="275.0" cy="219.0" r="0.8" fill="#d0d060"/>
<circle cx="276.3" cy="205.3" r="0.8" fill="#d0d060"/>
<circle cx="276.6" cy="204.6" r="0.8" fill="#c0c858"/>
<circle cx="275.9" cy="223.6" r="0.8" fill="#d0d060"/>
<circle cx="278.8" cy="227.3" r="0.8" fill="#c0c858"/>
<circle cx="281.2" cy="205.1" r="0.8" fill="#d0d060"/>
<circle cx="280.4" cy="203.7" r="0.8" fill="#dcdc70"/>
<circle cx="279.8" cy="203.2" r="0.8" fill="#d0d060"/>
<circle cx="281.5" cy="205.9" r="0.8" fill="#dcdc70"/>
<circle cx="277.7" cy="203.3" r="0.8" fill="#d0d060"/>
<circle cx="281.6" cy="223.7" r="0.8" fill="#dcdc70"/>
<circle cx="275.6" cy="222.3" r="0.8" fill="#d0d060"/>
<circle cx="281.9" cy="207.4" r="0.8" fill="#c0c858"/>
<circle cx="278.7" cy="227.0" r="0.8" fill="#d0d060"/>
<circle cx="282.7" cy="215.7" r="0.8" fill="#d0d060"/>
<circle cx="278.4" cy="203.1" r="0.8" fill="#d0d060"/>
<circle cx="276.2" cy="206.0" r="0.8" fill="#d0d060"/>
<circle cx="281.5" cy="206.2" r="0.8" fill="#c0c858"/>
<circle cx="282.5" cy="211.4" r="0.8" fill="#c0c858"/>
<circle cx="282.2" cy="221.1" r="0.8" fill="#dcdc70"/>
<circle cx="282.7" cy="216.6" r="0.8" fill="#d0d060"/>
<circle cx="281.4" cy="223.9" r="0.8" fill="#d0d060"/>
<circle cx="274.9" cy="216.6" r="0.8" fill="#d0d060"/>
<circle cx="279.1" cy="226.8" r="0.8" fill="#d0d060"/>
<circle cx="275.2" cy="210.5" r="0.8" fill="#d0d060"/>
<circle cx="275.3" cy="219.8" r="0.8" fill="#d0d060"/>
<circle cx="280.6" cy="225.4" r="0.8" fill="#c0c858"/>
<circle cx="276.7" cy="205.4" r="0.8" fill="#c0c858"/>
<circle cx="275.2" cy="210.9" r="0.8" fill="#d0d060"/>
<circle cx="280.0" cy="204.1" r="0.8" fill="#dcdc70"/>
<circle cx="276.7" cy="224.6" r="0.8" fill="#dcdc70"/>
<circle cx="279.7" cy="226.1" r="0.8" fill="#c0c858"/>
<circle cx="282.3" cy="211.1" r="0.8" fill="#c0c858"/>
<circle cx="275.0" cy="214.1" r="0.8" fill="#c0c858"/>
<circle cx="276.2" cy="223.2" r="0.8" fill="#c0c858"/>
<circle cx="275.1" cy="217.5" r="0.8" fill="#dcdc70"/>
<circle cx="281.1" cy="205.9" r="0.8" fill="#c0c858"/>
<circle cx="279.3" cy="226.3" r="0.8" fill="#dcdc70"/>
<circle cx="278.9" cy="203.6" r="0.8" fill="#d0d060"/>
<circle cx="279.7" cy="226.1" r="0.8" fill="#dcdc70"/>
<circle cx="277.7" cy="204.2" r="0.8" fill="#dcdc70"/>
<circle cx="280.4" cy="225.3" r="0.8" fill="#dcdc70"/>
<circle cx="279.7" cy="204.0" r="0.8" fill="#dcdc70"/>
<circle cx="275.8" cy="208.5" r="0.8" fill="#dcdc70"/>
<circle cx="280.6" cy="205.2" r="0.8" fill="#dcdc70"/>
<circle cx="277.7" cy="225.7" r="0.8" fill="#c0c858"/>
<circle cx="276.7" cy="205.9" r="0.8" fill="#dcdc70"/>
<circle cx="281.5" cy="222.6" r="0.8" fill="#c0c858"/>
<circle cx="277.8" cy="225.7" r="0.8" fill="#c0c858"/>
<circle cx="277.3" cy="204.9" r="0.8" fill="#dcdc70"/>
<circle cx="280.6" cy="224.6" r="0.8" fill="#d0d060"/>
<circle cx="275.3" cy="217.7" r="0.8" fill="#c0c858"/>
<circle cx="280.8" cy="205.8" r="0.8" fill="#d0d060"/>
<circle cx="282.2" cy="211.0" r="0.8" fill="#d0d060"/>
<circle cx="282.4" cy="216.9" r="0.8" fill="#c0c858"/>
<circle cx="275.2" cy="215.7" r="0.8" fill="#dcdc70"/>
<circle cx="278.1" cy="225.8" r="0.8" fill="#dcdc70"/>
<circle cx="275.8" cy="208.8" r="0.8" fill="#dcdc70"/>
<circle cx="280.7" cy="224.3" r="0.8" fill="#c0c858"/>
<circle cx="276.0" cy="208.0" r="0.8" fill="#c0c858"/>
<circle cx="275.3" cy="216.7" r="0.8" fill="#c0c858"/>
<circle cx="281.5" cy="222.3" r="0.8" fill="#d0d060"/>
<circle cx="281.9" cy="209.3" r="0.8" fill="#d0d060"/>
<circle cx="275.4" cy="218.4" r="0.8" fill="#dcdc70"/>
<circle cx="281.3" cy="222.8" r="0.8" fill="#dcdc70"/>
<circle cx="280.6" cy="205.6" r="0.8" fill="#d0d060"/>
<circle cx="280.8" cy="206.2" r="0.8" fill="#d0d060"/>
<circle cx="280.4" cy="205.4" r="0.8" fill="#dcdc70"/>
<circle cx="276.8" cy="206.2" r="0.8" fill="#dcdc70"/>
<circle cx="276.5" cy="206.8" r="0.8" fill="#dcdc70"/>
<circle cx="280.8" cy="206.3" r="0.8" fill="#c0c858"/>
<circle cx="276.4" cy="207.2" r="0.8" fill="#d0d060"/>
<circle cx="275.8" cy="209.3" r="0.8" fill="#d0d060"/>
<circle cx="277.0" cy="224.1" r="0.8" fill="#c0c858"/>
<circle cx="278.0" cy="225.3" r="0.8" fill="#c0c858"/>
<circle cx="279.8" cy="204.8" r="0.8" fill="#dcdc70"/>
<circle cx="280.4" cy="205.7" r="0.8" fill="#d0d060"/>
<circle cx="275.8" cy="220.3" r="0.8" fill="#d0d060"/>
<circle cx="277.7" cy="205.1" r="0.8" fill="#d0d060"/>
<circle cx="277.1" cy="206.0" r="0.8" fill="#dcdc70"/>
<circle cx="276.8" cy="223.5" r="0.8" fill="#c0c858"/>
<circle cx="282.2" cy="214.6" r="0.8" fill="#c0c858"/>
<circle cx="281.8" cy="219.7" r="0.8" fill="#dcdc70"/>
<circle cx="278.1" cy="204.9" r="0.8" fill="#d0d060"/>
<circle cx="275.8" cy="210.2" r="0.8" fill="#dcdc70"/>
<circle cx="282.2" cy="215.0" r="0.8" fill="#dcdc70"/>
<circle cx="276.4" cy="222.1" r="0.8" fill="#d0d060"/>
<circle cx="282.1" cy="213.5" r="0.8" fill="#98a850"/>
<circle cx="282.1" cy="216.8" r="0.8" fill="#8a9c48"/>
<circle cx="281.7" cy="219.9" r="0.8" fill="#7a9040"/>
<circle cx="275.6" cy="217.5" r="0.8" fill="#8a9c48"/>
<circle cx="281.8" cy="219.2" r="0.8" fill="#98a850"/>
<circle cx="282.1" cy="217.2" r="0.8" fill="#8a9c48"/>
<circle cx="275.7" cy="211.7" r="0.8" fill="#7a9040"/>
<circle cx="282.0" cy="217.1" r="0.8" fill="#6a8040"/>
<circle cx="276.6" cy="222.5" r="0.8" fill="#7a9040"/>
<circle cx="276.8" cy="222.9" r="0.8" fill="#98a850"/>
<circle cx="275.6" cy="217.1" r="0.8" fill="#7a9040"/>
<circle cx="281.5" cy="220.6" r="0.8" fill="#98a850"/>
<circle cx="275.6" cy="214.7" r="0.8" fill="#98a850"/>
<circle cx="278.4" cy="224.8" r="0.8" fill="#7a9040"/>
<circle cx="280.4" cy="206.5" r="0.8" fill="#98a850"/>
<circle cx="276.6" cy="222.2" r="0.8" fill="#8a9c48"/>
<circle cx="282.0" cy="215.4" r="0.8" fill="#6a8040"/>
<circle cx="279.6" cy="205.6" r="0.8" fill="#7a9040"/>
<circle cx="281.0" cy="222.1" r="0.8" fill="#98a850"/>
<circle cx="281.4" cy="220.7" r="0.8" fill="#98a850"/>
<circle cx="279.3" cy="224.5" r="0.8" fill="#7a9040"/>
<circle cx="281.7" cy="219.1" r="0.8" fill="#7a9040"/>
<circle cx="281.9" cy="213.6" r="0.8" fill="#6a8040"/>
<circle cx="280.6" cy="222.8" r="0.8" fill="#7a9040"/>
<circle cx="278.3" cy="224.4" r="0.8" fill="#8a9c48"/>
<circle cx="277.2" cy="223.2" r="0.8" fill="#7a9040"/>
<circle cx="280.5" cy="207.0" r="0.8" fill="#98a850"/>
<circle cx="277.2" cy="223.2" r="0.8" fill="#6a8040"/>
<circle cx="280.6" cy="207.3" r="0.8" fill="#7a9040"/>
<circle cx="278.2" cy="205.8" r="0.8" fill="#6a8040"/>
<circle cx="278.7" cy="224.4" r="0.8" fill="#7a9040"/>
<circle cx="275.7" cy="215.0" r="0.8" fill="#8a9c48"/>
<circle cx="281.2" cy="220.8" r="0.8" fill="#8a9c48"/>
<circle cx="276.1" cy="210.5" r="0.8" fill="#6a8040"/>
<circle cx="279.5" cy="224.1" r="0.8" fill="#7a9040"/>
<circle cx="275.8" cy="213.2" r="0.8" fill="#6a8040"/>
<circle cx="277.9" cy="223.9" r="0.8" fill="#6a8040"/>
<circle cx="281.2" cy="220.8" r="0.8" fill="#7a9040"/>
<circle cx="276.1" cy="210.8" r="0.8" fill="#98a850"/>
<circle cx="278.7" cy="224.2" r="0.8" fill="#98a850"/>
<circle cx="276.8" cy="208.3" r="0.8" fill="#6a8040"/>
<circle cx="281.8" cy="214.1" r="0.8" fill="#98a850"/>
<circle cx="279.7" cy="223.6" r="0.8" fill="#8a9c48"/>
<circle cx="279.0" cy="224.0" r="0.8" fill="#98a850"/>
<circle cx="279.4" cy="223.8" r="0.8" fill="#98a850"/>
<circle cx="275.9" cy="216.8" r="0.8" fill="#8a9c48"/>
<circle cx="277.4" cy="207.2" r="0.8" fill="#7a9040"/>
<circle cx="281.6" cy="217.7" r="0.8" fill="#7a9040"/>
<circle cx="278.2" cy="223.7" r="0.8" fill="#8a9c48"/>
<circle cx="281.5" cy="218.7" r="0.8" fill="#98a850"/>
<circle cx="278.3" cy="223.8" r="0.8" fill="#6a8040"/>
<circle cx="278.5" cy="206.2" r="0.8" fill="#6a8040"/>
<circle cx="276.3" cy="210.4" r="0.8" fill="#6a8040"/>
<circle cx="277.0" cy="208.1" r="0.8" fill="#8a9c48"/>
<circle cx="279.2" cy="223.7" r="0.8" fill="#6a8040"/>
<circle cx="281.1" cy="209.9" r="0.8" fill="#98a850"/>
<circle cx="281.4" cy="211.4" r="0.8" fill="#98a850"/>
<circle cx="276.1" cy="212.4" r="0.8" fill="#6a8040"/>
<circle cx="277.8" cy="206.8" r="0.8" fill="#8a9c48"/>
<circle cx="280.2" cy="222.6" r="0.8" fill="#98a850"/>
<circle cx="280.9" cy="209.3" r="0.8" fill="#7a9040"/>
<circle cx="277.3" cy="222.3" r="0.8" fill="#98a850"/>
<circle cx="276.6" cy="209.8" r="0.8" fill="#7a9040"/>
<circle cx="280.5" cy="221.8" r="0.8" fill="#98a850"/>
<circle cx="280.3" cy="222.3" r="0.8" fill="#7a9040"/>
<circle cx="279.3" cy="206.6" r="0.8" fill="#7a9040"/>
<circle cx="279.4" cy="223.3" r="0.8" fill="#7a9040"/>
<circle cx="278.6" cy="223.5" r="0.8" fill="#7a9040"/>
<circle cx="276.1" cy="216.5" r="0.8" fill="#8a9c48"/>
<circle cx="278.2" cy="223.2" r="0.8" fill="#98a850"/>
<circle cx="281.5" cy="212.5" r="0.8" fill="#8a9c48"/>
<circle cx="277.7" cy="207.3" r="0.8" fill="#98a850"/>
<circle cx="277.5" cy="222.5" r="0.8" fill="#7a9040"/>
<circle cx="281.5" cy="216.7" r="0.8" fill="#7a9040"/>
<circle cx="276.1" cy="216.9" r="0.8" fill="#8a9c48"/>
<circle cx="279.9" cy="222.7" r="0.8" fill="#98a850"/>
<circle cx="276.1" cy="214.5" r="0.8" fill="#6a8040"/>
<circle cx="280.7" cy="220.9" r="0.8" fill="#8a9c48"/>
<circle cx="278.9" cy="206.7" r="0.8" fill="#6a8040"/>
<circle cx="278.2" cy="206.9" r="0.8" fill="#7a9040"/>
<circle cx="279.6" cy="207.1" r="0.8" fill="#8a9c48"/>
<circle cx="278.8" cy="223.2" r="0.8" fill="#8a9c48"/>
<circle cx="276.6" cy="210.1" r="0.8" fill="#98a850"/>
<circle cx="278.2" cy="222.9" r="0.8" fill="#7a9040"/>
<circle cx="277.1" cy="208.7" r="0.8" fill="#98a850"/>
<circle cx="280.6" cy="220.9" r="0.8" fill="#7a9040"/>
<circle cx="276.3" cy="212.4" r="0.8" fill="#8a9c48"/>
<circle cx="280.3" cy="221.6" r="0.8" fill="#98a850"/>
<circle cx="280.3" cy="221.7" r="0.8" fill="#7a9040"/>
<circle cx="278.3" cy="222.8" r="0.8" fill="#8a9c48"/>
<circle cx="280.5" cy="209.1" r="0.8" fill="#7a9040"/>
<circle cx="281.3" cy="213.3" r="0.8" fill="#98a850"/>
<circle cx="277.0" cy="209.2" r="0.8" fill="#8a9c48"/>
<circle cx="278.8" cy="207.1" r="0.8" fill="#8a9c48"/>
<circle cx="280.2" cy="208.5" r="0.8" fill="#6a8040"/>
<circle cx="279.8" cy="222.1" r="0.8" fill="#6a8040"/>
<circle cx="276.4" cy="212.8" r="0.8" fill="#8a9c48"/>
<circle cx="276.4" cy="212.5" r="0.8" fill="#7a9040"/>
<circle cx="278.3" cy="222.5" r="0.8" fill="#98a850"/>
<circle cx="281.0" cy="218.9" r="0.8" fill="#8a9c48"/>
<circle cx="280.8" cy="219.8" r="0.8" fill="#8a9c48"/>
<circle cx="279.5" cy="222.4" r="0.8" fill="#8a9c48"/>
<circle cx="276.4" cy="217.1" r="0.8" fill="#98a850"/>
<circle cx="280.9" cy="210.8" r="0.8" fill="#8a9c48"/>
<circle cx="280.7" cy="210.2" r="0.8" fill="#98a850"/>
<circle cx="278.7" cy="222.6" r="0.8" fill="#8a9c48"/>
<circle cx="277.3" cy="208.9" r="0.8" fill="#8a9c48"/>
<circle cx="278.1" cy="222.2" r="0.8" fill="#98a850"/>
<circle cx="281.3" cy="214.7" r="0.8" fill="#8a9c48"/>
<circle cx="277.8" cy="208.1" r="0.8" fill="#6a8040"/>
<circle cx="277.6" cy="221.6" r="0.8" fill="#98a850"/>
<circle cx="277.1" cy="209.7" r="0.8" fill="#7a9040"/>
<circle cx="276.5" cy="217.5" r="0.8" fill="#6a8040"/>
<circle cx="280.5" cy="209.8" r="0.8" fill="#8a9c48"/>
<circle cx="278.7" cy="207.7" r="0.8" fill="#6a8040"/>
<circle cx="277.6" cy="208.6" r="0.8" fill="#8a9c48"/>
<circle cx="281.0" cy="212.2" r="0.8" fill="#98a850"/>
<circle cx="277.7" cy="208.6" r="0.8" fill="#6a8040"/>
<circle cx="279.9" cy="208.7" r="0.8" fill="#8a9c48"/>
<circle cx="278.3" cy="222.0" r="0.8" fill="#6a8040"/>
<circle cx="276.6" cy="217.3" r="0.8" fill="#6a8040"/>
<circle cx="278.5" cy="208.0" r="0.8" fill="#6a8040"/>
<circle cx="276.9" cy="211.1" r="0.8" fill="#8a9c48"/>
<circle cx="276.6" cy="217.1" r="0.8" fill="#5a7040"/>
<circle cx="279.3" cy="221.7" r="0.8" fill="#5a7040"/>
<circle cx="278.7" cy="221.8" r="0.8" fill="#4a6048"/>
<circle cx="277.4" cy="209.6" r="0.8" fill="#4a6048"/>
<circle cx="277.6" cy="209.2" r="0.8" fill="#4a5aa0"/>
<circle cx="280.8" cy="218.1" r="0.8" fill="#3e4e90"/>
<circle cx="277.2" cy="210.2" r="0.8" fill="#4a5aa0"/>
<circle cx="276.7" cy="212.5" r="0.8" fill="#5a7040"/>
<circle cx="278.2" cy="221.4" r="0.8" fill="#4a5aa0"/>
<circle cx="276.6" cy="215.4" r="0.8" fill="#4a6048"/>
<circle cx="279.3" cy="208.5" r="0.8" fill="#3e4e90"/>
<circle cx="277.2" cy="210.3" r="0.8" fill="#4a5aa0"/>
<circle cx="277.2" cy="219.7" r="0.8" fill="#5a7040"/>
<circle cx="279.5" cy="221.3" r="0.8" fill="#4a6048"/>
<circle cx="277.3" cy="219.9" r="0.8" fill="#4a5aa0"/>
<circle cx="281.0" cy="215.4" r="0.8" fill="#3e4e90"/>
<circle cx="280.6" cy="218.8" r="0.8" fill="#4a6048"/>
<circle cx="280.9" cy="216.6" r="0.8" fill="#4a6048"/>
<circle cx="280.9" cy="213.7" r="0.8" fill="#4a6048"/>
<circle cx="277.9" cy="220.9" r="0.8" fill="#4a5aa0"/>
<circle cx="277.7" cy="220.5" r="0.8" fill="#3e4e90"/>
<circle cx="278.8" cy="208.5" r="0.8" fill="#3e4e90"/>
<circle cx="276.8" cy="213.3" r="0.8" fill="#4a5aa0"/>
<circle cx="280.2" cy="219.7" r="0.8" fill="#5a7040"/>
<circle cx="277.5" cy="220.0" r="0.8" fill="#3e4e90"/>
<circle cx="279.6" cy="209.1" r="0.8" fill="#5a7040"/>
<circle cx="277.7" cy="209.6" r="0.8" fill="#3e4e90"/>
<circle cx="278.0" cy="220.8" r="0.8" fill="#4a6048"/>
<circle cx="276.8" cy="217.1" r="0.8" fill="#4a6048"/>
<circle cx="280.6" cy="218.0" r="0.8" fill="#4a5aa0"/>
<circle cx="280.6" cy="211.9" r="0.8" fill="#3e4e90"/>
<circle cx="277.0" cy="218.0" r="0.8" fill="#3e4e90"/>
<circle cx="276.8" cy="214.0" r="0.8" fill="#4a6048"/>
<circle cx="280.0" cy="210.0" r="0.8" fill="#4a6048"/>
<circle cx="277.8" cy="220.4" r="0.8" fill="#4a5aa0"/>
<circle cx="276.9" cy="216.9" r="0.8" fill="#5a7040"/>
<circle cx="276.8" cy="214.8" r="0.8" fill="#5a7040"/>
<circle cx="280.4" cy="211.3" r="0.8" fill="#3e4e90"/>
<circle cx="279.6" cy="220.6" r="0.8" fill="#4a6048"/>
<circle cx="277.9" cy="220.5" r="0.8" fill="#5a7040"/>
<circle cx="276.9" cy="213.2" r="0.8" fill="#5a7040"/>
<circle cx="277.1" cy="218.2" r="0.8" fill="#4a5aa0"/>
<circle cx="280.3" cy="219.0" r="0.8" fill="#3e4e90"/>
<circle cx="279.8" cy="220.2" r="0.8" fill="#4a6048"/>
<circle cx="280.3" cy="211.4" r="0.8" fill="#4a5aa0"/>
<circle cx="280.6" cy="213.2" r="0.8" fill="#3e4e90"/>
<circle cx="278.0" cy="220.4" r="0.8" fill="#4a5aa0"/>
<circle cx="279.5" cy="209.5" r="0.8" fill="#5a7040"/>
<circle cx="279.3" cy="209.4" r="0.8" fill="#5a7040"/>
<circle cx="280.6" cy="213.5" r="0.8" fill="#5a7040"/>
<circle cx="280.7" cy="214.2" r="0.8" fill="#4a5aa0"/>
<circle cx="280.5" cy="217.4" r="0.8" fill="#5a7040"/>
<circle cx="280.3" cy="211.5" r="0.8" fill="#4a6048"/>
<circle cx="279.8" cy="219.9" r="0.8" fill="#5a7040"/>
<circle cx="278.3" cy="220.4" r="0.8" fill="#4a5aa0"/>
<circle cx="280.2" cy="218.7" r="0.8" fill="#4a5aa0"/>
<circle cx="280.5" cy="212.6" r="0.8" fill="#3e4e90"/>
<circle cx="280.4" cy="217.9" r="0.8" fill="#4a6048"/>
<circle cx="278.1" cy="220.2" r="0.8" fill="#3e4e90"/>
<circle cx="277.5" cy="211.0" r="0.8" fill="#4a5aa0"/>
<circle cx="280.4" cy="212.2" r="0.8" fill="#5a7040"/>
<circle cx="279.4" cy="209.8" r="0.8" fill="#5a7040"/>
<circle cx="278.1" cy="220.0" r="0.8" fill="#3e4e90"/>
<circle cx="280.0" cy="210.9" r="0.8" fill="#5a7040"/>
<circle cx="280.2" cy="218.5" r="0.8" fill="#4a6048"/>
<circle cx="279.0" cy="209.6" r="0.8" fill="#4a5aa0"/>
<circle cx="277.1" cy="213.7" r="0.8" fill="#4a6048"/>
<circle cx="278.1" cy="219.9" r="0.8" fill="#3e4e90"/>
<circle cx="279.2" cy="220.2" r="0.8" fill="#3e4e90"/>
<circle cx="279.8" cy="210.6" r="0.8" fill="#4a5aa0"/>
<circle cx="278.3" cy="220.1" r="0.8" fill="#3e4e90"/>
<circle cx="277.7" cy="218.9" r="0.8" fill="#3e4e90"/>
<circle cx="277.2" cy="216.5" r="0.8" fill="#5a7040"/>
<circle cx="280.2" cy="217.8" r="0.8" fill="#3e4e90"/>
<circle cx="280.4" cy="216.7" r="0.8" fill="#4a6048"/>
<circle cx="278.0" cy="219.5" r="0.8" fill="#3e4e90"/>
<circle cx="277.2" cy="216.2" r="0.8" fill="#3e4e90"/>
<circle cx="277.3" cy="212.9" r="0.8" fill="#3e4e90"/>
<circle cx="277.2" cy="216.3" r="0.8" fill="#3e4e90"/>
<circle cx="277.2" cy="214.5" r="0.8" fill="#3e4e90"/>
<circle cx="279.2" cy="219.8" r="0.8" fill="#3e4e90"/>
<circle cx="277.6" cy="218.2" r="0.8" fill="#3e4e90"/>
<circle cx="280.2" cy="217.4" r="0.8" fill="#5a7040"/>
<circle cx="280.2" cy="212.6" r="0.8" fill="#5a7040"/>
<circle cx="277.9" cy="218.9" r="0.8" fill="#4a6048"/>
<circle cx="279.8" cy="211.3" r="0.8" fill="#3e4e90"/>
<circle cx="277.3" cy="216.5" r="0.8" fill="#4a5aa0"/>
<circle cx="280.3" cy="213.5" r="0.8" fill="#4a5aa0"/>
<circle cx="280.2" cy="216.9" r="0.8" fill="#3e4e90"/>
<circle cx="279.5" cy="219.3" r="0.8" fill="#4a6048"/>
<circle cx="278.7" cy="210.2" r="0.8" fill="#5a7040"/>
<circle cx="280.4" cy="214.8" r="0.8" fill="#5a7040"/>
<circle cx="279.6" cy="219.0" r="0.8" fill="#4a6048"/>
<circle cx="278.5" cy="210.5" r="0.8" fill="#5a7040"/>
<circle cx="279.9" cy="218.1" r="0.8" fill="#4a5aa0"/>
<circle cx="277.8" cy="218.5" r="0.8" fill="#4a5aa0"/>
<circle cx="280.3" cy="216.1" r="0.8" fill="#3e4e90"/>
<circle cx="277.3" cy="214.5" r="0.8" fill="#4a5aa0"/>
<circle cx="277.3" cy="214.4" r="0.8" fill="#3e4e90"/>
<circle cx="277.9" cy="211.5" r="0.8" fill="#3e4e90"/>
<circle cx="278.6" cy="219.3" r="0.8" fill="#5a7040"/>
<circle cx="277.5" cy="216.9" r="0.8" fill="#3e4e90"/>
<circle cx="280.1" cy="213.7" r="0.8" fill="#4a5aa0"/>
<circle cx="280.2" cy="214.9" r="0.8" fill="#4a5aa0"/>
<circle cx="277.7" cy="212.5" r="0.8" fill="#4a5890"/>
<circle cx="277.8" cy="217.7" r="0.8" fill="#3444a8"/>
<circle cx="279.3" cy="211.2" r="0.8" fill="#3a48b0"/>
<circle cx="277.6" cy="217.0" r="0.8" fill="#4050b8"/>
<circle cx="279.1" cy="211.1" r="0.8" fill="#3444a8"/>
<circle cx="279.0" cy="219.0" r="0.8" fill="#4a5890"/>
<circle cx="277.5" cy="214.3" r="0.8" fill="#4a5890"/>
<circle cx="277.5" cy="215.2" r="0.8" fill="#4050b8"/>
<circle cx="277.6" cy="216.5" r="0.8" fill="#3444a8"/>
<circle cx="278.2" cy="218.4" r="0.8" fill="#3a48b0"/>
<circle cx="279.9" cy="216.9" r="0.8" fill="#4050b8"/>
<circle cx="278.3" cy="218.5" r="0.8" fill="#3a48b0"/>
<circle cx="279.4" cy="218.3" r="0.8" fill="#4050b8"/>
<circle cx="278.4" cy="211.5" r="0.8" fill="#3444a8"/>
<circle cx="279.6" cy="217.9" r="0.8" fill="#4a5890"/>
<circle cx="279.0" cy="211.4" r="0.8" fill="#3a48b0"/>
<circle cx="279.9" cy="216.2" r="0.8" fill="#3444a8"/>
<circle cx="278.3" cy="211.7" r="0.8" fill="#4a5890"/>
<circle cx="279.4" cy="212.0" r="0.8" fill="#4050b8"/>
<circle cx="278.1" cy="212.2" r="0.8" fill="#3444a8"/>
<circle cx="278.1" cy="212.2" r="0.8" fill="#3a48b0"/>
<circle cx="278.2" cy="217.8" r="0.8" fill="#4050b8"/>
<circle cx="279.8" cy="216.6" r="0.8" fill="#3a48b0"/>
<circle cx="277.7" cy="215.9" r="0.8" fill="#3444a8"/>
<circle cx="279.0" cy="211.7" r="0.8" fill="#3444a8"/>
<circle cx="278.3" cy="218.0" r="0.8" fill="#3a48b0"/>
<circle cx="278.7" cy="211.8" r="0.8" fill="#3a48b0"/>
<circle cx="279.8" cy="213.6" r="0.8" fill="#3a48b0"/>
<circle cx="277.9" cy="213.3" r="0.8" fill="#4050b8"/>
<circle cx="278.7" cy="218.2" r="0.8" fill="#4a5890"/>
<circle cx="279.7" cy="213.3" r="0.8" fill="#4a5890"/>
<circle cx="279.4" cy="217.6" r="0.8" fill="#4050b8"/>
<circle cx="278.3" cy="212.4" r="0.8" fill="#3a48b0"/>
<circle cx="278.0" cy="216.7" r="0.8" fill="#4a5890"/>
<circle cx="278.0" cy="213.5" r="0.8" fill="#3444a8"/>
<circle cx="277.8" cy="215.0" r="0.8" fill="#3a48b0"/>
<circle cx="277.9" cy="215.6" r="0.8" fill="#3444a8"/>
<circle cx="277.9" cy="216.1" r="0.8" fill="#3444a8"/>
<circle cx="278.0" cy="213.9" r="0.8" fill="#3444a8"/>
<circle cx="279.6" cy="216.3" r="0.8" fill="#3444a8"/>
<circle cx="279.6" cy="214.5" r="0.8" fill="#3a48b0"/>
<circle cx="279.5" cy="213.9" r="0.8" fill="#4050b8"/>
<circle cx="279.2" cy="212.9" r="0.8" fill="#4050b8"/>
<circle cx="278.0" cy="215.0" r="0.8" fill="#4a5890"/>
<circle cx="278.3" cy="213.2" r="0.8" fill="#4050b8"/>
<circle cx="278.5" cy="212.9" r="0.8" fill="#3444a8"/>
<circle cx="279.5" cy="214.5" r="0.8" fill="#3a48b0"/>
<circle cx="279.3" cy="213.6" r="0.8" fill="#3444a8"/>
<circle cx="279.1" cy="213.3" r="0.8" fill="#3a48b0"/>
<circle cx="279.4" cy="215.5" r="0.8" fill="#4050b8"/>
<circle cx="278.7" cy="216.8" r="0.8" fill="#4a5890"/>
<circle cx="278.4" cy="213.8" r="0.8" fill="#3a48b0"/>
<circle cx="278.3" cy="214.1" r="0.8" fill="#4050b8"/>
<circle cx="278.5" cy="216.2" r="0.8" fill="#3a48b0"/>
<circle cx="279.1" cy="215.9" r="0.8" fill="#4a5890"/>
<circle cx="279.1" cy="215.6" r="0.8" fill="#3444a8"/>
<circle cx="278.7" cy="215.7" r="0.8" fill="#4a5890"/>
<circle cx="279.0" cy="214.8" r="0.8" fill="#4050b8"/>
<circle cx="278.6" cy="214.9" r="0.8" fill="#3a48b0"/>
<circle cx="278.7" cy="214.4" r="0.8" fill="#3444a8"/>
<circle cx="278.7" cy="215.5" r="0.8" fill="#3a48b0"/>
<circle cx="278.6" cy="214.8" r="0.8" fill="#3a48b0"/>
<circle cx="278.9" cy="215.0" r="0.8" fill="#3a48b0"/>
</g>
<ellipse cx="278.4" cy="212" rx="1.8" ry="4.5" fill="#3a48b0" opacity="0.5" filter="url(#bl2)"/>
<rect x="247.80" y="183.90" width="24.70" height="17.10" fill="none" stroke="#93294c" stroke-width="1.4" />
<rect x="272.50" y="183.90" width="13.30" height="17.10" fill="none" stroke="#34346e" stroke-width="1.35" />
<rect x="272.50" y="201.00" width="13.30" height="33.40" fill="none" stroke="#34346e" stroke-width="1.35" />
<line x1="272.50" y1="201.00" x2="285.80" y2="201.00" stroke="#2a2a60" stroke-width="1.5" />
<text x="250.70" y="179.20" font-size="5.0" fill="#4a6088" stroke="#4a6088" stroke-width="0.03" textLength="60.3" lengthAdjust="spacingAndGlyphs">CD16bright/CD62Lbright</text>
<text x="207.00" y="207.90" font-size="5.0" fill="#b23a66" stroke="#b23a66" stroke-width="0.03" textLength="52.0" lengthAdjust="spacingAndGlyphs">CD16dim/CD62Lbright</text>
<text x="257.80" y="241.90" font-size="5.0" fill="#4a4478" stroke="#4a4478" stroke-width="0.03" textLength="53.5" lengthAdjust="spacingAndGlyphs">CD16bright/CD62Ldim</text>
</g>
<rect x="0.5" y="0.5" width="518.5" height="713.5" fill="none" stroke="#000" stroke-width="1"/>
<line x1="519.5" y1="0" x2="519.5" y2="715" stroke="#000" stroke-width="1"/>
<line x1="0" y1="714.5" x2="520" y2="714.5" stroke="#000" stroke-width="1"/>
</svg></body></html>
